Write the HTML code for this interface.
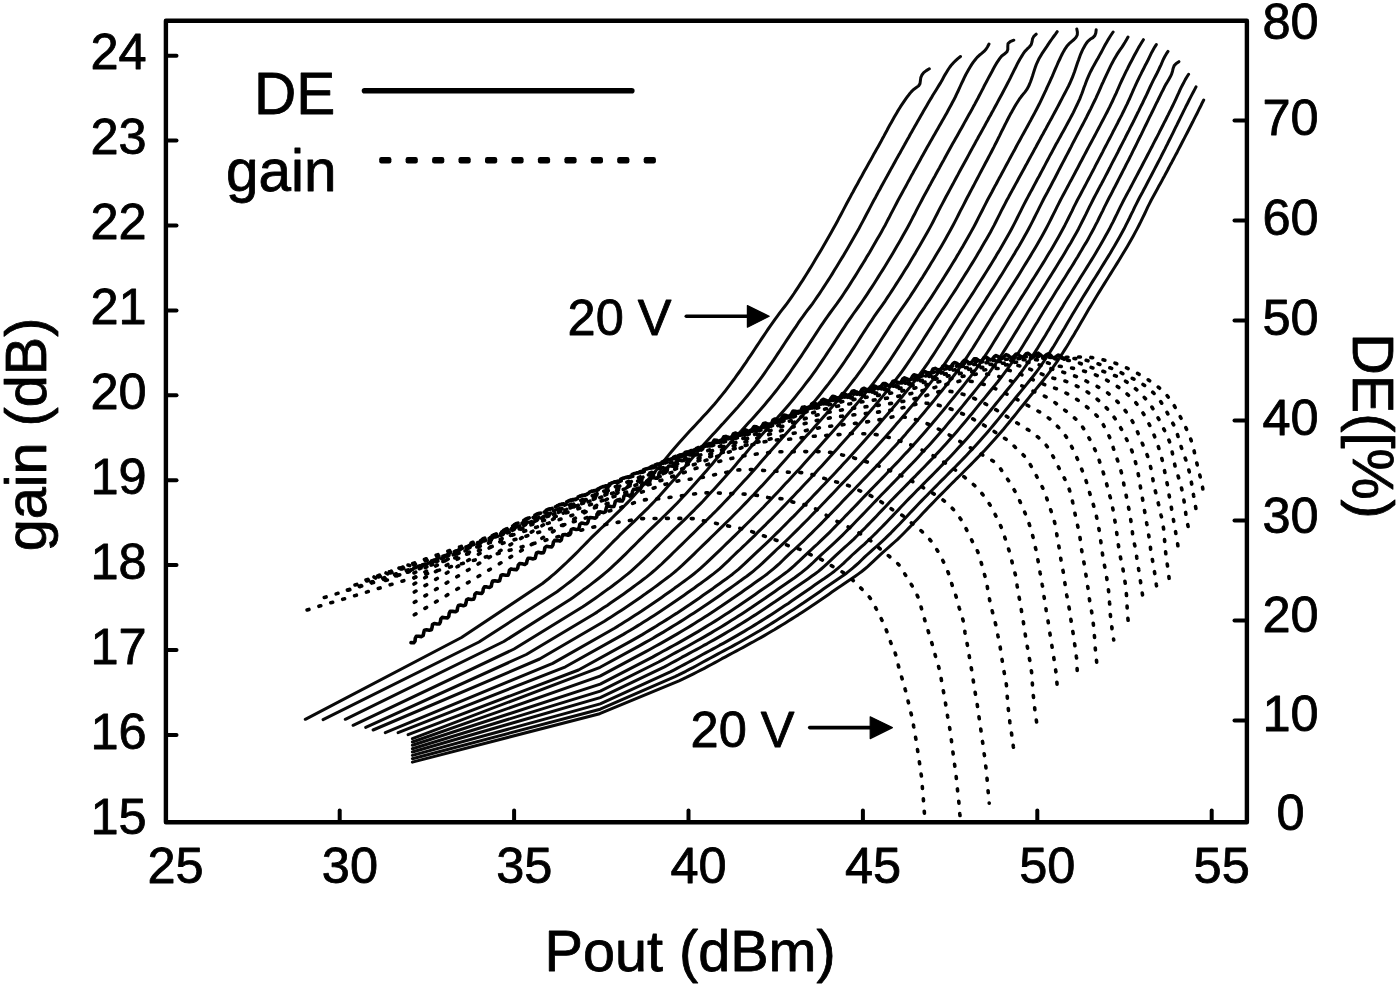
<!DOCTYPE html>
<html lang="en"><head><meta charset="utf-8"><title>gain and DE versus Pout</title><style>html,body{margin:0;padding:0;background:#fff}svg{display:block;filter:blur(0.65px)}</style></head><body>
<svg width="1400" height="989" viewBox="0 0 1400 989">
<rect width="1400" height="989" fill="#fff"/>
<g fill="none" stroke="#0a0a0a" stroke-width="3.0" stroke-linejoin="round" stroke-linecap="round">
<path d="M305.3 719.3 L461.5 637.5 L542.5 583.5 L545.6 581 L548.8 578.5 L551.8 575.9 L554.9 573.3 L557.9 570.6 L560.9 567.9 L563.8 565.2 L566.7 562.5 L569.6 559.7 L572.5 556.9 L575.3 554.1 L578.2 551.2 L581 548.3 L583.8 545.5 L586.6 542.6 L589.4 539.7 L592.2 536.9 L595.1 534.1 L598 531.3 L600.9 528.5 L603.8 525.8 L606.7 523 L609.6 520.3 L612.5 517.5 L615.4 514.7 L618.3 511.9 L621.2 509.1 L624 506.3 L626.8 503.4 L629.6 500.5 L632.3 497.5 L635 494.6 L637.7 491.6 L640.3 488.6 L643 485.6 L645.6 482.6 L648.2 479.5 L650.9 476.5 L653.5 473.4 L656.1 470.4 L658.6 467.3 L661.2 464.2 L663.7 461.1 L666.3 458 L668.8 454.9 L671.4 451.8 L674 448.7 L676.6 445.7 L679.2 442.7 L681.9 439.7 L684.6 436.7 L687.3 433.8 L690 430.8 L692.8 427.9 L695.5 425 L698.2 422 L701 419.1 L703.7 416.1 L706.4 413.2 L709.1 410.2 L711.7 407.2 L714.4 404.2 L717 401.1 L719.5 398 L722.1 394.9 L724.6 391.8 L727 388.6 L729.5 385.4 L731.9 382.2 L734.3 379 L736.6 375.7 L738.9 372.5 L741.3 369.2 L743.5 365.9 L745.8 362.6 L748 359.2 L750.3 355.9 L752.5 352.6 L754.7 349.2 L756.9 345.9 L759.2 342.5 L761.4 339.2 L763.6 335.9 L765.9 332.5 L768.1 329.2 L770.4 325.9 L772.7 322.6 L775 319.3 L777.4 316.1 L779.7 312.9 L782.2 309.7 L784.7 306.5 L787.1 303.3 L789.4 300.1 L791.7 296.8 L794 293.5 L796.2 290.1 L798.4 286.8 L800.6 283.4 L802.8 280.1 L804.9 276.7 L807.1 273.3 L809.2 269.9 L811.3 266.4 L813.4 263 L815.4 259.6 L817.5 256.1 L819.5 252.7 L821.6 249.2 L823.6 245.8 L825.6 242.3 L827.6 238.8 L829.6 235.3 L831.6 231.8 L833.5 228.3 L835.5 224.8 L837.4 221.3 L839.2 217.7 L841.1 214.2 L843 210.6 L844.8 207.1 L846.7 203.5 L848.6 200 L850.1 197.3 L851.5 194.6 L853 192 L854.4 189.3 L855.9 186.6 L857.4 183.9 L858.8 181.3 L860.3 178.6 L861.8 175.9 L863.2 173.3 L864.7 170.6 L866.2 167.9 L867.7 165.3 L869.2 162.6 L870.7 159.9 L872.2 157.3 L873.6 154.6 L875.1 152 L876.6 149.3 L878.1 146.7 L879.6 144 L881.1 141.3 L882.5 138.6 L884 135.9 L885.4 133.2 L886.9 130.5 L888.3 127.8 L889.8 125.1 L891.3 122.5 L892.8 119.8 L894.3 117.1 L895.8 114.5 L897.3 111.9 L898.9 109.3 L900.5 106.7 L902.2 104.2 L903.9 101.7 L905.6 99.2 L907.4 96.7 L909.2 94.3 L911.2 91.9 L913.3 89.7 L916 87.8 L918.6 85.9 L920 83.6 L920.4 80.6 L920.8 77.6 L921.9 75 L923.7 72.7 L926.3 70.6 L929.3 68.8"/>
<path d="M323.1 719.7 L479 642 L557 591.7 L560.2 589.3 L563.4 586.9 L566.6 584.4 L569.8 582 L573 579.5 L576.1 576.9 L579.2 574.4 L582.2 571.7 L585.2 569.1 L588.2 566.4 L591.2 563.6 L594.1 560.9 L597 558.1 L599.9 555.2 L602.7 552.4 L605.5 549.5 L608.4 546.6 L611.2 543.8 L614 540.9 L616.9 538.1 L619.7 535.2 L622.6 532.4 L625.5 529.6 L628.4 526.9 L631.3 524.1 L634.3 521.3 L637.2 518.5 L640.1 515.7 L643 512.9 L645.8 510.1 L648.7 507.3 L651.5 504.4 L654.3 501.5 L657 498.5 L659.8 495.6 L662.5 492.6 L665.2 489.6 L667.8 486.6 L670.5 483.6 L673.2 480.6 L675.8 477.5 L678.5 474.5 L681.1 471.5 L683.7 468.4 L686.3 465.3 L688.9 462.2 L691.4 459.1 L694 456 L696.6 453 L699.2 449.9 L701.8 446.8 L704.5 443.8 L707.2 440.8 L709.9 437.8 L712.6 434.8 L715.3 431.9 L718 428.9 L720.7 425.9 L723.5 423 L726.2 420 L728.9 417.1 L731.6 414.1 L734.3 411.1 L737 408.1 L739.6 405 L742.2 402 L744.8 398.9 L747.4 395.7 L749.9 392.6 L752.4 389.4 L754.8 386.3 L757.3 383 L759.7 379.8 L762.1 376.6 L764.4 373.3 L766.7 370 L769 366.7 L771.3 363.4 L773.6 360.1 L775.8 356.7 L778 353.4 L780.3 350 L782.5 346.7 L784.7 343.3 L786.9 339.9 L789.1 336.6 L791.4 333.2 L793.6 329.9 L795.9 326.6 L798.1 323.2 L800.4 319.9 L802.8 316.7 L805.1 313.4 L807.5 310.2 L810 307 L812.4 303.8 L814.7 300.5 L817 297.2 L819.3 293.8 L821.5 290.5 L823.7 287.1 L825.9 283.7 L828.1 280.4 L830.3 277 L832.4 273.6 L834.5 270.1 L836.6 266.7 L838.7 263.3 L840.8 259.8 L842.9 256.4 L844.9 252.9 L847 249.4 L849 246 L851 242.5 L853 239 L855 235.5 L857 232 L859 228.5 L860.9 224.9 L862.8 221.4 L864.7 217.8 L866.5 214.3 L868.4 210.7 L870.3 207.1 L872.1 203.6 L874 200 L875.5 197.4 L876.9 194.7 L878.3 192.1 L879.8 189.5 L881.2 186.8 L882.6 184.2 L884.1 181.6 L885.5 178.9 L887 176.3 L888.4 173.7 L889.9 171 L891.3 168.4 L892.8 165.8 L894.2 163.2 L895.7 160.5 L897.1 157.9 L898.6 155.3 L900.1 152.7 L901.5 150.1 L903 147.4 L904.5 144.8 L905.9 142.2 L907.4 139.6 L908.9 137 L910.3 134.3 L911.8 131.7 L913.3 129.1 L914.7 126.5 L916.2 123.9 L917.7 121.3 L919.2 118.7 L920.7 116 L922.2 113.4 L923.7 110.8 L925.2 108.2 L926.7 105.7 L928.2 103.1 L929.7 100.5 L931.3 97.9 L932.8 95.3 L934.4 92.8 L936 90.2 L937.5 87.7 L939.1 85.1 L940.7 82.6 L942.2 79.9 L943.6 77.3 L945.1 74.6 L946.7 72 L948.2 69.5 L949.9 67 L951.7 64.7 L953.7 62.5 L955.9 60.4 L958.1 58.4 L960.5 56.5"/>
<path d="M345.3 719.3 L503.8 641.5 L570.1 599.5 L573.4 597.2 L576.7 594.8 L579.9 592.5 L583.1 590.1 L586.4 587.8 L589.6 585.4 L592.8 582.9 L595.9 580.5 L599.1 578 L602.2 575.5 L605.3 572.9 L608.3 570.3 L611.3 567.6 L614.2 564.9 L617.2 562.2 L620.1 559.4 L622.9 556.6 L625.8 553.8 L628.6 551 L631.4 548.1 L634.3 545.3 L637.1 542.5 L639.9 539.6 L642.8 536.8 L645.6 534 L648.5 531.2 L651.4 528.4 L654.3 525.6 L657.2 522.9 L660.1 520.1 L662.9 517.3 L665.8 514.5 L668.7 511.7 L671.5 508.9 L674.3 506 L677.1 503.2 L679.9 500.3 L682.6 497.3 L685.3 494.4 L688 491.4 L690.7 488.5 L693.4 485.5 L696.1 482.5 L698.7 479.5 L701.4 476.5 L704 473.5 L706.7 470.5 L709.3 467.4 L711.9 464.4 L714.5 461.3 L717 458.3 L719.6 455.2 L722.2 452.1 L724.8 449.1 L727.5 446.1 L730.1 443.1 L732.8 440.1 L735.5 437.1 L738.2 434.1 L740.9 431.2 L743.6 428.2 L746.3 425.3 L749 422.3 L751.7 419.4 L754.4 416.4 L757 413.4 L759.7 410.4 L762.3 407.4 L764.9 404.4 L767.5 401.3 L770.1 398.2 L772.6 395.1 L775.1 392 L777.6 388.8 L780 385.7 L782.5 382.5 L784.9 379.3 L787.3 376 L789.6 372.8 L791.9 369.5 L794.2 366.2 L796.5 362.9 L798.7 359.6 L801 356.3 L803.2 353 L805.4 349.6 L807.6 346.3 L809.8 342.9 L812 339.6 L814.2 336.2 L816.4 332.9 L818.6 329.5 L820.8 326.2 L823.1 322.9 L825.3 319.6 L827.6 316.3 L830 313 L832.3 309.8 L834.7 306.6 L837.1 303.4 L839.4 300.1 L841.7 296.8 L843.9 293.5 L846.1 290.1 L848.3 286.8 L850.5 283.4 L852.6 280 L854.8 276.6 L856.9 273.2 L859 269.8 L861.1 266.4 L863.2 263 L865.3 259.6 L867.3 256.1 L869.4 252.7 L871.4 249.2 L873.4 245.8 L875.4 242.3 L877.4 238.8 L879.4 235.4 L881.4 231.9 L883.3 228.4 L885.3 224.9 L887.1 221.3 L889 217.8 L890.8 214.2 L892.7 210.6 L894.5 207.1 L896.4 203.5 L898.2 200 L899.7 197.3 L901.1 194.7 L902.6 192 L904 189.4 L905.5 186.7 L906.9 184.1 L908.3 181.4 L909.8 178.8 L911.2 176.1 L912.7 173.5 L914.1 170.8 L915.6 168.2 L917.1 165.5 L918.5 162.9 L920 160.3 L921.4 157.6 L922.9 155 L924.4 152.3 L925.8 149.7 L927.3 147 L928.8 144.4 L930.3 141.8 L931.8 139.2 L933.3 136.5 L934.8 133.9 L936.3 131.3 L937.8 128.7 L939.3 126.1 L940.8 123.4 L942.3 120.8 L943.8 118.2 L945.3 115.6 L946.8 112.9 L948.2 110.3 L949.7 107.6 L951.1 105 L952.5 102.3 L953.9 99.7 L955.3 97 L956.6 94.2 L957.9 91.5 L959.2 88.7 L960.4 86 L961.7 83.2 L963 80.5 L964.3 77.7 L965.6 75 L967 72.4 L968.5 69.8 L970 67.2 L971.6 64.6 L973.3 62.1 L975.2 59.7 L977.1 57.4 L979.3 55.3 L981.7 53.4 L984 51.4 L986 49.2 L987.6 46.7 L989 44"/>
<path d="M353.1 725.3 L514.1 649 L582.4 607 L585.8 604.8 L589.1 602.5 L592.4 600.3 L595.7 598 L599 595.6 L602.2 593.3 L605.5 590.9 L608.8 588.6 L612 586.2 L615.2 583.8 L618.4 581.4 L621.6 578.9 L624.7 576.4 L627.9 573.9 L630.9 571.3 L633.9 568.6 L636.9 565.9 L639.9 563.2 L642.8 560.4 L645.7 557.6 L648.6 554.8 L651.4 552 L654.3 549.2 L657.1 546.4 L660 543.5 L662.8 540.7 L665.7 537.9 L668.6 535.1 L671.4 532.2 L674.3 529.4 L677.2 526.7 L680.1 523.9 L683 521.1 L685.9 518.3 L688.7 515.5 L691.6 512.6 L694.5 509.8 L697.3 506.9 L700.1 504.1 L702.9 501.2 L705.6 498.2 L708.3 495.3 L711.1 492.3 L713.8 489.4 L716.5 486.4 L719.2 483.4 L721.9 480.4 L724.6 477.4 L727.2 474.4 L729.9 471.4 L732.6 468.4 L735.2 465.4 L737.8 462.3 L740.4 459.3 L743 456.2 L745.7 453.2 L748.3 450.1 L750.9 447.1 L753.6 444.1 L756.3 441.1 L758.9 438.1 L761.6 435.1 L764.3 432.1 L767 429.2 L769.7 426.2 L772.4 423.2 L775.1 420.2 L777.8 417.3 L780.5 414.2 L783.2 411.2 L785.8 408.2 L788.4 405.2 L791 402.1 L793.6 399 L796.1 395.9 L798.6 392.7 L801.1 389.6 L803.6 386.4 L806 383.2 L808.5 380 L810.9 376.8 L813.2 373.6 L815.6 370.3 L817.9 367 L820.2 363.7 L822.4 360.4 L824.7 357 L826.9 353.7 L829.1 350.3 L831.3 347 L833.5 343.6 L835.7 340.2 L837.9 336.9 L840.1 333.5 L842.3 330.1 L844.5 326.8 L846.7 323.4 L849 320.1 L851.3 316.8 L853.6 313.5 L855.9 310.3 L858.3 307 L860.6 303.8 L862.9 300.5 L865.2 297.1 L867.4 293.8 L869.6 290.4 L871.8 287.1 L874 283.7 L876.2 280.3 L878.3 276.9 L880.4 273.5 L882.6 270.1 L884.7 266.7 L886.8 263.2 L888.9 259.8 L890.9 256.4 L893 252.9 L895 249.4 L897 246 L899.1 242.5 L901.1 239 L903 235.5 L905 232 L907 228.5 L908.9 225 L910.8 221.4 L912.6 217.8 L914.5 214.3 L916.3 210.7 L918.1 207.1 L920 203.6 L921.9 200 L923.3 197.3 L924.8 194.6 L926.2 192 L927.7 189.3 L929.1 186.6 L930.6 183.9 L932 181.2 L933.5 178.6 L935 175.9 L936.4 173.2 L937.9 170.5 L939.4 167.9 L940.8 165.2 L942.3 162.5 L943.8 159.9 L945.2 157.2 L946.7 154.5 L948.2 151.8 L949.6 149.2 L951.1 146.5 L952.6 143.8 L954.1 141.2 L955.6 138.5 L957.1 135.9 L958.6 133.2 L960.1 130.5 L961.6 127.9 L963.1 125.2 L964.5 122.6 L966 119.9 L967.5 117.3 L969 114.6 L970.5 111.9 L972 109.3 L973.4 106.6 L974.9 103.9 L976.3 101.2 L977.8 98.5 L979.2 95.8 L980.6 93.1 L982 90.4 L983.4 87.7 L984.7 85 L986.2 82.3 L987.6 79.6 L989 76.9 L990.5 74.2 L992 71.5 L993.4 68.8 L994.9 66.1 L996.4 63.4 L998.1 60.9 L999.8 58.4 L1001.7 56 L1004.4 54 L1006.9 51.9 L1007.8 49.5 L1007.8 46.3 L1008 43.7 L1010.2 41.7 L1013.8 40.2"/>
<path d="M365.7 727.4 L526.3 654.5 L593.7 614.2 L597.1 612.1 L600.5 609.8 L603.8 607.6 L607.2 605.4 L610.5 603.1 L613.8 600.8 L617.1 598.5 L620.4 596.2 L623.7 593.9 L627 591.5 L630.2 589.2 L633.5 586.8 L636.7 584.4 L640 582 L643.2 579.5 L646.4 577.1 L649.5 574.6 L652.6 572 L655.7 569.4 L658.7 566.7 L661.7 564 L664.6 561.2 L667.5 558.4 L670.4 555.6 L673.2 552.8 L676.1 550 L679 547.2 L681.9 544.4 L684.8 541.5 L687.6 538.7 L690.5 535.9 L693.4 533.1 L696.3 530.2 L699.1 527.4 L702 524.6 L704.9 521.8 L707.8 519 L710.7 516.2 L713.5 513.3 L716.4 510.5 L719.2 507.6 L722 504.7 L724.8 501.8 L727.6 498.9 L730.3 496 L733.1 493 L735.8 490.1 L738.5 487.1 L741.3 484.1 L744 481.1 L746.7 478.2 L749.4 475.2 L752.1 472.2 L754.8 469.2 L757.4 466.2 L760.1 463.1 L762.7 460.1 L765.4 457 L768 454 L770.6 451 L773.3 447.9 L776 444.9 L778.6 441.9 L781.3 438.9 L784 435.9 L786.7 432.9 L789.4 429.9 L792.1 426.9 L794.8 424 L797.5 421 L800.2 417.9 L802.9 414.9 L805.5 411.9 L808.1 408.9 L810.8 405.8 L813.4 402.7 L815.9 399.6 L818.5 396.5 L821 393.4 L823.5 390.2 L826 387 L828.5 383.9 L830.9 380.7 L833.4 377.4 L835.8 374.2 L838.1 370.9 L840.4 367.7 L842.7 364.3 L845 361 L847.2 357.7 L849.5 354.3 L851.7 350.9 L853.9 347.6 L856.1 344.2 L858.3 340.8 L860.4 337.4 L862.6 334 L864.8 330.7 L867 327.3 L869.2 323.9 L871.5 320.6 L873.7 317.2 L876 313.9 L878.3 310.6 L880.7 307.3 L883 304.1 L885.3 300.8 L887.5 297.4 L889.8 294 L892 290.7 L894.2 287.3 L896.3 283.9 L898.5 280.5 L900.7 277.1 L902.8 273.7 L904.9 270.3 L907.1 266.9 L909.2 263.4 L911.2 260 L913.3 256.5 L915.4 253.1 L917.4 249.6 L919.5 246.1 L921.5 242.6 L923.5 239.1 L925.5 235.6 L927.5 232.1 L929.4 228.6 L931.3 225.1 L933.2 221.5 L935 217.9 L936.9 214.3 L938.7 210.7 L940.5 207.1 L942.4 203.6 L944.3 200 L945.7 197.3 L947.1 194.7 L948.6 192 L950 189.4 L951.4 186.7 L952.9 184.1 L954.3 181.4 L955.7 178.8 L957.2 176.1 L958.6 173.4 L960 170.8 L961.5 168.1 L962.9 165.5 L964.4 162.8 L965.8 160.2 L967.3 157.5 L968.7 154.9 L970.1 152.2 L971.6 149.6 L973 146.9 L974.5 144.3 L975.9 141.6 L977.4 139 L978.8 136.3 L980.3 133.7 L981.8 131.1 L983.2 128.4 L984.7 125.8 L986.1 123.1 L987.6 120.5 L989 117.8 L990.5 115.2 L991.9 112.5 L993.4 109.9 L994.8 107.3 L996.3 104.6 L997.7 101.9 L999.1 99.3 L1000.6 96.6 L1002 94 L1003.4 91.3 L1004.8 88.6 L1006.2 86 L1007.6 83.3 L1009 80.6 L1010.4 77.9 L1011.7 75.2 L1013.1 72.4 L1014.4 69.7 L1015.8 67 L1017.1 64.3 L1018.6 61.6 L1020 59 L1021.6 56.4 L1023.1 53.9 L1024.9 51.4 L1027 49.2 L1029.3 47 L1031.2 44.6 L1032 41.9 L1032.5 38.9 L1033.8 36.4 L1036.2 34.2"/>
<path d="M373.1 730 L539.6 659 L604.4 621.3 L607.8 619.1 L611.1 617 L614.5 614.8 L617.9 612.6 L621.2 610.4 L624.6 608.2 L627.9 606 L631.2 603.7 L634.5 601.5 L637.8 599.2 L641.1 596.9 L644.4 594.6 L647.6 592.2 L650.9 589.9 L654.1 587.6 L657.4 585.2 L660.6 582.8 L663.8 580.4 L667 578 L670.2 575.6 L673.3 573.1 L676.4 570.5 L679.4 567.8 L682.4 565.2 L685.3 562.4 L688.2 559.6 L691.1 556.9 L694 554.1 L696.8 551.3 L699.7 548.5 L702.6 545.7 L705.5 542.9 L708.4 540.1 L711.2 537.3 L714.1 534.5 L716.9 531.7 L719.8 528.9 L722.7 526.1 L725.5 523.3 L728.4 520.5 L731.2 517.7 L734.1 514.8 L736.9 512 L739.7 509.2 L742.5 506.3 L745.3 503.4 L748.1 500.5 L750.8 497.6 L753.6 494.7 L756.3 491.7 L759 488.8 L761.8 485.9 L764.5 482.9 L767.2 480 L769.9 477 L772.6 474.1 L775.3 471.1 L778 468.1 L780.6 465.1 L783.3 462.1 L786 459.1 L788.6 456.1 L791.2 453.1 L793.9 450.1 L796.5 447.1 L799.2 444.1 L801.9 441.1 L804.5 438.1 L807.2 435.1 L809.9 432.2 L812.6 429.2 L815.2 426.2 L817.9 423.2 L820.6 420.2 L823.2 417.2 L825.9 414.2 L828.5 411.1 L831.1 408.1 L833.7 405 L836.3 402 L838.8 398.9 L841.3 395.8 L843.9 392.6 L846.4 389.5 L848.8 386.4 L851.3 383.2 L853.7 380 L856.2 376.8 L858.5 373.6 L860.9 370.4 L863.2 367.1 L865.5 363.8 L867.7 360.5 L870 357.1 L872.2 353.8 L874.4 350.4 L876.5 347.1 L878.7 343.7 L880.9 340.3 L883 337 L885.2 333.6 L887.4 330.2 L889.5 326.9 L891.7 323.5 L893.9 320.1 L896.1 316.8 L898.4 313.5 L900.7 310.2 L903 306.9 L905.3 303.6 L907.5 300.3 L909.8 297 L911.9 293.6 L914.1 290.3 L916.3 286.9 L918.5 283.5 L920.6 280.1 L922.8 276.8 L924.9 273.4 L927 270 L929.1 266.6 L931.2 263.1 L933.3 259.7 L935.3 256.3 L937.4 252.8 L939.4 249.4 L941.5 245.9 L943.5 242.5 L945.5 239 L947.4 235.5 L949.4 232 L951.3 228.5 L953.2 225 L955.1 221.4 L956.9 217.8 L958.7 214.3 L960.5 210.7 L962.4 207.1 L964.2 203.6 L966 200 L967.4 197.3 L968.8 194.7 L970.2 192 L971.6 189.4 L973 186.7 L974.4 184.1 L975.8 181.4 L977.2 178.8 L978.6 176.1 L980 173.4 L981.4 170.8 L982.8 168.1 L984.2 165.5 L985.6 162.8 L987 160.2 L988.4 157.5 L989.8 154.9 L991.2 152.2 L992.6 149.5 L994 146.9 L995.3 144.2 L996.7 141.5 L998 138.8 L999.4 136.1 L1000.7 133.4 L1002 130.7 L1003.4 128 L1004.7 125.3 L1006.1 122.6 L1007.4 120 L1008.8 117.3 L1010.2 114.6 L1011.7 112 L1013.1 109.4 L1014.6 106.8 L1016.1 104.2 L1017.7 101.7 L1019.3 99.2 L1021.1 96.8 L1023 94.4 L1024.9 92.1 L1026.7 89.7 L1028.2 87.1 L1029.4 84.5 L1030.5 81.7 L1031.5 78.9 L1032.5 76 L1033.4 73.1 L1034.3 70.2 L1035.3 67.3 L1036.3 64.5 L1037.5 61.8 L1038.8 59.1 L1040.3 56.5 L1041.8 53.9 L1043.5 51.4 L1045.2 48.9 L1046.9 46.4 L1048.5 43.9 L1050.2 41.4 L1051.9 39 L1053.7 36.5 L1055.5 34.1 L1057.2 31.7"/>
<path d="M385.3 732.6 L552.7 663.4 L614.5 628.2 L618 626.1 L621.4 623.9 L624.8 621.8 L628.2 619.7 L631.6 617.5 L635 615.3 L638.3 613.2 L641.7 611 L645 608.7 L648.4 606.5 L651.7 604.3 L655 602 L658.3 599.7 L661.6 597.4 L664.9 595.1 L668.2 592.8 L671.5 590.5 L674.7 588.1 L678 585.8 L681.2 583.4 L684.5 581 L687.7 578.6 L690.9 576.2 L694.1 573.7 L697.2 571.2 L700.2 568.6 L703.2 565.9 L706.2 563.2 L709.1 560.4 L712 557.6 L714.9 554.8 L717.8 552.1 L720.7 549.3 L723.6 546.5 L726.5 543.7 L729.4 540.9 L732.2 538.1 L735.1 535.3 L738 532.5 L740.8 529.7 L743.7 526.9 L746.6 524 L749.4 521.2 L752.3 518.4 L755.1 515.5 L757.9 512.7 L760.8 509.8 L763.6 507 L766.3 504.1 L769.1 501.2 L771.9 498.3 L774.7 495.3 L777.4 492.4 L780.2 489.5 L782.9 486.5 L785.6 483.6 L788.4 480.7 L791.1 477.7 L793.8 474.8 L796.6 471.8 L799.3 468.9 L802 465.9 L804.6 462.9 L807.3 459.9 L810 456.9 L812.7 453.9 L815.3 450.9 L818 447.9 L820.7 444.9 L823.3 441.9 L826 438.9 L828.7 435.9 L831.4 432.9 L834.1 429.9 L836.7 426.9 L839.4 423.9 L842 420.9 L844.7 417.9 L847.3 414.8 L849.9 411.8 L852.5 408.7 L855.1 405.7 L857.7 402.6 L860.3 399.5 L862.8 396.4 L865.3 393.2 L867.8 390.1 L870.3 387 L872.8 383.8 L875.3 380.6 L877.7 377.4 L880.1 374.2 L882.5 371 L884.8 367.7 L887.1 364.4 L889.4 361.1 L891.6 357.7 L893.8 354.4 L896 351 L898.2 347.7 L900.4 344.3 L902.5 340.9 L904.7 337.5 L906.8 334.1 L909 330.7 L911.2 327.3 L913.3 324 L915.5 320.6 L917.7 317.2 L919.9 313.9 L922.2 310.6 L924.5 307.3 L926.7 303.9 L929 300.6 L931.2 297.3 L933.4 293.9 L935.6 290.5 L937.7 287.1 L939.9 283.7 L942.1 280.4 L944.2 277 L946.3 273.6 L948.5 270.1 L950.6 266.7 L952.7 263.3 L954.8 259.9 L956.8 256.4 L958.9 253 L960.9 249.5 L963 246.1 L965 242.6 L967 239.1 L969 235.6 L970.9 232.1 L972.9 228.6 L974.8 225 L976.6 221.5 L978.4 217.9 L980.2 214.3 L982.1 210.7 L983.9 207.1 L985.7 203.6 L987.5 200 L989 197.3 L990.4 194.7 L991.9 192 L993.3 189.3 L994.7 186.6 L996.2 184 L997.6 181.3 L999 178.6 L1000.5 175.9 L1001.9 173.3 L1003.4 170.6 L1004.8 167.9 L1006.2 165.3 L1007.7 162.6 L1009.1 159.9 L1010.5 157.2 L1012 154.6 L1013.4 151.9 L1014.9 149.2 L1016.3 146.5 L1017.7 143.9 L1019.2 141.2 L1020.7 138.5 L1022.1 135.9 L1023.6 133.2 L1025.1 130.6 L1026.5 127.9 L1028 125.2 L1029.4 122.6 L1030.9 119.9 L1032.3 117.2 L1033.8 114.6 L1035.2 111.9 L1036.6 109.2 L1038 106.5 L1039.4 103.8 L1040.7 101.1 L1042 98.4 L1043.3 95.6 L1044.6 92.9 L1045.9 90.1 L1047.1 87.3 L1048.4 84.6 L1049.7 81.8 L1050.9 79.1 L1052.2 76.3 L1053.4 73.5 L1054.6 70.7 L1055.8 67.9 L1057.1 65 L1058.3 62.2 L1059.6 59.5 L1060.9 56.7 L1062.2 54 L1063.6 51.4 L1065.1 48.8 L1066.8 46.3 L1068.9 43.9 L1071.5 41.7 L1074 39.5 L1076.1 37.2 L1077.3 34.8 L1077.4 32.1 L1076.8 29"/>
<path d="M398.1 732.6 L565.5 666.8 L623.4 634.4 L626.8 632.3 L630.3 630.3 L633.7 628.2 L637.1 626.1 L640.6 624 L644 621.8 L647.4 619.7 L650.8 617.5 L654.1 615.4 L657.5 613.2 L660.9 611 L664.2 608.8 L667.6 606.5 L670.9 604.3 L674.2 602 L677.5 599.8 L680.8 597.5 L684.1 595.2 L687.4 592.8 L690.7 590.5 L694 588.2 L697.2 585.8 L700.5 583.5 L703.7 581.1 L707 578.7 L710.2 576.3 L713.4 573.9 L716.5 571.4 L719.6 568.8 L722.6 566.1 L725.5 563.4 L728.5 560.6 L731.3 557.8 L734.2 555 L737.1 552.2 L740.1 549.5 L743 546.7 L745.9 544 L748.8 541.2 L751.7 538.4 L754.6 535.6 L757.4 532.7 L760.3 529.9 L763.1 527.1 L766 524.3 L768.8 521.4 L771.7 518.6 L774.5 515.7 L777.3 512.9 L780.1 510 L782.9 507.1 L785.7 504.2 L788.5 501.3 L791.3 498.4 L794.1 495.5 L796.8 492.6 L799.6 489.7 L802.3 486.7 L805.1 483.8 L807.8 480.9 L810.6 478 L813.3 475 L816.1 472.1 L818.8 469.1 L821.5 466.2 L824.2 463.2 L826.9 460.2 L829.6 457.2 L832.3 454.2 L835 451.2 L837.7 448.3 L840.3 445.3 L843 442.3 L845.7 439.3 L848.4 436.3 L851 433.3 L853.7 430.3 L856.4 427.3 L859 424.2 L861.7 421.2 L864.3 418.2 L866.9 415.1 L869.5 412.1 L872.1 409 L874.7 405.9 L877.3 402.8 L879.8 399.7 L882.4 396.6 L884.9 393.5 L887.4 390.4 L889.9 387.2 L892.4 384.1 L894.9 380.9 L897.3 377.7 L899.8 374.5 L902.1 371.3 L904.5 368 L906.8 364.7 L909 361.4 L911.3 358 L913.5 354.7 L915.7 351.3 L917.9 347.9 L920 344.6 L922.2 341.2 L924.3 337.8 L926.5 334.4 L928.6 331 L930.8 327.6 L932.9 324.2 L935.1 320.8 L937.3 317.4 L939.5 314.1 L941.7 310.7 L944 307.4 L946.2 304.1 L948.4 300.7 L950.6 297.3 L952.8 294 L955 290.6 L957.2 287.2 L959.3 283.8 L961.5 280.4 L963.6 277 L965.7 273.6 L967.9 270.2 L970 266.8 L972.1 263.4 L974.2 259.9 L976.3 256.5 L978.3 253 L980.4 249.6 L982.4 246.1 L984.4 242.6 L986.4 239.2 L988.4 235.7 L990.4 232.2 L992.3 228.6 L994.2 225.1 L996 221.5 L997.8 217.9 L999.6 214.3 L1001.4 210.7 L1003.2 207.2 L1005.1 203.6 L1006.9 200 L1008.4 197.4 L1009.8 194.7 L1011.3 192.1 L1012.7 189.4 L1014.2 186.7 L1015.6 184.1 L1017.1 181.4 L1018.5 178.8 L1020 176.1 L1021.4 173.5 L1022.9 170.8 L1024.3 168.2 L1025.7 165.5 L1027.2 162.9 L1028.6 160.2 L1030.1 157.6 L1031.5 154.9 L1033 152.3 L1034.4 149.6 L1035.9 147 L1037.3 144.3 L1038.7 141.7 L1040.2 139 L1041.6 136.3 L1043.1 133.7 L1044.5 131 L1046 128.4 L1047.4 125.7 L1048.9 123.1 L1050.3 120.4 L1051.8 117.8 L1053.2 115.1 L1054.6 112.5 L1056.1 109.8 L1057.5 107.1 L1058.9 104.5 L1060.3 101.8 L1061.7 99.1 L1063.1 96.4 L1064.5 93.8 L1065.9 91.1 L1067.3 88.4 L1068.7 85.7 L1070 83 L1071.2 80.2 L1072.4 77.4 L1073.5 74.5 L1074.6 71.5 L1075.6 68.5 L1076.6 65.5 L1077.6 62.5 L1078.7 59.6 L1079.7 56.7 L1080.8 53.8 L1082 51.1 L1083.3 48.4 L1084.7 45.9 L1086.2 43.5 L1087.8 41.3 L1090.1 39.3 L1092.9 37.6 L1094.8 35.6 L1095.8 33 L1096.2 29.8"/>
<path d="M408.1 734.6 L578.5 670 L631.8 640.6 L635.3 638.6 L638.8 636.6 L642.3 634.6 L645.7 632.5 L649.2 630.4 L652.6 628.4 L656.1 626.3 L659.5 624.1 L662.9 622 L666.3 619.9 L669.7 617.7 L673.1 615.5 L676.5 613.4 L679.8 611.2 L683.2 608.9 L686.5 606.7 L689.9 604.5 L693.2 602.2 L696.5 599.9 L699.8 597.7 L703.1 595.3 L706.4 593 L709.7 590.7 L713 588.4 L716.2 586 L719.5 583.7 L722.8 581.3 L726.1 579 L729.3 576.6 L732.5 574.2 L735.6 571.7 L738.7 569.1 L741.7 566.4 L744.7 563.7 L747.6 560.9 L750.5 558.2 L753.4 555.4 L756.3 552.6 L759.3 549.8 L762.2 547.1 L765.2 544.3 L768.1 541.6 L771 538.8 L773.8 536 L776.7 533.1 L779.6 530.3 L782.4 527.5 L785.3 524.6 L788.1 521.8 L790.9 518.9 L793.8 516.1 L796.6 513.2 L799.4 510.3 L802.2 507.4 L805 504.5 L807.8 501.6 L810.6 498.7 L813.3 495.8 L816.1 492.9 L818.9 490 L821.6 487.1 L824.4 484.2 L827.2 481.2 L830 478.3 L832.7 475.4 L835.5 472.5 L838.2 469.5 L841 466.6 L843.7 463.6 L846.4 460.7 L849.1 457.7 L851.8 454.7 L854.5 451.7 L857.2 448.7 L859.9 445.7 L862.6 442.7 L865.3 439.7 L867.9 436.7 L870.6 433.7 L873.3 430.7 L875.9 427.7 L878.6 424.7 L881.2 421.6 L883.8 418.6 L886.4 415.5 L889 412.5 L891.6 409.4 L894.2 406.3 L896.8 403.2 L899.3 400.1 L901.9 397 L904.4 393.8 L906.9 390.7 L909.5 387.6 L912 384.4 L914.5 381.3 L916.9 378.1 L919.3 374.9 L921.7 371.6 L924.1 368.4 L926.4 365.1 L928.7 361.8 L930.9 358.4 L933.1 355.1 L935.3 351.7 L937.5 348.3 L939.7 344.9 L941.8 341.5 L943.9 338.1 L946.1 334.7 L948.2 331.3 L950.3 327.9 L952.5 324.5 L954.6 321.1 L956.8 317.7 L959 314.3 L961.2 310.9 L963.4 307.6 L965.6 304.2 L967.8 300.9 L970 297.5 L972.2 294.1 L974.4 290.7 L976.5 287.3 L978.7 283.9 L980.8 280.5 L983 277.1 L985.1 273.7 L987.3 270.3 L989.4 266.9 L991.5 263.5 L993.6 260 L995.7 256.6 L997.7 253.1 L999.8 249.7 L1001.8 246.2 L1003.8 242.7 L1005.8 239.2 L1007.8 235.7 L1009.8 232.2 L1011.7 228.7 L1013.6 225.1 L1015.4 221.6 L1017.2 218 L1019 214.4 L1020.8 210.8 L1022.6 207.2 L1024.4 203.6 L1026.3 200 L1027.7 197.4 L1029.1 194.7 L1030.5 192.1 L1032 189.4 L1033.4 186.8 L1034.8 184.1 L1036.2 181.5 L1037.6 178.8 L1039.1 176.2 L1040.5 173.5 L1041.9 170.9 L1043.3 168.2 L1044.7 165.6 L1046.1 162.9 L1047.5 160.2 L1048.9 157.6 L1050.3 154.9 L1051.8 152.3 L1053.2 149.6 L1054.6 147 L1056 144.3 L1057.5 141.7 L1058.9 139.1 L1060.4 136.4 L1061.8 133.8 L1063.3 131.2 L1064.8 128.5 L1066.2 125.9 L1067.6 123.2 L1069.1 120.6 L1070.5 117.9 L1071.9 115.3 L1073.3 112.6 L1074.6 109.9 L1075.9 107.2 L1077.2 104.5 L1078.4 101.8 L1079.7 99.1 L1080.8 96.3 L1081.9 93.5 L1082.9 90.7 L1083.9 87.8 L1085 85 L1086 82.2 L1087.1 79.4 L1088.3 76.6 L1089.5 73.9 L1090.8 71.2 L1092.2 68.5 L1093.6 65.9 L1095.1 63.3 L1096.6 60.6 L1098.1 58 L1099.5 55.4 L1101 52.7 L1102.4 50.1 L1103.8 47.4 L1105.2 44.8 L1106.7 42.2 L1108.2 39.6 L1109.8 37 L1111.4 34.5 L1113.1 32"/>
<path d="M412.4 738.6 L600.1 667.3 L638.9 646.1 L642.4 644.1 L645.9 642.1 L649.4 640.2 L652.9 638.2 L656.3 636.1 L659.8 634.1 L663.3 632.1 L666.7 630 L670.2 627.9 L673.6 625.8 L677 623.7 L680.4 621.6 L683.8 619.4 L687.2 617.3 L690.6 615.1 L694 612.9 L697.3 610.7 L700.7 608.5 L704 606.3 L707.4 604 L710.7 601.8 L714 599.5 L717.3 597.2 L720.6 594.9 L723.9 592.6 L727.1 590.3 L730.4 588 L733.7 585.6 L737 583.3 L740.2 580.9 L743.5 578.6 L746.8 576.3 L750 573.8 L753.1 571.3 L756.2 568.7 L759.2 566.1 L762.2 563.4 L765.1 560.6 L768 557.8 L770.9 555.1 L773.8 552.3 L776.7 549.5 L779.7 546.8 L782.6 544.1 L785.6 541.3 L788.5 538.5 L791.3 535.7 L794.2 532.9 L797 530.1 L799.9 527.2 L802.7 524.4 L805.6 521.5 L808.4 518.7 L811.2 515.8 L814 512.9 L816.8 510 L819.6 507.2 L822.4 504.3 L825.1 501.4 L827.9 498.5 L830.7 495.6 L833.5 492.7 L836.3 489.7 L839 486.8 L841.8 483.9 L844.6 481 L847.4 478.1 L850.1 475.2 L852.9 472.3 L855.7 469.4 L858.4 466.5 L861.2 463.5 L863.9 460.6 L866.6 457.6 L869.3 454.6 L872 451.7 L874.7 448.7 L877.4 445.7 L880.1 442.7 L882.8 439.7 L885.5 436.7 L888.1 433.7 L890.8 430.7 L893.4 427.7 L896 424.6 L898.7 421.6 L901.3 418.5 L903.9 415.5 L906.5 412.4 L909 409.3 L911.6 406.2 L914.2 403.1 L916.7 400 L919.2 396.9 L921.8 393.8 L924.3 390.7 L926.8 387.5 L929.3 384.4 L931.8 381.2 L934.3 378.1 L936.7 374.9 L939.1 371.6 L941.5 368.4 L943.8 365.1 L946 361.8 L948.3 358.4 L950.5 355.1 L952.7 351.7 L954.9 348.3 L957 344.9 L959.1 341.5 L961.3 338.1 L963.4 334.7 L965.5 331.3 L967.6 327.9 L969.8 324.5 L971.9 321.1 L974 317.7 L976.2 314.3 L978.4 310.9 L980.6 307.5 L982.8 304.2 L985 300.8 L987.1 297.4 L989.3 294 L991.4 290.6 L993.6 287.3 L995.8 283.9 L997.9 280.5 L1000 277.1 L1002.2 273.7 L1004.3 270.3 L1006.4 266.8 L1008.5 263.4 L1010.6 260 L1012.7 256.5 L1014.8 253.1 L1016.8 249.6 L1018.9 246.2 L1020.9 242.7 L1022.9 239.2 L1024.8 235.7 L1026.8 232.2 L1028.7 228.7 L1030.6 225.1 L1032.4 221.6 L1034.2 218 L1036 214.4 L1037.8 210.8 L1039.6 207.2 L1041.4 203.6 L1043.2 200 L1044.6 197.3 L1046 194.7 L1047.5 192 L1048.9 189.3 L1050.3 186.7 L1051.7 184 L1053.1 181.3 L1054.5 178.7 L1055.9 176 L1057.3 173.3 L1058.6 170.7 L1060 168 L1061.4 165.3 L1062.8 162.6 L1064.2 160 L1065.6 157.3 L1067 154.6 L1068.4 152 L1069.8 149.3 L1071.2 146.6 L1072.5 143.9 L1073.9 141.3 L1075.3 138.6 L1076.7 135.9 L1078.1 133.3 L1079.5 130.6 L1080.9 127.9 L1082.3 125.2 L1083.7 122.6 L1085.1 119.9 L1086.5 117.2 L1087.8 114.5 L1089.2 111.8 L1090.6 109.1 L1091.9 106.4 L1093.2 103.7 L1094.5 101 L1095.8 98.3 L1097 95.6 L1098.3 92.8 L1099.5 90.1 L1100.7 87.3 L1101.9 84.5 L1103.2 81.8 L1104.4 79.1 L1105.7 76.3 L1107 73.6 L1108.3 70.9 L1109.6 68.2 L1110.9 65.4 L1112.3 62.8 L1113.7 60.1 L1115.2 57.5 L1116.7 54.9 L1118.3 52.4 L1120 49.9 L1121.8 47.4 L1123.4 44.9 L1125 42.3 L1126.5 39.7 L1128 37.1"/>
<path d="M412.4 742 L600 676.1 L645.8 651.6 L649.3 649.7 L652.8 647.8 L656.4 645.8 L659.9 643.9 L663.4 641.9 L666.9 639.9 L670.4 637.9 L673.8 635.9 L677.3 633.9 L680.8 631.8 L684.2 629.8 L687.6 627.7 L691.1 625.6 L694.5 623.5 L697.9 621.3 L701.3 619.2 L704.7 617 L708 614.9 L711.4 612.7 L714.8 610.5 L718.1 608.3 L721.5 606.1 L724.8 603.8 L728.1 601.6 L731.4 599.3 L734.7 597 L738 594.7 L741.3 592.4 L744.6 590.1 L747.9 587.7 L751.2 585.4 L754.5 583.1 L757.7 580.8 L761 578.5 L764.3 576.1 L767.5 573.7 L770.6 571.2 L773.7 568.6 L776.7 566 L779.7 563.3 L782.6 560.5 L785.5 557.7 L788.4 554.9 L791.3 552.2 L794.3 549.5 L797.2 546.8 L800.2 544 L803.1 541.3 L806 538.5 L808.9 535.7 L811.8 532.9 L814.6 530 L817.4 527.2 L820.3 524.4 L823.1 521.5 L825.9 518.6 L828.7 515.7 L831.5 512.9 L834.3 510 L837.1 507.1 L839.9 504.2 L842.6 501.3 L845.4 498.4 L848.2 495.5 L851 492.6 L853.8 489.7 L856.6 486.8 L859.3 483.9 L862.1 481 L864.9 478.1 L867.7 475.2 L870.5 472.3 L873.3 469.4 L876 466.5 L878.8 463.6 L881.5 460.6 L884.2 457.7 L887 454.8 L889.7 451.8 L892.4 448.8 L895.1 445.9 L897.8 442.9 L900.5 439.9 L903.1 436.9 L905.8 433.9 L908.4 430.8 L911.1 427.8 L913.7 424.8 L916.3 421.7 L918.9 418.6 L921.5 415.6 L924.1 412.5 L926.6 409.4 L929.2 406.3 L931.7 403.2 L934.3 400.1 L936.8 397 L939.3 393.9 L941.9 390.7 L944.4 387.6 L946.9 384.5 L949.4 381.3 L951.9 378.2 L954.3 375 L956.7 371.8 L959.1 368.5 L961.4 365.2 L963.7 361.9 L965.9 358.6 L968.1 355.2 L970.3 351.8 L972.5 348.5 L974.6 345.1 L976.7 341.7 L978.9 338.3 L981 334.8 L983.1 331.4 L985.2 328 L987.3 324.6 L989.4 321.2 L991.5 317.7 L993.6 314.3 L995.8 311 L998 307.6 L1000.2 304.2 L1002.3 300.8 L1004.5 297.4 L1006.6 294 L1008.8 290.6 L1010.9 287.3 L1013.1 283.9 L1015.2 280.5 L1017.4 277.1 L1019.5 273.7 L1021.6 270.2 L1023.7 266.8 L1025.8 263.4 L1027.9 260 L1030 256.6 L1032.1 253.1 L1034.1 249.7 L1036.2 246.2 L1038.2 242.7 L1040.2 239.2 L1042.2 235.7 L1044.1 232.2 L1046 228.7 L1047.9 225.1 L1049.7 221.6 L1051.5 218 L1053.3 214.4 L1055.1 210.8 L1056.9 207.2 L1058.7 203.6 L1060.5 200 L1061.9 197.4 L1063.3 194.7 L1064.8 192 L1066.2 189.4 L1067.6 186.7 L1069 184.1 L1070.4 181.4 L1071.9 178.8 L1073.3 176.1 L1074.7 173.5 L1076.1 170.8 L1077.5 168.2 L1078.9 165.5 L1080.3 162.8 L1081.7 160.2 L1083.1 157.5 L1084.5 154.9 L1085.9 152.2 L1087.3 149.5 L1088.7 146.9 L1090.1 144.2 L1091.6 141.5 L1093 138.9 L1094.4 136.2 L1095.8 133.6 L1097.2 130.9 L1098.6 128.3 L1100 125.6 L1101.4 122.9 L1102.8 120.3 L1104.2 117.6 L1105.6 114.9 L1107 112.2 L1108.3 109.6 L1109.7 106.9 L1111 104.2 L1112.3 101.5 L1113.6 98.7 L1114.8 96 L1116.1 93.3 L1117.3 90.5 L1118.5 87.8 L1119.7 85 L1120.9 82.3 L1122.2 79.5 L1123.5 76.8 L1124.8 74.1 L1126.1 71.4 L1127.5 68.7 L1128.8 66 L1130.2 63.3 L1131.6 60.7 L1133 58 L1134.4 55.3 L1135.8 52.7 L1137.3 50 L1138.7 47.4 L1140.3 44.8 L1141.8 42.3 L1143.4 39.7"/>
<path d="M412.4 745.3 L600.2 684.1 L652.5 657.1 L656 655.1 L659.5 653.2 L663 651.3 L666.6 649.4 L670.1 647.4 L673.6 645.5 L677.1 643.6 L680.6 641.6 L684.1 639.6 L687.6 637.6 L691.1 635.6 L694.5 633.6 L698 631.6 L701.4 629.5 L704.9 627.4 L708.3 625.3 L711.7 623.2 L715.1 621.1 L718.5 618.9 L721.9 616.8 L725.3 614.6 L728.6 612.4 L732 610.2 L735.3 608 L738.7 605.8 L742 603.5 L745.3 601.3 L748.6 599 L751.9 596.7 L755.2 594.4 L758.5 592.1 L761.8 589.8 L765.1 587.5 L768.4 585.2 L771.7 582.9 L775 580.6 L778.3 578.3 L781.5 575.9 L784.7 573.5 L787.9 571.1 L791 568.5 L794 565.9 L796.9 563.1 L799.9 560.4 L802.8 557.6 L805.7 554.8 L808.6 552.1 L811.6 549.4 L814.5 546.7 L817.5 544 L820.4 541.2 L823.3 538.4 L826.2 535.6 L829.1 532.8 L831.9 530 L834.7 527.1 L837.5 524.3 L840.4 521.4 L843.2 518.5 L845.9 515.6 L848.7 512.8 L851.5 509.9 L854.3 507 L857.1 504.1 L859.8 501.2 L862.6 498.3 L865.4 495.4 L868.2 492.5 L871 489.6 L873.8 486.7 L876.6 483.9 L879.4 481 L882.2 478.1 L885 475.2 L887.8 472.3 L890.6 469.4 L893.3 466.5 L896.1 463.6 L898.9 460.7 L901.6 457.8 L904.3 454.8 L907.1 451.9 L909.8 448.9 L912.5 446 L915.2 443 L917.9 440 L920.5 437 L923.2 434 L925.8 431 L928.4 427.9 L931 424.9 L933.6 421.8 L936.2 418.7 L938.8 415.6 L941.4 412.6 L943.9 409.5 L946.5 406.4 L949 403.2 L951.5 400.1 L954.1 397 L956.6 393.9 L959.2 390.8 L961.7 387.7 L964.2 384.6 L966.7 381.4 L969.2 378.3 L971.6 375.1 L974 371.9 L976.4 368.6 L978.7 365.3 L981 362 L983.2 358.7 L985.4 355.3 L987.6 352 L989.8 348.6 L991.9 345.2 L994 341.8 L996.1 338.4 L998.2 334.9 L1000.3 331.5 L1002.4 328.1 L1004.5 324.7 L1006.6 321.2 L1008.7 317.8 L1010.8 314.4 L1012.9 311 L1015.1 307.6 L1017.3 304.2 L1019.4 300.8 L1021.5 297.4 L1023.7 294 L1025.8 290.6 L1028 287.2 L1030.1 283.8 L1032.2 280.4 L1034.4 277 L1036.5 273.6 L1038.6 270.2 L1040.8 266.8 L1042.9 263.4 L1045 260 L1047 256.6 L1049.1 253.1 L1051.2 249.7 L1053.2 246.2 L1055.2 242.7 L1057.2 239.2 L1059.2 235.7 L1061.1 232.2 L1063 228.7 L1064.9 225.2 L1066.7 221.6 L1068.5 218 L1070.3 214.4 L1072.1 210.8 L1073.8 207.2 L1075.6 203.6 L1077.4 200 L1078.9 197.3 L1080.3 194.7 L1081.7 192 L1083.1 189.4 L1084.5 186.7 L1085.9 184.1 L1087.3 181.4 L1088.7 178.7 L1090.1 176.1 L1091.5 173.4 L1092.9 170.8 L1094.3 168.1 L1095.6 165.4 L1097 162.8 L1098.4 160.1 L1099.8 157.4 L1101.2 154.8 L1102.6 152.1 L1103.9 149.4 L1105.3 146.7 L1106.7 144.1 L1108.1 141.4 L1109.5 138.7 L1110.9 136.1 L1112.3 133.4 L1113.6 130.7 L1115 128.1 L1116.4 125.4 L1117.8 122.7 L1119.1 120 L1120.5 117.4 L1121.9 114.7 L1123.2 112 L1124.5 109.3 L1125.8 106.6 L1127.2 103.9 L1128.4 101.2 L1129.7 98.5 L1130.9 95.7 L1132.1 93 L1133.3 90.2 L1134.5 87.5 L1135.8 84.7 L1137 82 L1138.3 79.3 L1139.6 76.6 L1141 73.9 L1142.3 71.2 L1143.7 68.5 L1145 65.8 L1146.4 63.2 L1147.8 60.5 L1149.1 57.8 L1150.4 55.1 L1151.7 52.4 L1153.2 49.7 L1154.7 47.1 L1156.3 44.6"/>
<path d="M412.4 748.7 L600.3 691.1 L658.6 662 L662.1 660.1 L665.6 658.2 L669.1 656.3 L672.6 654.3 L676.1 652.4 L679.7 650.5 L683.2 648.6 L686.7 646.7 L690.2 644.7 L693.7 642.8 L697.2 640.8 L700.7 638.9 L704.2 636.9 L707.6 634.9 L711.1 632.9 L714.5 630.8 L718 628.7 L721.4 626.7 L724.8 624.6 L728.2 622.4 L731.6 620.3 L735 618.2 L738.4 616 L741.7 613.9 L745.1 611.7 L748.4 609.5 L751.8 607.3 L755.1 605 L758.4 602.8 L761.8 600.5 L765.1 598.3 L768.3 596 L771.6 593.7 L774.9 591.4 L778.2 589.1 L781.5 586.8 L784.8 584.5 L788 582.2 L791.3 579.9 L794.6 577.7 L797.9 575.3 L801.1 572.9 L804.2 570.4 L807.3 567.8 L810.3 565.2 L813.2 562.5 L816.1 559.7 L819 556.9 L821.9 554.2 L824.9 551.5 L827.8 548.8 L830.8 546.1 L833.8 543.4 L836.7 540.7 L839.6 537.9 L842.5 535.1 L845.3 532.3 L848.1 529.4 L851 526.6 L853.8 523.7 L856.6 520.8 L859.3 518 L862.1 515.1 L864.9 512.2 L867.7 509.3 L870.4 506.4 L873.2 503.5 L876 500.6 L878.7 497.7 L881.5 494.8 L884.3 492 L887.1 489.1 L889.9 486.2 L892.7 483.4 L895.5 480.5 L898.3 477.6 L901.1 474.8 L903.9 471.9 L906.7 469 L909.5 466.1 L912.3 463.3 L915 460.4 L917.8 457.4 L920.5 454.5 L923.2 451.6 L926 448.6 L928.7 445.7 L931.4 442.7 L934 439.7 L936.7 436.7 L939.3 433.7 L941.9 430.7 L944.6 427.7 L947.1 424.6 L949.7 421.5 L952.3 418.5 L954.8 415.4 L957.4 412.3 L959.9 409.2 L962.5 406.1 L965 403 L967.5 399.9 L970.1 396.8 L972.6 393.7 L975.1 390.6 L977.7 387.4 L980.2 384.3 L982.7 381.2 L985.1 378.1 L987.6 374.9 L990 371.7 L992.3 368.4 L994.7 365.2 L996.9 361.9 L999.2 358.5 L1001.4 355.2 L1003.5 351.8 L1005.7 348.4 L1007.8 345 L1009.9 341.6 L1012 338.2 L1014.1 334.8 L1016.2 331.4 L1018.3 327.9 L1020.3 324.5 L1022.4 321.1 L1024.5 317.7 L1026.6 314.3 L1028.7 310.8 L1030.8 307.4 L1032.9 304.1 L1035.1 300.7 L1037.2 297.3 L1039.3 293.9 L1041.4 290.5 L1043.6 287.1 L1045.7 283.7 L1047.8 280.3 L1050 276.9 L1052.1 273.5 L1054.2 270.1 L1056.3 266.7 L1058.4 263.3 L1060.5 259.9 L1062.6 256.5 L1064.7 253 L1066.7 249.6 L1068.7 246.1 L1070.8 242.7 L1072.7 239.2 L1074.7 235.7 L1076.7 232.2 L1078.6 228.7 L1080.4 225.1 L1082.2 221.5 L1084 218 L1085.8 214.4 L1087.5 210.8 L1089.3 207.2 L1091.1 203.6 L1092.9 200 L1094.3 197.3 L1095.7 194.6 L1097.1 192 L1098.5 189.3 L1099.9 186.6 L1101.4 183.9 L1102.8 181.2 L1104.2 178.6 L1105.6 175.9 L1107 173.2 L1108.4 170.5 L1109.8 167.8 L1111.1 165.1 L1112.5 162.4 L1113.9 159.7 L1115.3 157.1 L1116.7 154.4 L1118.1 151.7 L1119.4 149 L1120.8 146.3 L1122.2 143.6 L1123.6 140.9 L1125 138.2 L1126.3 135.5 L1127.7 132.8 L1129.1 130.1 L1130.4 127.4 L1131.8 124.7 L1133.2 122 L1134.5 119.3 L1135.9 116.5 L1137.2 113.8 L1138.6 111.1 L1139.9 108.4 L1141.2 105.7 L1142.6 103 L1143.9 100.2 L1145.2 97.5 L1146.5 94.8 L1147.8 92 L1149 89.3 L1150.3 86.5 L1151.6 83.8 L1152.9 81.1 L1154.3 78.4 L1155.7 75.7 L1157.1 73 L1158.4 70.3 L1159.7 67.5 L1161 64.8 L1162.2 62 L1163.4 59.2 L1164.8 56.5 L1166.3 53.9 L1168 51.4"/>
<path d="M412.4 752 L600.2 697.6 L664.5 666.9 L668 665 L671.5 663 L675.1 661.1 L678.6 659.2 L682.1 657.2 L685.7 655.3 L689.2 653.4 L692.7 651.5 L696.3 649.6 L699.8 647.7 L703.3 645.7 L706.9 643.8 L710.4 641.8 L713.9 639.9 L717.4 637.9 L720.9 635.9 L724.3 633.9 L727.8 631.8 L731.3 629.8 L734.7 627.7 L738.1 625.6 L741.6 623.5 L745 621.4 L748.4 619.2 L751.8 617 L755.2 614.9 L758.5 612.7 L761.9 610.5 L765.3 608.3 L768.6 606.1 L771.9 603.8 L775.3 601.6 L778.6 599.3 L781.9 597 L785.2 594.7 L788.5 592.4 L791.8 590.1 L795.1 587.8 L798.4 585.5 L801.7 583.2 L805 581 L808.3 578.7 L811.6 576.3 L814.9 574 L818.1 571.6 L821.2 569 L824.2 566.4 L827.2 563.7 L830.1 560.9 L833 558.1 L835.9 555.3 L838.9 552.6 L841.9 549.9 L844.9 547.2 L847.9 544.5 L850.8 541.8 L853.8 539.1 L856.6 536.3 L859.5 533.5 L862.3 530.6 L865.2 527.8 L868 524.9 L870.8 522 L873.6 519.1 L876.4 516.2 L879.1 513.3 L881.9 510.4 L884.7 507.5 L887.5 504.5 L890.2 501.6 L893 498.7 L895.8 495.9 L898.6 493 L901.5 490.1 L904.3 487.2 L907.1 484.4 L909.9 481.5 L912.7 478.6 L915.6 475.8 L918.4 472.9 L921.2 470 L924 467.2 L926.8 464.3 L929.6 461.4 L932.4 458.5 L935.1 455.5 L937.9 452.6 L940.6 449.7 L943.3 446.7 L946.1 443.7 L948.7 440.8 L951.4 437.7 L954.1 434.7 L956.7 431.7 L959.3 428.6 L961.9 425.6 L964.5 422.5 L967.1 419.4 L969.6 416.3 L972.2 413.2 L974.7 410.1 L977.3 406.9 L979.8 403.8 L982.3 400.7 L984.9 397.6 L987.4 394.5 L990 391.3 L992.5 388.2 L995 385.1 L997.6 382 L1000 378.8 L1002.5 375.6 L1004.9 372.4 L1007.3 369.2 L1009.6 365.9 L1011.9 362.6 L1014.2 359.3 L1016.4 355.9 L1018.6 352.5 L1020.7 349.2 L1022.9 345.7 L1025 342.3 L1027.1 338.9 L1029.2 335.5 L1031.3 332 L1033.3 328.6 L1035.4 325.1 L1037.5 321.7 L1039.5 318.2 L1041.6 314.8 L1043.7 311.3 L1045.8 307.9 L1047.9 304.5 L1050 301.1 L1052.2 297.7 L1054.3 294.3 L1056.4 290.8 L1058.6 287.4 L1060.7 284 L1062.8 280.6 L1065 277.2 L1067.1 273.8 L1069.2 270.4 L1071.4 267 L1073.5 263.6 L1075.6 260.1 L1077.7 256.7 L1079.7 253.2 L1081.8 249.8 L1083.8 246.3 L1085.9 242.9 L1087.9 239.4 L1089.8 235.9 L1091.8 232.3 L1093.7 228.8 L1095.5 225.2 L1097.4 221.6 L1099.1 218 L1100.9 214.4 L1102.7 210.8 L1104.4 207.2 L1106.2 203.6 L1108 200 L1109.4 197.3 L1110.8 194.7 L1112.2 192 L1113.5 189.3 L1114.9 186.7 L1116.3 184 L1117.7 181.3 L1119 178.7 L1120.4 176 L1121.8 173.3 L1123.1 170.7 L1124.5 168 L1125.8 165.3 L1127.2 162.6 L1128.6 160 L1129.9 157.3 L1131.3 154.6 L1132.6 151.9 L1133.9 149.2 L1135.3 146.5 L1136.6 143.9 L1137.9 141.2 L1139.2 138.5 L1140.6 135.8 L1141.9 133.1 L1143.2 130.4 L1144.5 127.7 L1145.8 125 L1147.1 122.3 L1148.4 119.6 L1149.7 116.9 L1151.1 114.2 L1152.4 111.5 L1153.7 108.8 L1155 106.1 L1156.3 103.4 L1157.7 100.7 L1159 98 L1160.3 95.3 L1161.6 92.6 L1163 90 L1164.3 87.3 L1165.7 84.6 L1167.3 82 L1168.8 79.4 L1170.3 76.8 L1171.6 74.1 L1172.5 71.2 L1173.2 68.2 L1174.2 65.6 L1176.2 63.5 L1178.9 61.7"/>
<path d="M412.4 755.4 L600.2 703.9 L670.3 671.9 L673.8 670.1 L677.4 668.2 L680.9 666.3 L684.5 664.4 L688 662.5 L691.5 660.6 L695 658.7 L698.6 656.7 L702.1 654.8 L705.6 652.9 L709.2 651 L712.7 649.1 L716.2 647.2 L719.7 645.2 L723.3 643.3 L726.8 641.4 L730.3 639.4 L733.8 637.4 L737.3 635.4 L740.7 633.4 L744.2 631.4 L747.6 629.3 L751.1 627.2 L754.5 625.1 L757.9 623 L761.3 620.9 L764.7 618.7 L768.1 616.6 L771.5 614.4 L774.9 612.2 L778.2 610 L781.6 607.8 L784.9 605.6 L788.3 603.4 L791.6 601.1 L794.9 598.8 L798.2 596.6 L801.5 594.3 L804.8 592 L808.1 589.7 L811.4 587.4 L814.7 585.1 L818 582.8 L821.3 580.6 L824.7 578.3 L827.9 576 L831.2 573.6 L834.4 571.2 L837.5 568.7 L840.5 566 L843.5 563.3 L846.4 560.5 L849.3 557.8 L852.2 555 L855.2 552.3 L858.2 549.6 L861.2 546.9 L864.2 544.3 L867.1 541.5 L870 538.8 L872.9 536 L875.8 533.2 L878.6 530.3 L881.4 527.5 L884.2 524.6 L887 521.7 L889.8 518.8 L892.6 515.9 L895.3 513 L898.1 510.1 L900.9 507.1 L903.6 504.2 L906.4 501.3 L909.2 498.4 L912 495.6 L914.8 492.7 L917.6 489.8 L920.5 487 L923.3 484.1 L926.1 481.3 L929 478.4 L931.8 475.6 L934.6 472.7 L937.4 469.9 L940.2 467 L943 464.1 L945.8 461.2 L948.6 458.4 L951.4 455.4 L954.2 452.5 L956.9 449.6 L959.6 446.6 L962.4 443.7 L965 440.7 L967.7 437.7 L970.3 434.7 L973 431.6 L975.6 428.6 L978.2 425.5 L980.7 422.4 L983.3 419.3 L985.8 416.2 L988.4 413.1 L990.9 410 L993.4 406.8 L995.9 403.7 L998.5 400.6 L1001 397.5 L1003.6 394.4 L1006.1 391.3 L1008.6 388.2 L1011.2 385.1 L1013.7 381.9 L1016.2 378.8 L1018.7 375.6 L1021.1 372.4 L1023.5 369.2 L1025.8 365.9 L1028.1 362.6 L1030.3 359.3 L1032.5 355.9 L1034.7 352.5 L1036.9 349.2 L1039 345.7 L1041.1 342.3 L1043.2 338.9 L1045.3 335.5 L1047.3 332 L1049.4 328.6 L1051.4 325.1 L1053.5 321.6 L1055.5 318.2 L1057.6 314.7 L1059.7 311.3 L1061.8 307.9 L1063.8 304.4 L1065.9 301 L1068 297.6 L1070.2 294.2 L1072.3 290.8 L1074.4 287.4 L1076.5 284 L1078.7 280.6 L1080.8 277.1 L1082.9 273.7 L1085.1 270.3 L1087.2 266.9 L1089.3 263.5 L1091.4 260.1 L1093.5 256.7 L1095.6 253.2 L1097.6 249.8 L1099.7 246.3 L1101.7 242.8 L1103.7 239.3 L1105.6 235.8 L1107.6 232.3 L1109.5 228.8 L1111.3 225.2 L1113.2 221.6 L1114.9 218 L1116.7 214.4 L1118.4 210.8 L1120.2 207.2 L1122 203.6 L1123.8 200 L1125.2 197.4 L1126.6 194.7 L1128 192.1 L1129.5 189.4 L1130.9 186.7 L1132.3 184.1 L1133.7 181.4 L1135.1 178.8 L1136.5 176.1 L1137.9 173.5 L1139.3 170.8 L1140.8 168.1 L1142.1 165.5 L1143.5 162.8 L1144.9 160.1 L1146.3 157.5 L1147.7 154.8 L1149.1 152.1 L1150.5 149.4 L1151.9 146.8 L1153.2 144.1 L1154.6 141.4 L1156 138.7 L1157.4 136.1 L1158.8 133.4 L1160.1 130.7 L1161.5 128 L1162.9 125.3 L1164.2 122.7 L1165.6 120 L1166.9 117.3 L1168.3 114.6 L1169.6 111.9 L1171 109.2 L1172.3 106.5 L1173.6 103.8 L1174.9 101.1 L1176.2 98.3 L1177.4 95.6 L1178.7 92.9 L1179.9 90.1 L1181.2 87.4 L1182.6 84.7 L1184 82.1 L1185.4 79.4 L1187 76.8 L1188.6 74.3"/>
<path d="M412.4 758.7 L600.2 709.2 L675 676.6 L678.6 674.9 L682.2 673.1 L685.8 671.3 L689.3 669.4 L692.9 667.6 L696.4 665.7 L699.9 663.8 L703.5 661.8 L707 659.9 L710.5 658 L714 656.1 L717.6 654.2 L721.1 652.3 L724.6 650.4 L728.1 648.5 L731.7 646.6 L735.2 644.6 L738.7 642.7 L742.2 640.8 L745.7 638.8 L749.2 636.8 L752.7 634.8 L756.1 632.8 L759.6 630.8 L763 628.7 L766.5 626.6 L769.9 624.5 L773.3 622.4 L776.7 620.3 L780.1 618.1 L783.4 616 L786.8 613.8 L790.2 611.6 L793.5 609.4 L796.9 607.2 L800.2 605 L803.6 602.8 L806.9 600.5 L810.2 598.2 L813.5 596 L816.8 593.7 L820.1 591.4 L823.4 589.1 L826.7 586.8 L830 584.6 L833.3 582.3 L836.6 580 L839.9 577.8 L843.2 575.5 L846.5 573.2 L849.6 570.7 L852.7 568.1 L855.7 565.5 L858.7 562.8 L861.6 560 L864.5 557.2 L867.4 554.5 L870.4 551.8 L873.4 549.2 L876.4 546.5 L879.4 543.8 L882.4 541.1 L885.3 538.4 L888.1 535.6 L891 532.8 L893.8 529.9 L896.6 527 L899.4 524.2 L902.2 521.3 L904.9 518.4 L907.7 515.4 L910.4 512.5 L913.2 509.6 L915.9 506.7 L918.7 503.8 L921.5 500.9 L924.3 498 L927.1 495.2 L929.9 492.3 L932.7 489.5 L935.6 486.6 L938.4 483.8 L941.2 480.9 L944.1 478.1 L946.9 475.3 L949.7 472.4 L952.5 469.6 L955.4 466.7 L958.2 463.9 L961 461 L963.8 458.1 L966.6 455.2 L969.3 452.3 L972.1 449.4 L974.8 446.5 L977.5 443.5 L980.2 440.5 L982.8 437.5 L985.5 434.5 L988.1 431.5 L990.7 428.4 L993.3 425.3 L995.8 422.2 L998.4 419.1 L1000.9 416 L1003.4 412.9 L1005.9 409.8 L1008.4 406.7 L1011 403.5 L1013.5 400.4 L1016 397.3 L1018.5 394.2 L1021.1 391.1 L1023.6 388 L1026.2 384.9 L1028.7 381.8 L1031.2 378.6 L1033.7 375.5 L1036.1 372.3 L1038.5 369.1 L1040.8 365.8 L1043.1 362.5 L1045.3 359.2 L1047.5 355.8 L1049.7 352.5 L1051.8 349.1 L1054 345.7 L1056.1 342.2 L1058.1 338.8 L1060.2 335.4 L1062.2 331.9 L1064.3 328.5 L1066.3 325 L1068.3 321.6 L1070.4 318.1 L1072.4 314.6 L1074.4 311.2 L1076.5 307.8 L1078.6 304.3 L1080.7 300.9 L1082.7 297.5 L1084.8 294.1 L1087 290.6 L1089.1 287.2 L1091.2 283.8 L1093.3 280.4 L1095.5 277 L1097.6 273.6 L1099.7 270.2 L1101.8 266.8 L1103.9 263.4 L1106 260 L1108.1 256.6 L1110.2 253.2 L1112.2 249.7 L1114.3 246.3 L1116.3 242.8 L1118.3 239.3 L1120.3 235.8 L1122.2 232.3 L1124.1 228.8 L1125.9 225.2 L1127.7 221.6 L1129.5 218 L1131.2 214.4 L1133 210.8 L1134.7 207.2 L1136.5 203.6 L1138.3 200 L1139.7 197.3 L1141.1 194.7 L1142.6 192 L1144 189.3 L1145.4 186.7 L1146.8 184 L1148.2 181.3 L1149.6 178.6 L1151 176 L1152.4 173.3 L1153.8 170.6 L1155.2 167.9 L1156.6 165.2 L1158 162.5 L1159.4 159.9 L1160.8 157.2 L1162.1 154.5 L1163.5 151.8 L1164.9 149.1 L1166.2 146.4 L1167.6 143.7 L1168.9 141 L1170.3 138.3 L1171.6 135.6 L1173 132.8 L1174.3 130.1 L1175.6 127.4 L1177 124.7 L1178.3 122 L1179.6 119.3 L1180.9 116.6 L1182.3 113.8 L1183.6 111.1 L1185 108.4 L1186.3 105.7 L1187.7 103 L1189 100.3 L1190.4 97.6 L1191.8 94.9 L1193.2 92.3 L1194.6 89.6 L1196 86.9"/>
<path d="M412.4 762.1 L599.7 713.7 L679 680.8 L682.7 679.1 L686.3 677.4 L689.9 675.6 L693.5 673.8 L697.1 672 L700.7 670.2 L704.3 668.3 L707.8 666.4 L711.4 664.5 L714.9 662.6 L718.4 660.7 L721.9 658.7 L725.5 656.8 L729 654.9 L732.6 653 L736.1 651.1 L739.6 649.2 L743.2 647.3 L746.7 645.4 L750.2 643.4 L753.8 641.5 L757.3 639.5 L760.8 637.6 L764.3 635.6 L767.8 633.5 L771.2 631.5 L774.7 629.5 L778.1 627.4 L781.6 625.3 L785 623.2 L788.4 621 L791.8 618.9 L795.2 616.7 L798.6 614.6 L801.9 612.4 L805.3 610.2 L808.7 608 L812 605.8 L815.4 603.5 L818.7 601.3 L822 599 L825.3 596.7 L828.6 594.4 L831.9 592.1 L835.2 589.8 L838.5 587.5 L841.9 585.3 L845.2 583 L848.5 580.8 L851.9 578.6 L855.2 576.3 L858.5 573.9 L861.7 571.5 L864.8 569 L867.9 566.4 L870.8 563.7 L873.8 560.9 L876.7 558.2 L879.6 555.4 L882.6 552.7 L885.6 550 L888.6 547.4 L891.6 544.7 L894.6 542 L897.6 539.3 L900.5 536.5 L903.3 533.7 L906.2 530.8 L909 527.9 L911.8 525 L914.5 522.1 L917.3 519.2 L920.1 516.3 L922.8 513.3 L925.6 510.4 L928.3 507.5 L931.1 504.6 L933.9 501.7 L936.7 498.8 L939.5 495.9 L942.3 493.1 L945.2 490.2 L948 487.4 L950.8 484.5 L953.7 481.7 L956.5 478.8 L959.4 476 L962.2 473.2 L965.1 470.3 L967.9 467.5 L970.8 464.6 L973.6 461.8 L976.4 458.9 L979.2 456 L982 453.1 L984.8 450.2 L987.5 447.2 L990.2 444.3 L992.9 441.3 L995.6 438.3 L998.2 435.3 L1000.9 432.2 L1003.5 429.2 L1006 426.1 L1008.6 423 L1011.1 419.8 L1013.7 416.7 L1016.2 413.6 L1018.7 410.4 L1021.2 407.3 L1023.7 404.2 L1026.3 401 L1028.8 397.9 L1031.3 394.8 L1033.9 391.7 L1036.4 388.6 L1039 385.5 L1041.5 382.4 L1044.1 379.2 L1046.5 376.1 L1049 372.9 L1051.4 369.7 L1053.7 366.4 L1056 363.1 L1058.3 359.8 L1060.5 356.4 L1062.7 353 L1064.8 349.6 L1067 346.2 L1069.1 342.8 L1071.1 339.3 L1073.2 335.9 L1075.2 332.4 L1077.3 329 L1079.3 325.5 L1081.3 322 L1083.4 318.5 L1085.4 315.1 L1087.4 311.6 L1089.4 308.1 L1091.5 304.7 L1093.6 301.2 L1095.7 297.8 L1097.8 294.3 L1099.9 290.9 L1102 287.5 L1104.1 284.1 L1106.2 280.7 L1108.4 277.3 L1110.5 273.9 L1112.6 270.5 L1114.8 267 L1116.9 263.6 L1119 260.2 L1121.1 256.8 L1123.2 253.3 L1125.2 249.9 L1127.3 246.4 L1129.3 242.9 L1131.3 239.4 L1133.3 235.9 L1135.2 232.4 L1137.1 228.9 L1139 225.3 L1140.8 221.7 L1142.5 218.1 L1144.3 214.5 L1146 210.8 L1147.7 207.2 L1149.5 203.6 L1151.3 200 L1152.8 197.3 L1154.2 194.7 L1155.7 192 L1157.2 189.3 L1158.6 186.6 L1160.1 183.9 L1161.6 181.3 L1163 178.6 L1164.5 175.9 L1165.9 173.2 L1167.4 170.5 L1168.8 167.8 L1170.2 165.1 L1171.7 162.4 L1173.1 159.7 L1174.5 157.1 L1175.9 154.4 L1177.4 151.7 L1178.8 148.9 L1180.2 146.2 L1181.6 143.5 L1183 140.8 L1184.4 138.1 L1185.8 135.4 L1187.2 132.7 L1188.6 130 L1190 127.3 L1191.4 124.5 L1192.8 121.8 L1194.1 119.1 L1195.5 116.4 L1196.9 113.7 L1198.3 110.9 L1199.6 108.2 L1201 105.5 L1202.3 102.7 L1203.7 100"/>
</g>
<g fill="none" stroke="#000" stroke-width="3.6" stroke-linecap="round" stroke-linejoin="round" stroke-dasharray="1.9 10.5">
<path d="M307.1 610 L309 609.4 L310.9 608.8 L312.8 608.2 L314.7 607.6 L316.6 607 L318.6 606.4 L320.5 605.8 L322.4 605.2 L324.3 604.6 L326.2 604.1 L328.1 603.5 L330.1 603 L332 602.4 L333.9 601.9 L335.8 601.3 L337.8 600.8 L339.7 600.2 L341.6 599.6 L343.5 599.1 L345.5 598.5 L347.4 597.9 L349.3 597.3 L351.2 596.8 L353.1 596.2 L355 595.6 L357 595 L358.9 594.4 L360.8 593.8 L362.7 593.3 L364.6 592.7 L366.5 592.1 L368.4 591.5 L370.4 590.9 L372.3 590.3 L374.2 589.7 L376.1 589.2 L378 588.6 L379.9 588 L381.8 587.4 L383.7 586.8 L385.7 586.2 L387.6 585.6 L389.5 585 L391.4 584.4 L393.3 583.9 L395.2 583.3 L397.2 582.7 L399.1 582.1 L401 581.5 L402.9 580.9 L404.8 580.4 L406.7 579.8 L408.7 579.2 L410.6 578.6 L412.5 578.1 L414.4 577.5 L416.3 576.9 L418.2 576.3 L420.2 575.8 L422.1 575.2 L424 574.6 L425.9 574.1 L427.8 573.5 L429.8 572.9 L431.7 572.3 L433.6 571.8 L435.5 571.2 L437.4 570.7 L439.4 570.1 L441.3 569.5 L443.2 569 L445.1 568.4 L447 567.9 L449 567.3 L450.9 566.7 L452.8 566.2 L454.7 565.6 L456.7 565.1 L458.6 564.5 L460.5 564 L462.5 563.5 L464.4 562.9 L466.3 562.4 L468.2 561.8 L470.2 561.3 L472.1 560.8 L474 560.2 L476 559.7 L477.9 559.2 L479.8 558.6 L481.7 558.1 L483.7 557.5 L485.6 557 L487.5 556.5 L489.5 555.9 L491.4 555.4 L493.3 554.9 L495.2 554.3 L497.2 553.8 L499.1 553.3 L501 552.7 L503 552.2 L504.9 551.6 L506.8 551.1 L508.7 550.5 L510.7 550 L512.6 549.5 L514.5 548.9 L516.4 548.4 L518.4 547.8 L520.3 547.3 L522.2 546.8 L524.2 546.2 L526.1 545.7 L528 545.1 L529.9 544.6 L531.9 544 L533.8 543.5 L535.7 543 L537.7 542.4 L539.6 541.9 L541.5 541.4 L543.4 540.8 L545.4 540.3 L547.3 539.7 L549.2 539.2 L551.2 538.7 L553.1 538.1 L555 537.6 L556.9 537 L558.9 536.5 L560.8 535.9 L562.7 535.4 L564.6 534.8 L566.6 534.2 L568.5 533.7 L570.4 533.1 L572.3 532.6 L574.3 532 L576.2 531.5 L578.1 531 L580.1 530.4 L582 529.9 L583.9 529.4 L585.9 528.9 L587.8 528.4 L589.8 528 L591.7 527.5 L593.7 527.1 L595.6 526.7 L597.6 526.2 L599.5 525.8 L601.5 525.4 L603.4 525 L605.4 524.6 L607.4 524.2 L609.3 523.9 L611.3 523.5 L613.3 523.1 L615.3 522.8 L617.2 522.4 L619.2 522.1 L621.2 521.7 L623.2 521.4 L625.1 521.1 L627.1 520.8 L629.1 520.5 L631.1 520.2 L633 519.9 L635 519.5 L637 519.2 L639 518.9 L641 518.7 L643 518.6 L645 518.6 L647 518.5 L649 518.5 L651 518.5 L653 518.5 L655 518.5 L657 518.4 L659 518.4 L661 518.4 L663 518.4 L665 518.4 L667 518.4 L669 518.4 L671 518.4 L673 518.4 L675 518.4 L677 518.4 L679 518.4 L681.1 518.4 L683.1 518.5 L685.1 518.5 L687.1 518.5 L689.1 518.5 L691.1 518.6 L693 518.6 L695 518.7 L697 519 L698.9 519.4 L700.9 520 L702.8 520.6 L704.8 521.1 L706.7 521.6 L708.7 522 L710.6 522.3 L712.6 522.7 L714.6 523.1 L716.5 523.5 L718.5 523.9 L720.4 524.3 L722.4 524.7 L724.4 525.2 L726.3 525.6 L728.3 526 L730.2 526.4 L732.2 526.9 L734.2 527.2 L736.1 527.6 L738.1 528 L740 528.4 L742 528.9 L743.9 529.4 L745.9 529.9 L747.8 530.5 L749.7 531 L751.6 531.6 L753.5 532.2 L755.4 532.8 L757.3 533.5 L759.2 534.2 L761.1 534.9 L763 535.6 L764.9 536.2 L766.7 536.9 L768.6 537.6 L770.5 538.2 L772.4 538.9 L774.3 539.5 L776.2 540.2 L778.1 540.9 L779.9 541.7 L781.7 542.6 L783.5 543.5 L785.3 544.4 L787.1 545.2 L789 546 L790.8 546.6 L792.8 547.2 L794.7 547.8 L796.6 548.3 L798.6 548.9 L800.4 549.6 L802.3 550.3 L804.1 551.2 L805.8 552.1 L807.6 553.1 L809.4 554 L811.2 554.9 L813 555.8 L814.8 556.6 L816.6 557.4 L818.5 558.2 L820.3 559 L822.1 559.9 L823.9 560.8 L825.6 561.8 L827.3 562.9 L829 564 L830.6 565.1 L832.3 566.2 L834 567.3 L835.8 568.3 L837.5 569.3 L839.3 570.2 L841 571.2 L842.7 572.2 L844.4 573.3 L846 574.5 L847.6 575.7 L849.2 577 L850.7 578.2 L852.2 579.6 L853.7 580.9 L855.2 582.3 L856.6 583.7 L858 585.1 L859.4 586.6 L860.8 588 L862.2 589.5 L863.6 590.9 L865 592.3 L866.4 593.8 L867.8 595.3 L869.1 596.8 L870.3 598.3 L871.4 599.9 L872.5 601.6 L873.4 603.4 L874.4 605.2 L875.3 607 L876.2 608.8 L877.1 610.5 L878 612.3 L878.9 614.1 L879.9 615.9 L880.8 617.7 L881.6 619.5 L882.5 621.3 L883.3 623.1 L884.1 624.9 L884.9 626.8 L885.7 628.6 L886.4 630.5 L887.2 632.4 L887.9 634.2 L888.5 636.1 L889.2 638 L889.9 639.9 L890.5 641.8 L891.2 643.7 L892 645.5 L892.7 647.4 L893.5 649.2 L894.3 651.1 L895.1 652.9 L895.7 654.8 L896.3 656.7 L896.8 658.6 L897.2 660.6 L897.7 662.6 L898.1 664.5 L898.6 666.5 L899.1 668.4 L899.6 670.3 L900.2 672.3 L900.7 674.2 L901.3 676.1 L901.9 678 L902.5 679.9 L903 681.8 L903.6 683.8 L904.2 685.7 L904.7 687.6 L905.2 689.5 L905.8 691.5 L906.3 693.4 L906.7 695.4 L907.2 697.3 L907.7 699.3 L908.1 701.2 L908.6 703.2 L909.1 705.1 L909.5 707 L910 709 L910.5 710.9 L910.9 712.9 L911.4 714.8 L911.8 716.8 L912.2 718.8 L912.6 720.7 L913 722.7 L913.4 724.7 L913.7 726.6 L914.1 728.6 L914.5 730.6 L914.8 732.5 L915.1 734.5 L915.4 736.5 L915.8 738.5 L916.1 740.4 L916.4 742.4 L916.7 744.4 L917 746.4 L917.3 748.4 L917.6 750.3 L917.9 752.3 L918.2 754.3 L918.5 756.3 L918.8 758.3 L919.1 760.2 L919.4 762.2 L919.7 764.2 L920 766.2 L920.3 768.2 L920.6 770.1 L920.9 772.1 L921.1 774.1 L921.4 776.1 L921.6 778.1 L921.8 780.1 L922 782.1 L922.1 784.1 L922.3 786.1 L922.4 788.1 L922.6 790 L922.8 792 L922.9 794 L923.1 796 L923.3 798 L923.4 800 L923.6 802 L923.8 804 L923.9 806 L924 808 L924.2 810 L924.3 812 L924.5 814 L924.6 816"/>
<path d="M324.3 597.5 L326.2 596.9 L328.1 596.3 L330.1 595.8 L332 595.2 L333.9 594.6 L335.8 594 L337.7 593.4 L339.6 592.8 L341.6 592.3 L343.5 591.7 L345.4 591.1 L347.3 590.5 L349.2 589.9 L351.1 589.3 L353.1 588.8 L355 588.2 L356.9 587.6 L358.8 587 L360.7 586.4 L362.6 585.8 L364.6 585.3 L366.5 584.7 L368.4 584.1 L370.3 583.5 L372.2 582.9 L374.1 582.3 L376.1 581.8 L378 581.2 L379.9 580.6 L381.8 580 L383.7 579.4 L385.7 578.8 L387.6 578.3 L389.5 577.7 L391.4 577.1 L393.3 576.5 L395.2 575.9 L397.2 575.4 L399.1 574.8 L401 574.2 L402.9 573.6 L404.8 573 L406.7 572.4 L408.7 571.9 L410.6 571.3 L412.5 570.7 L414.4 570.1 L416.3 569.5 L418.2 568.9 L420.2 568.4 L422.1 567.8 L424 567.2 L425.9 566.6 L427.8 566 L429.8 565.4 L431.7 564.9 L433.6 564.3 L435.5 563.7 L437.4 563.1 L439.3 562.5 L441.3 561.9 L443.2 561.4 L445.1 560.8 L447 560.2 L448.9 559.6 L450.8 559 L452.8 558.4 L454.7 557.9 L456.6 557.3 L458.5 556.7 L460.4 556.1 L462.3 555.5 L464.3 555 L466.2 554.4 L468.1 553.8 L470 553.2 L471.9 552.6 L473.8 552 L475.8 551.5 L477.7 550.9 L479.6 550.3 L481.5 549.7 L483.4 549.1 L485.4 548.5 L487.3 548 L489.2 547.4 L491.1 546.8 L493 546.2 L494.9 545.6 L496.9 545 L498.8 544.5 L500.7 543.9 L502.6 543.3 L504.5 542.7 L506.4 542.1 L508.4 541.5 L510.3 541 L512.2 540.4 L514.1 539.8 L516 539.2 L517.9 538.6 L519.9 538 L521.8 537.5 L523.7 536.9 L525.6 536.3 L527.5 535.7 L529.4 535.1 L531.4 534.6 L533.3 534 L535.2 533.4 L537.1 532.8 L539 532.2 L541 531.6 L542.9 531.1 L544.8 530.5 L546.7 529.9 L548.6 529.3 L550.5 528.7 L552.5 528.1 L554.4 527.6 L556.3 527 L558.2 526.4 L560.1 525.8 L562 525.2 L564 524.6 L565.9 524.1 L567.8 523.5 L569.7 522.9 L571.6 522.3 L573.5 521.7 L575.5 521.1 L577.4 520.6 L579.3 520 L581.2 519.4 L583.1 518.8 L585.1 518.2 L587 517.6 L588.9 517.1 L590.8 516.5 L592.7 515.9 L594.6 515.3 L596.6 514.7 L598.5 514.2 L600.4 513.6 L602.3 513 L604.2 512.4 L606.1 511.8 L608.1 511.2 L610 510.7 L611.9 510.1 L613.8 509.5 L615.7 508.9 L617.6 508.3 L619.6 507.7 L621.5 507.2 L623.4 506.6 L625.3 506 L627.2 505.3 L629.1 504.7 L631 503.9 L632.9 503.2 L634.8 502.5 L636.7 501.9 L638.6 501.3 L640.6 500.7 L642.5 500.2 L644.4 499.9 L646.4 499.6 L648.4 499.5 L650.4 499.3 L652.4 499.2 L654.4 499.1 L656.4 499 L658.4 498.8 L660.4 498.6 L662.4 498.4 L664.4 498.1 L666.4 497.8 L668.3 497.6 L670.3 497.3 L672.3 497 L674.3 496.7 L676.3 496.5 L678.3 496.2 L680.3 496 L682.2 495.7 L684.2 495.4 L686.2 495.2 L688.2 494.8 L690.2 494.5 L692.2 494.2 L694.2 494 L696.1 493.7 L698.1 493.5 L700.1 493.4 L702.1 493.2 L704.1 493 L706.1 492.9 L708.1 492.8 L710.1 492.8 L712.1 492.8 L714.1 492.9 L716.1 492.9 L718.1 493 L720.1 493.1 L722.1 493.2 L724.1 493.3 L726.2 493.4 L728.2 493.5 L730.2 493.6 L732.2 493.6 L734.2 493.7 L736.2 493.8 L738.2 493.9 L740.2 493.9 L742.2 494 L744.2 494.1 L746.2 494.2 L748.2 494.4 L750.2 494.6 L752.2 494.8 L754.2 495 L756.1 495.2 L758.1 495.5 L760.1 495.8 L762.1 496.2 L764 496.7 L766 497.1 L768 497.5 L769.9 497.8 L771.9 498.1 L773.9 498.2 L775.9 498.3 L777.9 498.4 L779.9 498.6 L781.9 498.7 L783.9 499 L785.8 499.5 L787.7 500.2 L789.6 500.9 L791.5 501.7 L793.4 502.2 L795.4 502.7 L797.3 503.1 L799.3 503.5 L801.3 503.9 L803.2 504.3 L805.2 504.8 L807.1 505.3 L809 506 L810.8 506.7 L812.7 507.6 L814.5 508.4 L816.3 509.3 L818.1 510.2 L819.8 511.2 L821.5 512.2 L823.2 513.3 L824.9 514.4 L826.6 515.5 L828.3 516.5 L830 517.5 L831.8 518.5 L833.5 519.5 L835.3 520.4 L837.1 521.4 L838.9 522.3 L840.6 523.2 L842.4 524.1 L844.2 525 L846 525.9 L847.8 526.8 L849.6 527.7 L851.4 528.6 L853.1 529.6 L854.9 530.6 L856.6 531.6 L858.4 532.6 L860.1 533.6 L861.8 534.7 L863.5 535.7 L865.2 536.8 L866.9 538 L868.5 539.1 L870.1 540.3 L871.7 541.5 L873.2 542.7 L874.7 544.1 L876.2 545.4 L877.7 546.7 L879.2 548.1 L880.7 549.4 L882.2 550.7 L883.8 552 L885.4 553.2 L886.9 554.5 L888.5 555.7 L890.1 557 L891.6 558.3 L893.1 559.6 L894.7 560.9 L896.2 562.2 L897.7 563.6 L899 565 L900.2 566.6 L901.4 568.2 L902.4 569.9 L903.5 571.6 L904.5 573.4 L905.5 575.1 L906.5 576.9 L907.6 578.6 L908.7 580.3 L909.8 581.9 L910.8 583.7 L911.9 585.4 L912.8 587.1 L913.8 588.9 L914.8 590.6 L915.7 592.4 L916.7 594.2 L917.5 596 L918.3 597.8 L918.9 599.7 L919.5 601.6 L920.1 603.5 L920.6 605.5 L921.2 607.4 L921.7 609.4 L922.3 611.3 L922.8 613.2 L923.4 615.1 L923.9 617.1 L924.5 619 L925 620.9 L925.6 622.8 L926.2 624.7 L926.8 626.7 L927.4 628.6 L928 630.5 L928.6 632.4 L929.2 634.3 L929.8 636.2 L930.4 638.1 L930.9 640.1 L931.5 642 L932.1 643.9 L932.6 645.8 L933.2 647.7 L933.7 649.7 L934.3 651.6 L934.8 653.5 L935.3 655.5 L935.8 657.4 L936.4 659.3 L937 661.3 L937.6 663.2 L938.2 665.1 L938.7 667 L939.2 669 L939.7 670.9 L940.1 672.9 L940.5 674.8 L940.8 676.8 L941.2 678.8 L941.5 680.8 L941.9 682.7 L942.2 684.7 L942.6 686.7 L943 688.6 L943.3 690.6 L943.7 692.6 L944 694.6 L944.4 696.5 L944.7 698.5 L945 700.5 L945.4 702.5 L945.7 704.4 L946 706.4 L946.3 708.4 L946.7 710.4 L947 712.3 L947.3 714.3 L947.6 716.3 L948 718.3 L948.3 720.2 L948.7 722.2 L949 724.2 L949.4 726.2 L949.7 728.1 L950 730.1 L950.3 732.1 L950.6 734.1 L950.8 736.1 L951.1 738.1 L951.4 740.1 L951.6 742 L951.9 744 L952.1 746 L952.4 748 L952.7 750 L952.9 752 L953.2 754 L953.5 755.9 L953.7 757.9 L954 759.9 L954.3 761.9 L954.5 763.9 L954.8 765.9 L955.1 767.9 L955.4 769.8 L955.6 771.8 L955.9 773.8 L956.1 775.8 L956.3 777.8 L956.5 779.8 L956.7 781.8 L956.9 783.8 L957.1 785.8 L957.3 787.8 L957.5 789.8 L957.7 791.8 L957.9 793.8 L958.1 795.7 L958.4 797.7 L958.6 799.7 L958.8 801.7 L959 803.7 L959.2 805.7 L959.3 807.7 L959.5 809.7 L959.7 811.7 L959.8 813.7 L960 815.7 L960.1 817.7"/>
<path d="M347.4 590 L349.3 589.4 L351.2 588.7 L353.1 588.1 L355 587.5 L356.9 586.8 L358.8 586.2 L360.7 585.6 L362.6 584.9 L364.5 584.3 L366.4 583.7 L368.3 583.1 L370.2 582.4 L372.1 581.8 L374 581.2 L375.9 580.5 L377.8 579.9 L379.7 579.3 L381.6 578.6 L383.5 578 L385.4 577.4 L387.3 576.7 L389.2 576.1 L391.1 575.5 L393 574.8 L394.9 574.2 L396.8 573.6 L398.7 573 L400.6 572.3 L402.5 571.7 L404.4 571.1 L406.3 570.4 L408.2 569.8 L410.1 569.2 L412 568.5 L413.9 567.9 L415.8 567.3 L417.7 566.6 L419.6 566 L421.5 565.4 L423.4 564.7 L425.3 564.1 L427.2 563.5 L429.1 562.8 L431 562.2 L432.9 561.6 L434.8 561 L436.7 560.3 L438.6 559.7 L440.5 559.1 L442.3 558.4 L444.2 557.8 L446.1 557.2 L448 556.5 L449.9 555.9 L451.8 555.3 L453.7 554.6 L455.6 554 L457.5 553.4 L459.4 552.7 L461.3 552.1 L463.2 551.5 L465.1 550.9 L467 550.2 L468.9 549.6 L470.8 549 L472.7 548.3 L474.6 547.7 L476.5 547.1 L478.4 546.4 L480.3 545.8 L482.2 545.2 L484.1 544.5 L486 543.9 L487.9 543.3 L489.8 542.6 L491.7 542 L493.6 541.4 L495.5 540.7 L497.4 540.1 L499.3 539.5 L501.2 538.9 L503.1 538.2 L505 537.6 L506.9 537 L508.8 536.3 L510.7 535.7 L512.6 535.1 L514.5 534.4 L516.4 533.8 L518.3 533.2 L520.2 532.5 L522.1 531.9 L524 531.3 L525.9 530.6 L527.8 530 L529.7 529.4 L531.6 528.8 L533.5 528.1 L535.4 527.5 L537.3 526.9 L539.2 526.2 L541.1 525.6 L543 525 L544.9 524.3 L546.8 523.7 L548.7 523.1 L550.6 522.4 L552.5 521.8 L554.4 521.2 L556.3 520.5 L558.2 519.9 L560.1 519.3 L562 518.7 L563.9 518 L565.8 517.4 L567.7 516.8 L569.6 516.1 L571.5 515.5 L573.4 514.9 L575.3 514.2 L577.2 513.6 L579.1 513 L581 512.3 L582.9 511.7 L584.8 511.1 L586.7 510.4 L588.6 509.8 L590.5 509.2 L592.4 508.5 L594.3 507.9 L596.2 507.3 L598.1 506.7 L600 506 L601.9 505.4 L603.8 504.8 L605.7 504.1 L607.6 503.5 L609.5 502.9 L611.4 502.2 L613.3 501.6 L615.2 501 L617.1 500.3 L619 499.7 L620.9 499.1 L622.8 498.4 L624.7 497.8 L626.6 497.2 L628.4 496.6 L630.3 495.9 L632.2 495.3 L634.1 494.7 L636 494 L637.9 493.4 L639.8 492.8 L641.7 492.1 L643.6 491.5 L645.5 490.9 L647.4 490.2 L649.3 489.6 L651.2 489 L653.1 488.3 L655 487.6 L656.9 487 L658.8 486.4 L660.7 485.7 L662.6 485.1 L664.5 484.5 L666.4 484 L668.4 483.4 L670.3 482.8 L672.2 482.3 L674.2 481.7 L676.1 481.3 L678 480.9 L680 480.5 L682 480.2 L684 479.9 L686 479.7 L687.9 479.4 L689.9 479.2 L691.9 478.9 L693.9 478.6 L695.9 478.4 L697.9 478.1 L699.8 477.8 L701.8 477.5 L703.8 477.2 L705.8 476.8 L707.7 476.3 L709.7 475.9 L711.6 475.5 L713.6 475 L715.5 474.6 L717.5 474.2 L719.4 473.8 L721.4 473.4 L723.4 473 L725.3 472.6 L727.3 472.2 L729.3 471.8 L731.2 471.3 L733.2 470.9 L735.1 470.5 L737.1 470.1 L739.1 469.9 L741.1 469.8 L743.1 469.8 L745.1 469.7 L747.1 469.6 L749.1 469.6 L751.1 469.6 L753.1 469.6 L755.1 469.7 L757.1 469.9 L759.1 470 L761.1 470.2 L763.1 470.4 L765.1 470.5 L767.1 470.7 L769.1 470.8 L771.1 470.9 L773.1 471 L775 471.2 L777 471.3 L779 471.4 L781 471.6 L783 471.8 L785 471.9 L787 472.1 L789 472.2 L791 472.3 L793 472.3 L795 472.4 L797 472.4 L799 472.5 L801 472.6 L803 472.7 L805 473 L807 473.3 L808.9 473.8 L810.9 474.2 L812.8 474.7 L814.8 475.2 L816.7 475.7 L818.6 476.4 L820.5 477.1 L822.4 477.8 L824.2 478.4 L826.1 479.1 L828.1 479.6 L830 480.2 L831.9 480.7 L833.8 481.2 L835.8 481.8 L837.7 482.3 L839.6 482.9 L841.5 483.4 L843.5 484 L845.4 484.6 L847.3 485.2 L849.2 485.9 L851 486.6 L852.9 487.4 L854.7 488.2 L856.5 489.1 L858.3 490 L860.1 490.9 L861.9 491.7 L863.7 492.5 L865.6 493.3 L867.4 494.1 L869.2 495 L871 495.9 L872.8 496.8 L874.5 497.8 L876.2 498.8 L877.9 499.9 L879.6 500.9 L881.3 502 L883 503.1 L884.7 504.2 L886.3 505.4 L887.9 506.5 L889.6 507.7 L891.2 508.8 L892.9 510 L894.6 511 L896.3 512 L898.1 513 L899.8 514 L901.6 515 L903.2 516 L904.8 517.2 L906.4 518.4 L907.9 519.7 L909.4 521 L910.9 522.4 L912.4 523.7 L914 525 L915.6 526.2 L917.1 527.5 L918.7 528.7 L920.2 530 L921.8 531.3 L923.2 532.7 L924.6 534.1 L926.1 535.5 L927.4 536.9 L928.8 538.4 L930.1 540 L931.3 541.5 L932.5 543.1 L933.7 544.7 L934.8 546.4 L935.9 548.1 L936.9 549.8 L938 551.5 L939 553.3 L939.9 555 L940.9 556.8 L941.8 558.5 L942.7 560.3 L943.6 562.1 L944.4 563.9 L945.3 565.8 L946.1 567.6 L946.9 569.4 L947.7 571.3 L948.4 573.1 L949.1 575 L949.7 576.9 L950.3 578.8 L950.9 580.7 L951.4 582.7 L952 584.6 L952.6 586.5 L953.3 588.4 L953.9 590.3 L954.6 592.2 L955.3 594 L955.9 595.9 L956.5 597.8 L957.1 599.8 L957.6 601.7 L958.1 603.6 L958.6 605.6 L959.1 607.5 L959.7 609.4 L960.2 611.4 L960.9 613.3 L961.5 615.2 L962.1 617.1 L962.7 619 L963.2 620.9 L963.6 622.9 L963.9 624.8 L964.2 626.8 L964.5 628.8 L964.8 630.8 L965 632.8 L965.4 634.8 L965.7 636.7 L966.1 638.7 L966.5 640.6 L966.9 642.6 L967.3 644.6 L967.7 646.5 L968 648.5 L968.4 650.5 L968.7 652.5 L969 654.4 L969.3 656.4 L969.6 658.4 L970 660.4 L970.3 662.3 L970.6 664.3 L971 666.3 L971.3 668.2 L971.7 670.2 L972 672.2 L972.3 674.2 L972.6 676.2 L972.9 678.1 L973.2 680.1 L973.5 682.1 L973.8 684.1 L974.1 686 L974.4 688 L974.7 690 L975.1 692 L975.4 693.9 L975.7 695.9 L976 697.9 L976.4 699.9 L976.7 701.8 L977.1 703.8 L977.4 705.8 L977.7 707.8 L978 709.7 L978.3 711.7 L978.6 713.7 L978.8 715.7 L979.1 717.7 L979.4 719.6 L979.7 721.6 L979.9 723.6 L980.2 725.6 L980.5 727.6 L980.8 729.5 L981.1 731.5 L981.4 733.5 L981.7 735.5 L982 737.5 L982.2 739.5 L982.5 741.4 L982.8 743.4 L983.1 745.4 L983.3 747.4 L983.6 749.4 L983.9 751.3 L984.1 753.3 L984.4 755.3 L984.7 757.3 L984.9 759.3 L985.2 761.3 L985.4 763.3 L985.6 765.2 L985.9 767.2 L986.1 769.2 L986.3 771.2 L986.5 773.2 L986.7 775.2 L986.9 777.2 L987.1 779.2 L987.3 781.2 L987.4 783.2 L987.6 785.2 L987.8 787.2 L987.9 789.1 L988.1 791.1 L988.3 793.1 L988.5 795.1 L988.6 797.1 L988.8 799.1 L989 801.1 L989.2 803.1"/>
<path d="M355 585 L356.9 584.4 L358.8 583.7 L360.7 583.1 L362.6 582.4 L364.5 581.8 L366.4 581.1 L368.3 580.5 L370.2 579.8 L372.1 579.2 L374 578.5 L375.8 577.9 L377.7 577.2 L379.6 576.6 L381.5 575.9 L383.4 575.3 L385.3 574.6 L387.2 574 L389.1 573.3 L391 572.7 L392.9 572 L394.8 571.4 L396.7 570.8 L398.6 570.1 L400.5 569.5 L402.4 568.8 L404.3 568.2 L406.2 567.5 L408.1 566.9 L410 566.2 L411.9 565.6 L413.7 564.9 L415.6 564.3 L417.5 563.6 L419.4 563 L421.3 562.3 L423.2 561.7 L425.1 561 L427 560.4 L428.9 559.7 L430.8 559.1 L432.7 558.5 L434.6 557.8 L436.5 557.2 L438.4 556.5 L440.3 555.9 L442.2 555.2 L444.1 554.6 L446 553.9 L447.9 553.3 L449.8 552.6 L451.6 552 L453.5 551.3 L455.4 550.7 L457.3 550 L459.2 549.4 L461.1 548.7 L463 548.1 L464.9 547.4 L466.8 546.8 L468.7 546.1 L470.6 545.5 L472.5 544.9 L474.4 544.2 L476.3 543.6 L478.2 542.9 L480.1 542.3 L482 541.6 L483.9 541 L485.8 540.3 L487.7 539.7 L489.6 539 L491.4 538.4 L493.3 537.7 L495.2 537.1 L497.1 536.4 L499 535.8 L500.9 535.1 L502.8 534.5 L504.7 533.8 L506.6 533.2 L508.5 532.5 L510.4 531.9 L512.3 531.3 L514.2 530.6 L516.1 530 L518 529.3 L519.9 528.7 L521.8 528 L523.7 527.4 L525.6 526.7 L527.5 526.1 L529.3 525.4 L531.2 524.8 L533.1 524.1 L535 523.5 L536.9 522.8 L538.8 522.2 L540.7 521.5 L542.6 520.9 L544.5 520.2 L546.4 519.6 L548.3 518.9 L550.2 518.3 L552.1 517.7 L554 517 L555.9 516.4 L557.8 515.7 L559.7 515.1 L561.6 514.4 L563.5 513.8 L565.4 513.1 L567.2 512.5 L569.1 511.8 L571 511.2 L572.9 510.5 L574.8 509.9 L576.7 509.2 L578.6 508.6 L580.5 507.9 L582.4 507.3 L584.3 506.6 L586.2 506 L588.1 505.4 L590 504.7 L591.9 504.1 L593.8 503.4 L595.7 502.8 L597.6 502.1 L599.5 501.5 L601.4 500.8 L603.3 500.2 L605.2 499.5 L607 498.9 L608.9 498.2 L610.8 497.6 L612.7 496.9 L614.6 496.3 L616.5 495.6 L618.4 495 L620.3 494.3 L622.2 493.7 L624.1 493 L626 492.4 L627.9 491.8 L629.8 491.1 L631.7 490.5 L633.6 489.8 L635.5 489.2 L637.4 488.5 L639.3 487.9 L641.2 487.2 L643.1 486.6 L644.9 485.9 L646.8 485.3 L648.7 484.6 L650.6 484 L652.5 483.3 L654.4 482.7 L656.3 482 L658.2 481.4 L660.1 480.7 L662 480.1 L663.9 479.4 L665.8 478.8 L667.7 478.2 L669.6 477.5 L671.5 476.9 L673.4 476.2 L675.3 475.6 L677.2 474.9 L679.1 474.3 L681 473.6 L682.8 473 L684.7 472.3 L686.6 471.6 L688.5 470.9 L690.4 470.3 L692.3 469.6 L694.2 468.9 L696.1 468.3 L698 467.6 L699.9 467 L701.8 466.3 L703.7 465.7 L705.6 465.1 L707.5 464.6 L709.4 464 L711.3 463.5 L713.3 462.9 L715.2 462.4 L717.1 461.9 L719.1 461.4 L721 460.9 L723 460.4 L724.9 459.9 L726.9 459.5 L728.8 459 L730.8 458.6 L732.7 458.2 L734.7 457.8 L736.6 457.4 L738.6 457 L740.6 456.6 L742.6 456.2 L744.5 455.8 L746.5 455.5 L748.5 455.2 L750.5 454.8 L752.4 454.5 L754.4 454.3 L756.4 454 L758.4 453.8 L760.4 453.5 L762.4 453.3 L764.4 453.1 L766.3 452.8 L768.3 452.6 L770.3 452.4 L772.3 452.2 L774.3 452.1 L776.3 452 L778.3 451.9 L780.3 451.8 L782.3 451.8 L784.3 451.7 L786.3 451.7 L788.3 451.7 L790.3 451.7 L792.3 451.7 L794.3 451.6 L796.3 451.6 L798.3 451.6 L800.4 451.6 L802.4 451.6 L804.4 451.6 L806.4 451.6 L808.4 451.6 L810.4 451.6 L812.4 451.6 L814.4 451.6 L816.4 451.6 L818.4 451.6 L820.4 451.6 L822.4 451.7 L824.4 451.9 L826.4 452 L828.4 452.2 L830.4 452.4 L832.3 452.6 L834.3 453 L836.3 453.4 L838.2 453.9 L840.2 454.4 L842.1 454.9 L844.1 455.3 L846 455.8 L848 456.3 L849.9 456.8 L851.8 457.4 L853.8 457.9 L855.7 458.5 L857.6 459 L859.5 459.6 L861.4 460.2 L863.3 460.8 L865.3 461.4 L867.2 462 L869.1 462.6 L871 463.3 L872.9 463.9 L874.8 464.6 L876.6 465.3 L878.5 465.9 L880.4 466.6 L882.3 467.4 L884.1 468.1 L886 468.8 L887.8 469.6 L889.7 470.4 L891.5 471.2 L893.4 472 L895.2 472.8 L897 473.6 L898.8 474.5 L900.6 475.3 L902.4 476.2 L904.2 477.1 L906 478 L907.8 478.9 L909.6 479.9 L911.3 480.8 L913.1 481.8 L914.8 482.8 L916.6 483.8 L918.3 484.8 L920 485.8 L921.8 486.8 L923.5 487.8 L925.2 488.8 L927 489.8 L928.7 490.8 L930.4 491.8 L932.2 492.9 L933.9 493.9 L935.6 495 L937.3 496 L939 497.1 L940.6 498.3 L942.2 499.4 L943.8 500.6 L945.4 501.9 L946.9 503.1 L948.4 504.5 L949.9 505.9 L951.3 507.3 L952.7 508.7 L954 510.2 L955.3 511.7 L956.6 513.3 L957.8 514.9 L959 516.5 L960.1 518.2 L961.2 519.8 L962.2 521.5 L963.2 523.3 L964.2 525.1 L965.1 526.8 L966 528.6 L966.9 530.4 L967.8 532.2 L968.7 534 L969.6 535.8 L970.5 537.6 L971.4 539.4 L972.2 541.2 L973.2 543 L974.1 544.7 L975.1 546.5 L976.1 548.3 L977 550 L977.8 551.9 L978.5 553.7 L979.1 555.6 L979.7 557.5 L980.3 559.4 L980.8 561.4 L981.4 563.3 L981.9 565.2 L982.5 567.2 L983 569.1 L983.6 571 L984.1 573 L984.6 574.9 L985.1 576.8 L985.6 578.8 L986 580.7 L986.4 582.7 L986.9 584.6 L987.3 586.6 L987.6 588.6 L988 590.5 L988.4 592.5 L988.7 594.5 L989 596.5 L989.4 598.4 L989.7 600.4 L990.1 602.4 L990.6 604.3 L991 606.3 L991.5 608.2 L992 610.2 L992.5 612.1 L993 614 L993.5 616 L994 617.9 L994.5 619.9 L995 621.8 L995.5 623.7 L996 625.7 L996.4 627.6 L996.8 629.6 L997.2 631.6 L997.6 633.5 L997.9 635.5 L998.3 637.5 L998.7 639.4 L999.1 641.4 L999.5 643.4 L999.8 645.3 L1000.2 647.3 L1000.5 649.3 L1000.9 651.3 L1001.2 653.2 L1001.4 655.2 L1001.7 657.2 L1002 659.2 L1002.3 661.2 L1002.6 663.1 L1003 665.1 L1003.3 667.1 L1003.6 669.1 L1003.9 671 L1004.3 673 L1004.6 675 L1005 677 L1005.4 678.9 L1005.7 680.9 L1006.1 682.9 L1006.4 684.9 L1006.6 686.8 L1006.8 688.8 L1006.9 690.8 L1007 692.8 L1007.1 694.8 L1007.3 696.8 L1007.4 698.8 L1007.6 700.8 L1007.7 702.8 L1007.9 704.8 L1008.1 706.8 L1008.3 708.8 L1008.5 710.8 L1008.8 712.8 L1009 714.8 L1009.2 716.8 L1009.4 718.8 L1009.7 720.7 L1009.9 722.7 L1010.2 724.7 L1010.5 726.7 L1010.8 728.7 L1011.1 730.7 L1011.4 732.6 L1011.7 734.6 L1011.9 736.6 L1012.2 738.6 L1012.5 740.6 L1012.8 742.5 L1013.1 744.5 L1013.3 746.5 L1013.6 748.5"/>
<path d="M366 580 L367.9 579.3 L369.8 578.7 L371.7 578 L373.5 577.3 L375.4 576.7 L377.3 576 L379.2 575.3 L381.1 574.7 L383 574 L384.9 573.4 L386.8 572.7 L388.6 572 L390.5 571.4 L392.4 570.7 L394.3 570 L396.2 569.4 L398.1 568.7 L400 568 L401.9 567.4 L403.7 566.7 L405.6 566 L407.5 565.4 L409.4 564.7 L411.3 564.1 L413.2 563.4 L415.1 562.7 L417 562.1 L418.8 561.4 L420.7 560.7 L422.6 560.1 L424.5 559.4 L426.4 558.7 L428.3 558.1 L430.2 557.4 L432.1 556.7 L433.9 556.1 L435.8 555.4 L437.7 554.8 L439.6 554.1 L441.5 553.4 L443.4 552.8 L445.3 552.1 L447.2 551.4 L449 550.8 L450.9 550.1 L452.8 549.4 L454.7 548.8 L456.6 548.1 L458.5 547.4 L460.4 546.8 L462.3 546.1 L464.1 545.5 L466 544.8 L467.9 544.1 L469.8 543.5 L471.7 542.8 L473.6 542.1 L475.5 541.5 L477.4 540.8 L479.2 540.1 L481.1 539.5 L483 538.8 L484.9 538.1 L486.8 537.5 L488.7 536.8 L490.6 536.2 L492.5 535.5 L494.3 534.8 L496.2 534.2 L498.1 533.5 L500 532.8 L501.9 532.2 L503.8 531.5 L505.7 530.8 L507.6 530.2 L509.4 529.5 L511.3 528.8 L513.2 528.2 L515.1 527.5 L517 526.9 L518.9 526.2 L520.8 525.5 L522.7 524.9 L524.5 524.2 L526.4 523.5 L528.3 522.9 L530.2 522.2 L532.1 521.5 L534 520.9 L535.9 520.2 L537.7 519.5 L539.6 518.9 L541.5 518.2 L543.4 517.6 L545.3 516.9 L547.2 516.2 L549.1 515.6 L551 514.9 L552.8 514.2 L554.7 513.6 L556.6 512.9 L558.5 512.2 L560.4 511.6 L562.3 510.9 L564.2 510.2 L566.1 509.6 L567.9 508.9 L569.8 508.3 L571.7 507.6 L573.6 506.9 L575.5 506.3 L577.4 505.6 L579.3 504.9 L581.2 504.3 L583 503.6 L584.9 502.9 L586.8 502.3 L588.7 501.6 L590.6 500.9 L592.5 500.3 L594.4 499.6 L596.3 498.9 L598.1 498.3 L600 497.6 L601.9 497 L603.8 496.3 L605.7 495.6 L607.6 495 L609.5 494.3 L611.4 493.6 L613.2 493 L615.1 492.3 L617 491.6 L618.9 491 L620.8 490.3 L622.7 489.6 L624.6 489 L626.5 488.3 L628.3 487.7 L630.2 487 L632.1 486.3 L634 485.7 L635.9 485 L637.8 484.3 L639.7 483.7 L641.6 483 L643.4 482.3 L645.3 481.7 L647.2 481 L649.1 480.3 L651 479.7 L652.9 479 L654.8 478.4 L656.7 477.7 L658.5 477 L660.4 476.4 L662.3 475.7 L664.2 475 L666.1 474.4 L668 473.7 L669.9 473 L671.8 472.4 L673.6 471.7 L675.5 471 L677.4 470.4 L679.3 469.7 L681.2 469.1 L683.1 468.4 L685 467.7 L686.9 467.1 L688.7 466.4 L690.6 465.7 L692.5 465.1 L694.4 464.4 L696.3 463.7 L698.2 463.1 L700.1 462.4 L702 461.7 L703.8 461.1 L705.7 460.4 L707.6 459.8 L709.5 459.1 L711.4 458.4 L713.3 457.8 L715.2 457.1 L717 456.4 L718.9 455.7 L720.8 455.1 L722.7 454.4 L724.6 453.7 L726.4 453 L728.3 452.3 L730.2 451.6 L732.1 450.9 L734 450.2 L735.9 449.5 L737.8 448.9 L739.7 448.3 L741.6 447.7 L743.5 447.1 L745.4 446.6 L747.3 446 L749.2 445.5 L751.2 444.9 L753.1 444.4 L755 443.9 L757 443.4 L758.9 442.9 L760.9 442.5 L762.9 442.1 L764.8 441.7 L766.8 441.3 L768.7 441 L770.7 440.7 L772.7 440.5 L774.7 440.2 L776.7 440 L778.7 439.8 L780.7 439.7 L782.7 439.5 L784.7 439.4 L786.7 439.3 L788.7 439.2 L790.7 439 L792.7 438.9 L794.6 438.7 L796.6 438.4 L798.6 438.2 L800.6 437.9 L802.6 437.7 L804.6 437.4 L806.6 437.2 L808.5 436.9 L810.5 436.7 L812.5 436.4 L814.5 436.2 L816.5 436.1 L818.5 435.9 L820.5 435.8 L822.5 435.6 L824.5 435.5 L826.5 435.4 L828.5 435.2 L830.5 435.1 L832.5 435 L834.5 434.9 L836.5 434.7 L838.5 434.6 L840.5 434.5 L842.5 434.4 L844.5 434.2 L846.4 434 L848.4 433.8 L850.4 433.6 L852.4 433.5 L854.4 433.5 L856.4 433.5 L858.4 433.6 L860.4 433.6 L862.5 433.7 L864.5 433.8 L866.5 433.9 L868.5 434 L870.5 434.2 L872.4 434.3 L874.4 434.5 L876.4 434.6 L878.4 434.9 L880.3 435.2 L882.3 435.6 L884.2 436.1 L886.2 436.6 L888.1 437.2 L890.1 437.7 L892 438.4 L893.9 439 L895.8 439.6 L897.7 440.3 L899.6 440.9 L901.5 441.5 L903.4 442.1 L905.3 442.8 L907.1 443.5 L909 444.3 L910.9 445 L912.7 445.8 L914.6 446.6 L916.4 447.4 L918.2 448.3 L920 449.1 L921.8 450 L923.6 450.8 L925.4 451.7 L927.2 452.6 L929 453.5 L930.8 454.5 L932.5 455.4 L934.3 456.4 L936 457.4 L937.8 458.4 L939.5 459.4 L941.2 460.5 L942.9 461.5 L944.6 462.6 L946.3 463.7 L947.9 464.8 L949.6 465.9 L951.2 467 L952.9 468.2 L954.5 469.4 L956.1 470.6 L957.7 471.8 L959.3 473 L960.9 474.2 L962.4 475.5 L964 476.7 L965.6 478 L967.1 479.2 L968.7 480.5 L970.2 481.8 L971.8 483 L973.3 484.4 L974.8 485.7 L976.2 487.1 L977.6 488.5 L978.9 490 L980.2 491.5 L981.5 493 L982.8 494.6 L984 496.2 L985.2 497.8 L986.4 499.4 L987.5 501.1 L988.6 502.7 L989.7 504.4 L990.8 506.1 L991.8 507.8 L992.7 509.6 L993.6 511.4 L994.5 513.2 L995.4 515 L996.3 516.8 L997.1 518.6 L998 520.4 L998.9 522.2 L999.8 524 L1000.6 525.8 L1001.4 527.7 L1002.1 529.5 L1002.8 531.4 L1003.5 533.3 L1004.1 535.2 L1004.7 537.1 L1005.3 539 L1005.9 540.9 L1006.6 542.8 L1007.2 544.7 L1007.8 546.6 L1008.4 548.5 L1009 550.4 L1009.6 552.3 L1010.1 554.3 L1010.6 556.2 L1011.1 558.1 L1011.6 560.1 L1012 562 L1012.5 564 L1013 565.9 L1013.5 567.9 L1014 569.8 L1014.6 571.7 L1015.1 573.7 L1015.6 575.6 L1016 577.6 L1016.3 579.5 L1016.6 581.5 L1016.9 583.5 L1017.1 585.5 L1017.4 587.4 L1017.7 589.4 L1018 591.4 L1018.4 593.4 L1018.7 595.3 L1019.1 597.3 L1019.5 599.3 L1019.8 601.2 L1020.2 603.2 L1020.5 605.2 L1020.9 607.2 L1021.2 609.1 L1021.5 611.1 L1021.8 613.1 L1022.2 615.1 L1022.5 617 L1022.8 619 L1023.2 621 L1023.5 622.9 L1023.8 624.9 L1024.1 626.9 L1024.4 628.9 L1024.7 630.9 L1025 632.8 L1025.3 634.8 L1025.6 636.8 L1025.9 638.8 L1026.3 640.7 L1026.6 642.7 L1027 644.7 L1027.3 646.7 L1027.7 648.6 L1028 650.6 L1028.4 652.6 L1028.7 654.5 L1029.1 656.5 L1029.4 658.5 L1029.8 660.4 L1030.1 662.4 L1030.4 664.4 L1030.7 666.4 L1031 668.3 L1031.3 670.3 L1031.6 672.3 L1031.8 674.3 L1031.9 676.3 L1032.1 678.3 L1032.2 680.3 L1032.3 682.3 L1032.4 684.3 L1032.5 686.3 L1032.6 688.3 L1032.8 690.3 L1033 692.3 L1033.2 694.3 L1033.4 696.2 L1033.6 698.2 L1033.8 700.2 L1034 702.2 L1034.2 704.2 L1034.5 706.2 L1034.7 708.2 L1034.9 710.2 L1035.2 712.2 L1035.5 714.1 L1035.7 716.1 L1036 718.1 L1036.3 720.1 L1036.6 722.1 L1037 724 L1037.3 726"/>
<path d="M374 577 L375.9 578.3 L377.8 579.3 L379.6 580 L381.5 580.5 L383.4 580.7 L385.2 580.6 L387.1 580.1 L389 579.3 L390.8 578.3 L392.7 577.4 L394.6 576.6 L396.4 575.9 L398.3 575.2 L400.2 574.5 L402 573.8 L403.9 573 L405.8 572.3 L407.7 571.6 L409.5 570.9 L411.4 570.2 L413.3 569.5 L415.1 568.8 L417 568.1 L418.9 567.4 L420.7 566.6 L422.6 565.9 L424.5 565.2 L426.3 564.4 L428.2 563.7 L430 563 L431.9 562.2 L433.8 561.5 L435.6 560.7 L437.5 559.9 L439.3 559.2 L441.2 558.4 L443 557.7 L444.9 556.9 L446.7 556.2 L448.6 555.4 L450.4 554.6 L452.3 553.9 L454.1 553.2 L456 552.4 L457.9 551.7 L459.7 551 L461.6 550.3 L463.5 549.6 L465.3 548.9 L467.2 548.2 L469.1 547.5 L471 546.8 L472.9 546.1 L474.8 545.5 L476.6 544.8 L478.5 544.1 L480.4 543.5 L482.3 542.8 L484.2 542.1 L486.1 541.4 L487.9 540.7 L489.8 540 L491.7 539.3 L493.5 538.6 L495.4 537.8 L497.2 537.1 L499.1 536.3 L500.9 535.5 L502.7 534.7 L504.6 533.9 L506.4 533 L508.2 532.2 L510 531.4 L511.9 530.5 L513.7 529.7 L515.5 528.9 L517.4 528.1 L519.2 527.4 L521.1 526.6 L522.9 525.9 L524.8 525.1 L526.6 524.4 L528.5 523.6 L530.4 522.9 L532.2 522.2 L534.1 521.5 L536 520.7 L537.8 520 L539.7 519.3 L541.6 518.6 L543.4 517.9 L545.3 517.2 L547.2 516.5 L549.1 515.8 L550.9 515.1 L552.8 514.4 L554.7 513.7 L556.6 513 L558.4 512.3 L560.3 511.6 L562.2 510.9 L564.1 510.2 L565.9 509.5 L567.8 508.8 L569.7 508.1 L571.6 507.4 L573.4 506.7 L575.3 506 L577.2 505.3 L579.1 504.6 L580.9 503.9 L582.8 503.2 L584.7 502.5 L586.6 501.8 L588.4 501.1 L590.3 500.4 L592.2 499.7 L594.1 499 L595.9 498.3 L597.8 497.6 L599.7 496.9 L601.6 496.2 L603.4 495.6 L605.3 494.9 L607.2 494.2 L609.1 493.5 L610.9 492.8 L612.8 492.1 L614.7 491.4 L616.6 490.7 L618.5 490 L620.3 489.3 L622.2 488.6 L624.1 487.9 L626 487.2 L627.8 486.6 L629.7 485.9 L631.6 485.2 L633.5 484.5 L635.4 483.8 L637.2 483.1 L639.1 482.4 L641 481.7 L642.9 481 L644.7 480.3 L646.6 479.6 L648.5 479 L650.4 478.3 L652.3 477.6 L654.1 476.9 L656 476.2 L657.9 475.5 L659.8 474.8 L661.6 474.1 L663.5 473.4 L665.4 472.7 L667.3 472.1 L669.2 471.4 L671 470.7 L672.9 470 L674.8 469.3 L676.7 468.6 L678.6 467.9 L680.4 467.2 L682.3 466.6 L684.2 465.9 L686.1 465.2 L688 464.5 L689.8 463.8 L691.7 463.2 L693.6 462.5 L695.5 461.8 L697.4 461.1 L699.3 460.4 L701.1 459.8 L703 459.1 L704.9 458.4 L706.8 457.8 L708.7 457.1 L710.6 456.5 L712.5 455.8 L714.4 455.2 L716.3 454.5 L718.2 453.9 L720.1 453.2 L722 452.6 L723.9 452 L725.8 451.4 L727.7 450.8 L729.6 450.1 L731.5 449.5 L733.4 448.9 L735.3 448.4 L737.2 447.8 L739.1 447.2 L741.1 446.7 L743 446.1 L744.9 445.6 L746.8 445 L748.8 444.5 L750.7 444 L752.6 443.5 L754.6 443 L756.5 442.5 L758.4 442 L760.4 441.5 L762.3 441 L764.3 440.5 L766.2 440.1 L768.2 439.6 L770.1 439.1 L772 438.6 L774 438.1 L775.9 437.6 L777.9 437.2 L779.8 436.7 L781.7 436.2 L783.7 435.7 L785.6 435.2 L787.6 434.8 L789.5 434.3 L791.5 433.8 L793.4 433.3 L795.4 432.9 L797.3 432.4 L799.3 432 L801.2 431.5 L803.2 431.1 L805.1 430.7 L807.1 430.2 L809 429.8 L811 429.4 L812.9 429 L814.9 428.7 L816.9 428.3 L818.8 427.9 L820.8 427.6 L822.8 427.3 L824.8 427 L826.8 426.7 L828.7 426.4 L830.7 426.2 L832.7 425.9 L834.7 425.7 L836.7 425.4 L838.7 425.2 L840.7 425 L842.6 424.8 L844.6 424.5 L846.6 424.3 L848.6 424.1 L850.6 423.9 L852.6 423.6 L854.6 423.4 L856.6 423.2 L858.5 422.9 L860.5 422.7 L862.5 422.4 L864.5 422.2 L866.5 421.9 L868.5 421.6 L870.4 421.3 L872.4 421 L874.4 420.7 L876.4 420.3 L878.3 420 L880.3 419.6 L882.3 419.3 L884.2 418.9 L886.2 418.5 L888.1 418 L890.1 417.6 L892 417.1 L894 416.6 L895.9 416.4 L897.8 416.4 L899.7 416.5 L901.6 416.7 L903.5 416.9 L905.4 417.2 L907.2 417.5 L909.1 417.9 L911 418.3 L912.9 418.8 L914.8 419.3 L916.6 419.9 L918.5 420.5 L920.4 421.1 L922.2 421.8 L924.1 422.5 L926 423.3 L927.8 424 L929.7 424.9 L931.5 425.7 L933.4 426.6 L935.2 427.5 L937.1 428.4 L938.9 429.3 L940.7 430.3 L942.6 431.3 L944.4 432.3 L946.2 433.3 L948.1 434.3 L949.9 435.4 L951.7 436.4 L953.5 437.5 L955.3 438.6 L957.1 439.7 L958.9 440.8 L960.7 441.9 L962.5 443 L964.3 444.1 L966.1 445.1 L967.9 446.2 L969.6 447.3 L971.4 448.4 L973.2 449.5 L974.9 450.5 L976.7 451.6 L978.5 452.6 L980.2 453.6 L982 454.6 L983.7 455.6 L985.4 456.6 L987.2 457.6 L989 458.6 L990.7 459.6 L992.5 460.7 L994.1 461.8 L995.6 463 L997 464.3 L998.3 465.8 L999.6 467.4 L1000.7 469 L1001.8 470.7 L1003 472.4 L1004.1 474.1 L1005.3 475.7 L1006.4 477.4 L1007.5 479.1 L1008.6 480.7 L1009.7 482.4 L1010.7 484.1 L1011.8 485.8 L1012.8 487.5 L1013.8 489.3 L1014.8 491 L1015.8 492.8 L1016.7 494.5 L1017.6 496.3 L1018.5 498.1 L1019.3 499.9 L1020.1 501.8 L1020.9 503.6 L1021.7 505.4 L1022.5 507.3 L1023.3 509.1 L1024.2 510.9 L1024.9 512.8 L1025.7 514.6 L1026.5 516.5 L1027.2 518.3 L1027.9 520.2 L1028.5 522.1 L1029.2 524 L1029.8 525.9 L1030.4 527.8 L1031 529.7 L1031.5 531.6 L1032.1 533.6 L1032.6 535.5 L1033.1 537.4 L1033.5 539.4 L1034 541.3 L1034.5 543.3 L1034.9 545.2 L1035.3 547.2 L1035.8 549.1 L1036.2 551.1 L1036.6 553.1 L1037 555 L1037.3 557 L1037.7 559 L1038.1 560.9 L1038.4 562.9 L1038.8 564.9 L1039.1 566.8 L1039.5 568.8 L1039.8 570.8 L1040.1 572.8 L1040.5 574.7 L1040.8 576.7 L1041.2 578.7 L1041.5 580.6 L1041.9 582.6 L1042.2 584.6 L1042.6 586.5 L1042.9 588.5 L1043.2 590.5 L1043.5 592.5 L1043.8 594.5 L1044 596.4 L1044.3 598.4 L1044.6 600.4 L1044.9 602.4 L1045.2 604.4 L1045.5 606.3 L1045.9 608.3 L1046.2 610.3 L1046.6 612.2 L1046.9 614.2 L1047.2 616.2 L1047.6 618.2 L1047.9 620.1 L1048.2 622.1 L1048.5 624.1 L1048.8 626.1 L1049.1 628.1 L1049.4 630 L1049.7 632 L1050 634 L1050.3 636 L1050.6 637.9 L1050.9 639.9 L1051.2 641.9 L1051.6 643.9 L1051.9 645.8 L1052.2 647.8 L1052.5 649.8 L1052.8 651.8 L1053.1 653.8 L1053.4 655.7 L1053.8 657.7 L1054.1 659.7 L1054.4 661.7 L1054.7 663.6 L1055 665.6 L1055.3 667.6 L1055.6 669.6 L1055.8 671.6 L1056.1 673.5 L1056.3 675.5 L1056.5 677.5 L1056.7 679.5 L1056.8 681.5 L1057 683.5 L1057.1 685.5 L1057.2 687.5 L1057.3 689.5"/>
<path d="M386 573 L388 574 L389.9 574.7 L391.8 575.2 L393.8 575.5 L395.7 575.7 L397.6 575.5 L399.5 574.9 L401.3 574.1 L403.2 573.1 L405 572.2 L406.9 571.5 L408.8 570.8 L410.7 570.1 L412.5 569.4 L414.4 568.6 L416.3 567.9 L418.1 567.2 L420 566.5 L421.9 565.7 L423.7 565 L425.6 564.3 L427.5 563.5 L429.3 562.8 L431.2 562 L433 561.3 L434.9 560.5 L436.7 559.8 L438.6 559 L440.4 558.2 L442.3 557.5 L444.1 556.7 L446 556 L447.9 555.2 L449.7 554.5 L451.6 553.7 L453.4 552.9 L455.3 552.2 L457.1 551.5 L459 550.7 L460.9 550 L462.8 549.3 L464.6 548.6 L466.5 547.9 L468.4 547.2 L470.3 546.5 L472.2 545.9 L474 545.2 L475.9 544.5 L477.8 543.8 L479.7 543.2 L481.6 542.5 L483.5 541.8 L485.3 541.1 L487.2 540.4 L489.1 539.7 L491 539 L492.8 538.3 L494.7 537.5 L496.5 536.8 L498.4 536 L500.2 535.2 L502 534.3 L503.9 533.5 L505.7 532.7 L507.5 531.8 L509.3 531 L511.1 530.1 L513 529.3 L514.8 528.5 L516.6 527.7 L518.5 526.9 L520.3 526.1 L522.2 525.3 L524 524.6 L525.9 523.8 L527.7 523.1 L529.6 522.3 L531.4 521.6 L533.3 520.9 L535.2 520.1 L537 519.4 L538.9 518.7 L540.8 518 L542.6 517.2 L544.5 516.5 L546.4 515.8 L548.2 515.1 L550.1 514.4 L552 513.7 L553.9 512.9 L555.7 512.2 L557.6 511.5 L559.5 510.8 L561.4 510.1 L563.2 509.4 L565.1 508.7 L567 508 L568.8 507.3 L570.7 506.5 L572.6 505.8 L574.5 505.1 L576.3 504.4 L578.2 503.7 L580.1 503 L581.9 502.3 L583.8 501.5 L585.7 500.8 L587.5 500.1 L589.4 499.4 L591.3 498.7 L593.2 498 L595 497.3 L596.9 496.5 L598.8 495.8 L600.7 495.1 L602.5 494.4 L604.4 493.7 L606.3 493 L608.1 492.3 L610 491.6 L611.9 490.9 L613.8 490.2 L615.6 489.4 L617.5 488.7 L619.4 488 L621.3 487.3 L623.1 486.6 L625 485.9 L626.9 485.2 L628.7 484.5 L630.6 483.8 L632.5 483.1 L634.4 482.4 L636.2 481.7 L638.1 481 L640 480.2 L641.9 479.5 L643.7 478.8 L645.6 478.1 L647.5 477.4 L649.4 476.7 L651.2 476 L653.1 475.3 L655 474.6 L656.8 473.9 L658.7 473.1 L660.6 472.4 L662.5 471.7 L664.3 471 L666.2 470.3 L668.1 469.6 L670 468.9 L671.8 468.2 L673.7 467.5 L675.6 466.8 L677.5 466.1 L679.3 465.4 L681.2 464.7 L683.1 464 L685 463.3 L686.8 462.6 L688.7 461.9 L690.6 461.2 L692.5 460.5 L694.3 459.8 L696.2 459.1 L698.1 458.4 L700 457.7 L701.9 457 L703.8 456.3 L705.6 455.7 L707.5 455 L709.4 454.3 L711.3 453.6 L713.2 452.9 L715.1 452.3 L716.9 451.6 L718.8 450.9 L720.7 450.3 L722.6 449.6 L724.5 448.9 L726.4 448.3 L728.3 447.6 L730.2 447 L732.1 446.3 L734 445.7 L735.9 445 L737.8 444.4 L739.7 443.8 L741.6 443.1 L743.5 442.5 L745.4 441.9 L747.3 441.3 L749.2 440.7 L751.1 440.1 L753 439.4 L754.9 438.8 L756.8 438.2 L758.7 437.6 L760.6 437.1 L762.6 436.5 L764.5 435.9 L766.4 435.3 L768.3 434.7 L770.2 434.1 L772.1 433.5 L774 432.9 L775.9 432.3 L777.8 431.7 L779.8 431.1 L781.7 430.5 L783.6 429.9 L785.5 429.3 L787.4 428.7 L789.3 428.1 L791.2 427.5 L793.1 426.9 L795.1 426.4 L797 425.8 L798.9 425.2 L800.8 424.7 L802.8 424.1 L804.7 423.6 L806.6 423.1 L808.6 422.5 L810.5 422 L812.4 421.5 L814.4 421.1 L816.3 420.6 L818.3 420.2 L820.2 419.7 L822.2 419.3 L824.2 418.9 L826.1 418.6 L828.1 418.2 L830.1 417.9 L832.1 417.6 L834 417.3 L836 417 L838 416.7 L840 416.5 L842 416.2 L844 416 L846 415.7 L848 415.5 L849.9 415.3 L851.9 415.1 L853.9 414.8 L855.9 414.6 L857.9 414.4 L859.9 414.2 L861.9 414 L863.9 413.8 L865.9 413.5 L867.9 413.3 L869.8 413.1 L871.8 412.9 L873.8 412.6 L875.8 412.4 L877.8 412.1 L879.8 411.8 L881.8 411.6 L883.8 411.3 L885.7 411 L887.7 410.7 L889.7 410.3 L891.7 410 L893.6 409.6 L895.6 409.3 L897.6 408.9 L899.5 408.5 L901.5 408 L903.4 407.6 L905.4 407.1 L907.3 406.6 L909.3 406.1 L911.2 405.6 L913.1 405 L915 404.5 L916.9 403.8 L918.9 403.1 L920.8 402.9 L922.6 402.9 L924.5 403 L926.4 403.2 L928.3 403.4 L930.3 403.6 L932.2 403.9 L934.1 404.3 L936 404.7 L937.9 405.1 L939.9 405.6 L941.8 406.1 L943.7 406.7 L945.6 407.2 L947.6 407.9 L949.5 408.5 L951.4 409.2 L953.3 410 L955.3 410.7 L957.2 411.5 L959.1 412.3 L961 413.2 L962.9 414 L964.8 414.9 L966.7 415.9 L968.6 416.8 L970.5 417.8 L972.3 418.7 L974.2 419.7 L976 420.7 L977.9 421.8 L979.7 422.8 L981.5 423.9 L983.4 424.9 L985.2 426 L986.9 427.1 L988.7 428.1 L990.5 429.2 L992.2 430.3 L994 431.4 L995.7 432.5 L997.4 433.6 L999.1 434.7 L1000.8 435.8 L1002.4 436.9 L1004.1 438 L1005.7 439 L1007.3 440.1 L1008.9 441.3 L1010.4 442.6 L1011.9 443.9 L1013.3 445.3 L1014.8 446.8 L1016.2 448.2 L1017.6 449.6 L1019.1 451 L1020.6 452.3 L1022.1 453.7 L1023.5 455.2 L1024.8 456.6 L1026.1 458.1 L1027.2 459.7 L1028.3 461.4 L1029.4 463.1 L1030.4 464.9 L1031.4 466.6 L1032.4 468.4 L1033.4 470.1 L1034.3 471.9 L1035.3 473.7 L1036.2 475.4 L1037.1 477.2 L1038 479 L1039 480.8 L1039.9 482.5 L1040.9 484.3 L1041.8 486.1 L1042.7 487.9 L1043.5 489.7 L1044.3 491.5 L1045 493.4 L1045.7 495.3 L1046.4 497.2 L1047 499.1 L1047.6 501 L1048.3 502.9 L1048.9 504.8 L1049.6 506.7 L1050.2 508.5 L1050.9 510.4 L1051.5 512.4 L1052.1 514.3 L1052.7 516.2 L1053.3 518.1 L1053.9 520 L1054.5 521.9 L1055 523.9 L1055.4 525.8 L1055.8 527.8 L1056.1 529.7 L1056.4 531.7 L1056.7 533.7 L1057 535.7 L1057.3 537.7 L1057.6 539.7 L1058 541.6 L1058.3 543.6 L1058.7 545.6 L1059.1 547.5 L1059.4 549.5 L1059.7 551.5 L1060 553.5 L1060.3 555.4 L1060.6 557.4 L1060.9 559.4 L1061.2 561.4 L1061.5 563.4 L1061.9 565.3 L1062.3 567.3 L1062.7 569.3 L1063.1 571.2 L1063.5 573.2 L1063.8 575.2 L1064.1 577.1 L1064.4 579.1 L1064.6 581.1 L1064.9 583.1 L1065.2 585.1 L1065.4 587.1 L1065.7 589 L1066.1 591 L1066.4 593 L1066.7 595 L1067.1 596.9 L1067.4 598.9 L1067.8 600.9 L1068.1 602.9 L1068.5 604.8 L1068.9 606.8 L1069.3 608.8 L1069.6 610.7 L1069.9 612.7 L1070.2 614.7 L1070.5 616.7 L1070.8 618.7 L1071 620.6 L1071.3 622.6 L1071.6 624.6 L1071.9 626.6 L1072.3 628.6 L1072.6 630.5 L1073 632.5 L1073.3 634.5 L1073.6 636.5 L1073.9 638.4 L1074.2 640.4 L1074.4 642.4 L1074.7 644.4 L1075 646.4 L1075.2 648.4 L1075.5 650.4 L1075.8 652.3 L1076.1 654.3 L1076.3 656.3 L1076.6 658.3 L1076.7 660.3 L1076.8 662.3 L1076.9 664.3 L1077 666.3 L1077.1 668.3 L1077.2 670.3 L1077.2 672.3 L1077.2 674.3"/>
<path d="M399 568 L401 568.9 L403 569.5 L404.9 569.9 L406.9 570.1 L408.8 570.2 L410.7 570 L412.5 569.4 L414.4 568.6 L416.3 567.6 L418.1 566.7 L420 566 L421.8 565.2 L423.7 564.5 L425.6 563.8 L427.4 563 L429.3 562.3 L431.1 561.5 L433 560.8 L434.8 560 L436.7 559.2 L438.5 558.5 L440.4 557.7 L442.2 557 L444.1 556.2 L445.9 555.4 L447.8 554.7 L449.6 553.9 L451.5 553.1 L453.3 552.4 L455.2 551.6 L457 550.9 L458.9 550.2 L460.8 549.4 L462.6 548.7 L464.5 548 L466.4 547.3 L468.2 546.6 L470.1 545.9 L472 545.2 L473.9 544.6 L475.8 543.9 L477.7 543.2 L479.5 542.5 L481.4 541.9 L483.3 541.2 L485.2 540.5 L487.1 539.8 L488.9 539.1 L490.8 538.3 L492.6 537.6 L494.5 536.9 L496.3 536.1 L498.2 535.3 L500 534.5 L501.8 533.7 L503.6 532.8 L505.5 532 L507.3 531.1 L509.1 530.3 L510.9 529.4 L512.7 528.6 L514.5 527.7 L516.3 526.9 L518.2 526.1 L520 525.3 L521.8 524.5 L523.7 523.7 L525.5 523 L527.4 522.2 L529.2 521.5 L531.1 520.7 L532.9 520 L534.8 519.2 L536.7 518.5 L538.5 517.7 L540.4 517 L542.2 516.3 L544.1 515.5 L546 514.8 L547.8 514.1 L549.7 513.4 L551.6 512.6 L553.4 511.9 L555.3 511.2 L557.2 510.5 L559 509.7 L560.9 509 L562.7 508.3 L564.6 507.6 L566.5 506.8 L568.3 506.1 L570.2 505.4 L572.1 504.7 L573.9 503.9 L575.8 503.2 L577.7 502.5 L579.5 501.8 L581.4 501 L583.3 500.3 L585.1 499.6 L587 498.8 L588.8 498.1 L590.7 497.4 L592.6 496.7 L594.4 495.9 L596.3 495.2 L598.2 494.5 L600 493.8 L601.9 493 L603.8 492.3 L605.6 491.6 L607.5 490.9 L609.4 490.2 L611.2 489.4 L613.1 488.7 L614.9 488 L616.8 487.3 L618.7 486.5 L620.5 485.8 L622.4 485.1 L624.3 484.4 L626.1 483.7 L628 482.9 L629.9 482.2 L631.7 481.5 L633.6 480.8 L635.5 480 L637.3 479.3 L639.2 478.6 L641.1 477.9 L642.9 477.2 L644.8 476.4 L646.7 475.7 L648.5 475 L650.4 474.2 L652.2 473.5 L654.1 472.8 L656 472.1 L657.8 471.3 L659.7 470.6 L661.6 469.9 L663.4 469.2 L665.3 468.4 L667.2 467.7 L669 467 L670.9 466.3 L672.8 465.5 L674.6 464.8 L676.5 464.1 L678.4 463.4 L680.2 462.7 L682.1 462 L684 461.2 L685.8 460.5 L687.7 459.8 L689.6 459.1 L691.4 458.4 L693.3 457.7 L695.2 457 L697.1 456.3 L698.9 455.6 L700.8 454.9 L702.7 454.2 L704.6 453.5 L706.4 452.8 L708.3 452.2 L710.2 451.5 L712.1 450.8 L714 450.1 L715.9 449.5 L717.7 448.8 L719.6 448.1 L721.5 447.5 L723.4 446.8 L725.3 446.1 L727.2 445.5 L729.1 444.8 L731 444.2 L732.8 443.5 L734.7 442.8 L736.6 442.2 L738.5 441.5 L740.4 440.9 L742.3 440.2 L744.2 439.6 L746.1 438.9 L748 438.3 L749.9 437.6 L751.8 437 L753.6 436.3 L755.5 435.7 L757.4 435 L759.3 434.4 L761.2 433.7 L763.1 433.1 L765 432.4 L766.9 431.8 L768.8 431.1 L770.7 430.5 L772.6 429.8 L774.4 429.1 L776.3 428.5 L778.2 427.8 L780.1 427.1 L782 426.5 L783.9 425.8 L785.8 425.1 L787.7 424.5 L789.5 423.8 L791.4 423.2 L793.3 422.5 L795.2 421.9 L797.1 421.2 L799 420.6 L800.9 420 L802.8 419.4 L804.7 418.8 L806.6 418.1 L808.5 417.6 L810.5 417 L812.4 416.4 L814.3 415.9 L816.2 415.3 L818.2 414.8 L820.1 414.3 L822 413.8 L824 413.4 L825.9 412.9 L827.9 412.5 L829.8 412.1 L831.8 411.7 L833.8 411.3 L835.7 411 L837.7 410.6 L839.7 410.3 L841.7 410 L843.6 409.7 L845.6 409.4 L847.6 409.1 L849.6 408.8 L851.6 408.5 L853.5 408.3 L855.5 408 L857.5 407.8 L859.5 407.5 L861.5 407.3 L863.5 407.1 L865.4 406.8 L867.4 406.6 L869.4 406.3 L871.4 406.1 L873.4 405.9 L875.4 405.6 L877.4 405.4 L879.3 405.1 L881.3 404.9 L883.3 404.6 L885.3 404.3 L887.3 404 L889.3 403.7 L891.2 403.4 L893.2 403.1 L895.2 402.8 L897.2 402.5 L899.1 402.1 L901.1 401.7 L903.1 401.4 L905 400.9 L907 400.5 L908.9 400.1 L910.9 399.6 L912.8 399.2 L914.7 398.7 L916.7 398.2 L918.6 397.7 L920.6 397.1 L922.5 396.6 L924.4 396.1 L926.3 395.5 L928.2 395 L930.2 394.4 L932.1 393.8 L934 393.3 L935.9 392.7 L937.8 392.1 L939.8 391.5 L941.7 390.9 L943.6 390.9 L945.4 391 L947.3 391.1 L949.2 391.3 L951.1 391.5 L953 391.8 L954.9 392.2 L956.7 392.6 L958.6 393.1 L960.5 393.6 L962.4 394.1 L964.3 394.7 L966.1 395.3 L968 396 L969.9 396.7 L971.7 397.4 L973.6 398.2 L975.5 399 L977.3 399.9 L979.2 400.7 L981 401.6 L982.9 402.6 L984.7 403.5 L986.6 404.5 L988.4 405.5 L990.3 406.5 L992.1 407.5 L993.9 408.6 L995.7 409.7 L997.6 410.7 L999.4 411.8 L1001.2 412.9 L1003 414 L1004.8 415.1 L1006.5 416.3 L1008.3 417.4 L1010.1 418.5 L1011.9 419.6 L1013.6 420.7 L1015.4 421.8 L1017.1 423 L1018.8 424.1 L1020.6 425.1 L1022.3 426.2 L1024 427.3 L1025.7 428.4 L1027.4 429.4 L1029.1 430.4 L1030.8 431.5 L1032.4 432.7 L1034 433.9 L1035.6 435.1 L1037.1 436.4 L1038.7 437.7 L1040.2 439 L1041.7 440.4 L1043.1 441.8 L1044.5 443.2 L1045.8 444.7 L1047 446.3 L1048.1 447.9 L1049.2 449.6 L1050.2 451.3 L1051.2 453.1 L1052.2 454.8 L1053.2 456.6 L1054.1 458.4 L1055 460.1 L1055.9 461.9 L1056.8 463.7 L1057.7 465.5 L1058.6 467.3 L1059.5 469.1 L1060.4 470.9 L1061.4 472.6 L1062.4 474.4 L1063.3 476.1 L1064.2 477.9 L1065.1 479.7 L1066 481.5 L1066.8 483.3 L1067.6 485.2 L1068.4 487 L1069.1 488.9 L1069.7 490.8 L1070.3 492.7 L1070.8 494.6 L1071.3 496.5 L1071.8 498.5 L1072.3 500.4 L1072.7 502.4 L1073.2 504.3 L1073.6 506.3 L1073.9 508.3 L1074.3 510.2 L1074.7 512.2 L1075.1 514.2 L1075.5 516.1 L1076 518.1 L1076.4 520 L1076.8 522 L1077.2 523.9 L1077.7 525.9 L1078.1 527.8 L1078.5 529.8 L1078.9 531.8 L1079.3 533.7 L1079.6 535.7 L1080 537.7 L1080.3 539.6 L1080.6 541.6 L1080.8 543.6 L1081.1 545.6 L1081.3 547.6 L1081.6 549.6 L1081.9 551.5 L1082.3 553.5 L1082.6 555.5 L1083 557.4 L1083.4 559.4 L1083.7 561.4 L1084.1 563.3 L1084.4 565.3 L1084.7 567.3 L1085.1 569.3 L1085.4 571.2 L1085.7 573.2 L1086 575.2 L1086.3 577.2 L1086.6 579.1 L1086.9 581.1 L1087.2 583.1 L1087.5 585.1 L1087.8 587.1 L1088.1 589 L1088.3 591 L1088.6 593 L1088.9 595 L1089.1 597 L1089.4 598.9 L1089.7 600.9 L1090.1 602.9 L1090.4 604.9 L1090.8 606.8 L1091.1 608.8 L1091.5 610.8 L1091.8 612.7 L1092.1 614.7 L1092.4 616.7 L1092.7 618.7 L1092.9 620.7 L1093.2 622.7 L1093.4 624.6 L1093.6 626.6 L1093.8 628.6 L1094 630.6 L1094.2 632.6 L1094.3 634.6 L1094.5 636.6 L1094.6 638.6 L1094.8 640.6 L1094.9 642.6 L1095 644.6 L1095.2 646.6 L1095.3 648.6 L1095.5 650.6 L1095.7 652.5 L1095.9 654.5 L1096.1 656.5 L1096.3 658.5 L1096.5 660.5 L1096.7 662.5"/>
<path d="M408 565 L410 565.6 L412 566 L414 566.3 L416 566.4 L417.9 566.4 L419.8 566.2 L421.7 565.5 L423.5 564.7 L425.4 563.7 L427.2 562.8 L429.1 562 L430.9 561.2 L432.8 560.5 L434.6 559.7 L436.5 558.9 L438.3 558.2 L440.2 557.4 L442 556.6 L443.9 555.9 L445.7 555.1 L447.6 554.3 L449.4 553.6 L451.3 552.8 L453.2 552.1 L455 551.3 L456.9 550.6 L458.7 549.8 L460.6 549.1 L462.5 548.4 L464.3 547.7 L466.2 546.9 L468.1 546.2 L470 545.5 L471.8 544.9 L473.7 544.2 L475.6 543.5 L477.5 542.8 L479.4 542.1 L481.3 541.4 L483.1 540.7 L485 540.1 L486.9 539.4 L488.8 538.6 L490.6 537.9 L492.5 537.2 L494.3 536.4 L496.2 535.6 L498 534.9 L499.9 534 L501.7 533.2 L503.5 532.3 L505.3 531.5 L507.1 530.6 L508.9 529.8 L510.7 528.9 L512.5 528.1 L514.4 527.2 L516.2 526.4 L518 525.5 L519.8 524.7 L521.7 523.9 L523.5 523.2 L525.4 522.4 L527.2 521.6 L529.1 520.9 L530.9 520.1 L532.8 519.3 L534.6 518.6 L536.5 517.8 L538.3 517.1 L540.2 516.3 L542.1 515.6 L543.9 514.9 L545.8 514.1 L547.6 513.4 L549.5 512.6 L551.4 511.9 L553.2 511.2 L555.1 510.4 L557 509.7 L558.8 509 L560.7 508.3 L562.6 507.5 L564.4 506.8 L566.3 506.1 L568.1 505.3 L570 504.6 L571.9 503.8 L573.7 503.1 L575.6 502.4 L577.5 501.6 L579.3 500.9 L581.2 500.2 L583 499.4 L584.9 498.7 L586.8 497.9 L588.6 497.2 L590.5 496.5 L592.4 495.7 L594.2 495 L596.1 494.3 L597.9 493.5 L599.8 492.8 L601.7 492.1 L603.5 491.3 L605.4 490.6 L607.3 489.8 L609.1 489.1 L611 488.4 L612.8 487.6 L614.7 486.9 L616.6 486.2 L618.4 485.4 L620.3 484.7 L622.2 484 L624 483.2 L625.9 482.5 L627.8 481.8 L629.6 481 L631.5 480.3 L633.3 479.6 L635.2 478.8 L637.1 478.1 L638.9 477.4 L640.8 476.6 L642.7 475.9 L644.5 475.2 L646.4 474.4 L648.2 473.7 L650.1 472.9 L652 472.2 L653.8 471.5 L655.7 470.7 L657.5 470 L659.4 469.2 L661.3 468.5 L663.1 467.8 L665 467 L666.9 466.3 L668.7 465.5 L670.6 464.8 L672.4 464.1 L674.3 463.3 L676.2 462.6 L678 461.9 L679.9 461.1 L681.8 460.4 L683.6 459.7 L685.5 459 L687.4 458.2 L689.2 457.5 L691.1 456.8 L693 456.1 L694.8 455.4 L696.7 454.7 L698.6 454 L700.5 453.3 L702.4 452.6 L704.2 451.9 L706.1 451.2 L708 450.5 L709.9 449.8 L711.8 449.2 L713.7 448.5 L715.5 447.8 L717.4 447.2 L719.3 446.5 L721.2 445.8 L723.1 445.2 L725 444.5 L726.9 443.9 L728.8 443.2 L730.7 442.6 L732.6 441.9 L734.5 441.3 L736.4 440.6 L738.3 440 L740.2 439.4 L742.1 438.7 L743.9 438.1 L745.8 437.4 L747.7 436.7 L749.6 436.1 L751.5 435.4 L753.4 434.8 L755.3 434.1 L757.2 433.4 L759.1 432.7 L760.9 432 L762.8 431.3 L764.7 430.6 L766.6 429.9 L768.4 429.2 L770.3 428.5 L772.2 427.8 L774.1 427.1 L775.9 426.4 L777.8 425.6 L779.7 424.9 L781.5 424.2 L783.4 423.5 L785.3 422.7 L787.1 422 L789 421.3 L790.9 420.6 L792.7 419.9 L794.6 419.2 L796.5 418.5 L798.4 417.8 L800.3 417.1 L802.1 416.4 L804 415.7 L805.9 415.1 L807.8 414.4 L809.7 413.8 L811.6 413.1 L813.5 412.5 L815.4 411.9 L817.3 411.3 L819.2 410.7 L821.2 410.1 L823.1 409.6 L825 409.1 L827 408.6 L828.9 408.1 L830.8 407.6 L832.8 407.1 L834.7 406.7 L836.7 406.3 L838.7 405.9 L840.6 405.5 L842.6 405.1 L844.6 404.7 L846.5 404.3 L848.5 404 L850.5 403.7 L852.4 403.3 L854.4 403 L856.4 402.7 L858.4 402.4 L860.4 402.1 L862.3 401.8 L864.3 401.5 L866.3 401.2 L868.3 400.9 L870.3 400.6 L872.2 400.3 L874.2 400 L876.2 399.8 L878.2 399.5 L880.2 399.2 L882.2 398.9 L884.1 398.6 L886.1 398.3 L888.1 398 L890.1 397.6 L892 397.3 L894 397 L896 396.6 L898 396.3 L899.9 395.9 L901.9 395.5 L903.9 395.1 L905.8 394.7 L907.8 394.3 L909.7 393.9 L911.7 393.4 L913.6 392.9 L915.6 392.5 L917.5 392 L919.5 391.5 L921.4 391 L923.3 390.5 L925.3 390 L927.2 389.4 L929.1 388.9 L931.1 388.4 L933 387.9 L934.9 387.4 L936.9 386.8 L938.8 386.3 L940.8 385.8 L942.7 385.3 L944.6 384.8 L946.6 384.3 L948.5 383.8 L950.5 383.3 L952.4 382.9 L954.3 382.4 L956.3 381.9 L958.3 381.5 L960.2 381 L962.2 380.7 L964.1 380.7 L966 380.8 L967.9 381 L969.9 381.2 L971.8 381.5 L973.7 381.8 L975.6 382.2 L977.5 382.6 L979.4 383.1 L981.3 383.6 L983.3 384.2 L985.2 384.8 L987.1 385.4 L989 386.1 L990.9 386.8 L992.8 387.6 L994.6 388.3 L996.5 389.1 L998.4 390 L1000.3 390.8 L1002.2 391.7 L1004 392.6 L1005.9 393.6 L1007.7 394.5 L1009.6 395.5 L1011.4 396.4 L1013.3 397.4 L1015.1 398.4 L1017 399.4 L1018.8 400.4 L1020.6 401.4 L1022.4 402.4 L1024.2 403.5 L1026 404.5 L1027.8 405.5 L1029.6 406.5 L1031.4 407.4 L1033.1 408.4 L1034.9 409.4 L1036.7 410.3 L1038.4 411.3 L1040.1 412.2 L1041.9 413.3 L1043.6 414.4 L1045.2 415.5 L1046.9 416.7 L1048.4 417.9 L1050 419.1 L1051.5 420.5 L1052.9 421.8 L1054.4 423.2 L1055.8 424.7 L1057.2 426.1 L1058.6 427.5 L1060 429 L1061.3 430.5 L1062.7 432 L1063.9 433.6 L1065.1 435.2 L1066.2 436.8 L1067.3 438.5 L1068.3 440.2 L1069.2 442 L1070.2 443.8 L1071.1 445.6 L1072 447.4 L1072.9 449.2 L1073.8 451 L1074.6 452.8 L1075.5 454.6 L1076.3 456.4 L1077.1 458.2 L1077.9 460.1 L1078.7 461.9 L1079.5 463.8 L1080.2 465.6 L1081 467.5 L1081.7 469.3 L1082.5 471.2 L1083.2 473.1 L1083.9 474.9 L1084.6 476.8 L1085.3 478.7 L1086 480.6 L1086.6 482.5 L1087.2 484.4 L1087.8 486.3 L1088.3 488.2 L1088.9 490.2 L1089.4 492.1 L1090 494 L1090.6 495.9 L1091.2 497.8 L1091.8 499.7 L1092.4 501.6 L1093 503.6 L1093.6 505.5 L1094.1 507.4 L1094.7 509.3 L1095.2 511.3 L1095.7 513.2 L1096.2 515.2 L1096.6 517.1 L1097 519.1 L1097.5 521 L1097.9 523 L1098.2 524.9 L1098.6 526.9 L1098.9 528.9 L1099.3 530.9 L1099.6 532.8 L1099.9 534.8 L1100.1 536.8 L1100.4 538.8 L1100.7 540.8 L1101 542.8 L1101.2 544.8 L1101.5 546.7 L1101.7 548.7 L1102 550.7 L1102.3 552.7 L1102.6 554.7 L1102.9 556.6 L1103.2 558.6 L1103.6 560.6 L1104 562.6 L1104.3 564.5 L1104.7 566.5 L1105.1 568.5 L1105.4 570.4 L1105.8 572.4 L1106.2 574.4 L1106.5 576.3 L1106.8 578.3 L1107.1 580.3 L1107.4 582.3 L1107.7 584.3 L1108 586.3 L1108.2 588.2 L1108.5 590.2 L1108.7 592.2 L1108.9 594.2 L1109 596.2 L1109.2 598.2 L1109.4 600.2 L1109.5 602.2 L1109.7 604.2 L1109.8 606.2 L1109.9 608.2 L1110 610.2 L1110.2 612.2 L1110.3 614.2 L1110.5 616.2 L1110.7 618.2 L1110.9 620.2 L1111.1 622.2 L1111.4 624.1 L1111.7 626.1 L1111.9 628.1 L1112.2 630.1 L1112.5 632.1 L1112.8 634.1 L1113.1 636 L1113.4 638 L1113.7 640"/>
<path d="M414 568 L416 567.6 L417.9 567.1 L419.9 566.5 L421.8 565.9 L423.6 565.3 L425.5 564.6 L427.3 563.8 L429.1 562.9 L430.9 561.9 L432.7 561 L434.5 560.1 L436.3 559.3 L438.1 558.4 L439.9 557.6 L441.7 556.7 L443.5 555.9 L445.3 555 L447.2 554.2 L449 553.3 L450.8 552.5 L452.6 551.6 L454.4 550.8 L456.3 550 L458.1 549.2 L459.9 548.4 L461.8 547.6 L463.6 546.8 L465.5 546.1 L467.3 545.3 L469.2 544.6 L471.1 543.9 L472.9 543.1 L474.8 542.4 L476.7 541.7 L478.5 541 L480.4 540.3 L482.3 539.6 L484.2 538.9 L486 538.2 L487.9 537.4 L489.8 536.7 L491.6 536 L493.5 535.2 L495.3 534.4 L497.1 533.6 L498.9 532.7 L500.7 531.8 L502.5 531 L504.3 530.1 L506.1 529.2 L507.9 528.2 L509.6 527.3 L511.4 526.3 L513.2 525.4 L515 524.5 L516.8 523.6 L518.6 522.8 L520.4 521.9 L522.2 521 L524 520.2 L525.8 519.4 L527.7 518.6 L529.5 517.8 L531.3 517 L533.2 516.2 L535 515.4 L536.9 514.6 L538.7 513.9 L540.6 513.1 L542.4 512.3 L544.3 511.6 L546.1 510.8 L548 510.1 L549.8 509.3 L551.7 508.6 L553.5 507.8 L555.4 507.1 L557.3 506.4 L559.1 505.6 L561 504.9 L562.9 504.1 L564.7 503.4 L566.6 502.7 L568.4 501.9 L570.3 501.2 L572.1 500.4 L574 499.7 L575.9 498.9 L577.7 498.2 L579.6 497.4 L581.4 496.7 L583.3 495.9 L585.1 495.2 L587 494.4 L588.9 493.7 L590.7 492.9 L592.6 492.2 L594.4 491.4 L596.3 490.7 L598.1 489.9 L600 489.2 L601.9 488.5 L603.7 487.7 L605.6 487 L607.4 486.2 L609.3 485.5 L611.1 484.7 L613 484 L614.9 483.3 L616.7 482.5 L618.6 481.8 L620.4 481 L622.3 480.3 L624.2 479.6 L626 478.8 L627.9 478.1 L629.7 477.3 L631.6 476.6 L633.5 475.9 L635.3 475.1 L637.2 474.4 L639 473.6 L640.9 472.9 L642.8 472.1 L644.6 471.4 L646.5 470.6 L648.3 469.9 L650.2 469.1 L652 468.4 L653.9 467.6 L655.7 466.9 L657.6 466.1 L659.4 465.3 L661.3 464.6 L663.2 463.8 L665 463.1 L666.9 462.3 L668.7 461.6 L670.6 460.8 L672.4 460.1 L674.3 459.3 L676.2 458.6 L678 457.9 L679.9 457.1 L681.7 456.4 L683.6 455.7 L685.5 455 L687.4 454.3 L689.2 453.6 L691.1 452.9 L693 452.2 L694.9 451.5 L696.7 450.8 L698.6 450.1 L700.5 449.5 L702.4 448.8 L704.3 448.2 L706.2 447.5 L708.1 446.9 L710 446.3 L711.9 445.7 L713.8 445.1 L715.7 444.5 L717.6 443.9 L719.6 443.3 L721.5 442.7 L723.4 442.1 L725.3 441.5 L727.2 440.9 L729.1 440.3 L731 439.7 L732.9 439.1 L734.9 438.5 L736.8 438 L738.7 437.4 L740.6 436.8 L742.5 436.2 L744.4 435.6 L746.3 435 L748.2 434.3 L750.1 433.7 L752 433.1 L753.9 432.5 L755.8 431.8 L757.7 431.2 L759.6 430.5 L761.5 429.8 L763.4 429.1 L765.2 428.4 L767.1 427.7 L769 427 L770.8 426.2 L772.7 425.5 L774.6 424.8 L776.4 424 L778.3 423.2 L780.1 422.5 L781.9 421.7 L783.8 420.9 L785.6 420.1 L787.5 419.4 L789.3 418.6 L791.2 417.8 L793 417.1 L794.9 416.3 L796.8 415.6 L798.6 414.8 L800.5 414.1 L802.3 413.4 L804.2 412.7 L806.1 412 L808 411.3 L809.9 410.6 L811.7 409.9 L813.6 409.3 L815.5 408.7 L817.4 408 L819.4 407.4 L821.3 406.9 L823.2 406.3 L825.1 405.8 L827.1 405.3 L829 404.8 L830.9 404.3 L832.9 403.8 L834.8 403.4 L836.8 402.9 L838.7 402.5 L840.7 402.1 L842.7 401.6 L844.6 401.2 L846.6 400.9 L848.5 400.5 L850.5 400.1 L852.5 399.7 L854.5 399.4 L856.4 399 L858.4 398.7 L860.4 398.3 L862.3 398 L864.3 397.7 L866.3 397.3 L868.3 397 L870.2 396.7 L872.2 396.4 L874.2 396 L876.2 395.7 L878.1 395.4 L880.1 395 L882.1 394.7 L884.1 394.4 L886 394 L888 393.7 L890 393.3 L891.9 393 L893.9 392.6 L895.9 392.2 L897.8 391.9 L899.8 391.5 L901.8 391.1 L903.7 390.6 L905.7 390.2 L907.6 389.8 L909.6 389.3 L911.5 388.8 L913.5 388.4 L915.4 387.9 L917.4 387.4 L919.3 386.9 L921.2 386.4 L923.2 385.9 L925.1 385.3 L927 384.8 L929 384.3 L930.9 383.8 L932.8 383.3 L934.8 382.8 L936.7 382.3 L938.6 381.8 L940.6 381.3 L942.5 380.8 L944.5 380.3 L946.4 379.8 L948.4 379.3 L950.3 378.9 L952.3 378.4 L954.2 378 L956.2 377.6 L958.1 377.2 L960.1 376.8 L962.1 376.5 L964 376.1 L966 375.8 L968 375.5 L970 375.2 L972 374.9 L973.9 374.6 L975.9 374.2 L977.9 373.8 L979.9 373.6 L981.8 373.6 L983.8 373.7 L985.7 373.9 L987.6 374.2 L989.6 374.4 L991.5 374.8 L993.4 375.2 L995.4 375.7 L997.3 376.2 L999.2 376.7 L1001.1 377.3 L1003 378 L1004.9 378.6 L1006.9 379.4 L1008.8 380.1 L1010.7 380.9 L1012.6 381.7 L1014.4 382.5 L1016.3 383.3 L1018.2 384.1 L1020.1 385 L1022 385.9 L1023.8 386.7 L1025.7 387.6 L1027.6 388.5 L1029.4 389.4 L1031.3 390.2 L1033.1 391.1 L1035 391.9 L1036.8 392.7 L1038.6 393.5 L1040.5 394.3 L1042.3 395.1 L1044.1 396 L1045.9 396.9 L1047.7 397.8 L1049.4 398.8 L1051.1 399.8 L1052.8 401 L1054.4 402.1 L1056 403.4 L1057.5 404.6 L1059.1 405.9 L1060.7 407.2 L1062.3 408.4 L1063.9 409.5 L1065.5 410.7 L1067.1 411.9 L1068.7 413.1 L1070.3 414.4 L1071.8 415.6 L1073.4 416.9 L1074.9 418.3 L1076.4 419.6 L1077.8 421 L1079.2 422.5 L1080.4 424 L1081.6 425.6 L1082.7 427.2 L1083.8 428.9 L1084.8 430.7 L1085.9 432.4 L1086.9 434.1 L1087.9 435.9 L1088.8 437.6 L1089.8 439.4 L1090.7 441.2 L1091.6 443 L1092.5 444.7 L1093.4 446.5 L1094.3 448.3 L1095.2 450.2 L1096 452 L1096.8 453.8 L1097.5 455.7 L1098.2 457.5 L1098.9 459.4 L1099.5 461.3 L1100.1 463.2 L1100.8 465.1 L1101.4 467 L1102 468.9 L1102.7 470.8 L1103.3 472.7 L1103.9 474.6 L1104.5 476.5 L1105.1 478.5 L1105.7 480.4 L1106.2 482.3 L1106.7 484.2 L1107.2 486.2 L1107.7 488.1 L1108.2 490.1 L1108.7 492 L1109.3 493.9 L1109.8 495.9 L1110.4 497.8 L1110.9 499.7 L1111.4 501.7 L1111.8 503.6 L1112.2 505.6 L1112.6 507.5 L1113 509.5 L1113.3 511.5 L1113.6 513.4 L1114 515.4 L1114.3 517.4 L1114.6 519.4 L1115 521.3 L1115.3 523.3 L1115.6 525.3 L1115.9 527.3 L1116.2 529.3 L1116.5 531.2 L1116.8 533.2 L1117 535.2 L1117.3 537.2 L1117.6 539.2 L1117.9 541.2 L1118.1 543.1 L1118.4 545.1 L1118.7 547.1 L1119 549.1 L1119.3 551.1 L1119.6 553 L1120 555 L1120.4 557 L1120.8 558.9 L1121.3 560.9 L1121.8 562.8 L1122.2 564.8 L1122.6 566.7 L1122.9 568.7 L1123.2 570.7 L1123.6 572.6 L1123.9 574.6 L1124.2 576.6 L1124.5 578.6 L1124.8 580.6 L1125.1 582.5 L1125.4 584.5 L1125.7 586.5 L1125.9 588.5 L1126.1 590.5 L1126.3 592.5 L1126.4 594.5 L1126.6 596.5 L1126.7 598.5 L1126.8 600.5 L1126.9 602.5 L1127 604.5 L1127.1 606.5 L1127.2 608.5 L1127.3 610.5 L1127.4 612.5 L1127.6 614.5 L1127.7 616.5 L1127.9 618.4 L1128.1 620.4 L1128.4 622.4 L1128.6 624.4 L1128.9 626.4"/>
<path d="M414 573 L415.8 572.2 L417.6 571.3 L419.5 570.5 L421.3 569.6 L423.1 568.7 L424.8 567.8 L426.6 566.9 L428.4 566 L430.2 565 L431.9 564.1 L433.7 563.2 L435.5 562.2 L437.3 561.3 L439 560.4 L440.8 559.4 L442.6 558.5 L444.4 557.6 L446.1 556.7 L447.9 555.8 L449.7 554.9 L451.5 554 L453.3 553.1 L455.1 552.2 L456.9 551.3 L458.7 550.4 L460.5 549.5 L462.3 548.7 L464.1 547.8 L465.9 547 L467.7 546.1 L469.6 545.3 L471.4 544.5 L473.2 543.7 L475.1 542.9 L476.9 542.1 L478.8 541.4 L480.6 540.6 L482.5 539.8 L484.3 539.1 L486.2 538.3 L488 537.5 L489.9 536.8 L491.7 536 L493.5 535.2 L495.4 534.3 L497.2 533.5 L499 532.6 L500.8 531.7 L502.6 530.8 L504.4 529.9 L506.1 529 L507.9 528.1 L509.7 527.1 L511.4 526.2 L513.2 525.2 L515 524.3 L516.8 523.4 L518.6 522.6 L520.4 521.7 L522.2 520.8 L524 520 L525.8 519.2 L527.7 518.3 L529.5 517.5 L531.3 516.7 L533.2 515.9 L535 515.1 L536.8 514.3 L538.7 513.5 L540.5 512.8 L542.4 512 L544.2 511.2 L546.1 510.4 L547.9 509.7 L549.8 508.9 L551.6 508.2 L553.5 507.4 L555.4 506.7 L557.2 505.9 L559.1 505.2 L560.9 504.4 L562.8 503.7 L564.6 503 L566.5 502.2 L568.4 501.5 L570.2 500.7 L572.1 500 L573.9 499.2 L575.8 498.5 L577.6 497.7 L579.5 496.9 L581.4 496.2 L583.2 495.4 L585.1 494.7 L586.9 493.9 L588.8 493.2 L590.6 492.4 L592.5 491.7 L594.4 490.9 L596.2 490.2 L598.1 489.4 L599.9 488.7 L601.8 488 L603.6 487.2 L605.5 486.5 L607.4 485.7 L609.2 485 L611.1 484.2 L612.9 483.5 L614.8 482.7 L616.7 482 L618.5 481.3 L620.4 480.5 L622.2 479.8 L624.1 479 L626 478.3 L627.8 477.6 L629.7 476.8 L631.6 476.1 L633.4 475.3 L635.3 474.6 L637.1 473.9 L639 473.1 L640.9 472.4 L642.7 471.6 L644.6 470.9 L646.4 470.1 L648.3 469.4 L650.1 468.6 L652 467.8 L653.8 467.1 L655.7 466.3 L657.6 465.6 L659.4 464.8 L661.3 464.1 L663.1 463.3 L665 462.5 L666.8 461.8 L668.7 461 L670.5 460.3 L672.4 459.5 L674.3 458.8 L676.1 458.1 L678 457.3 L679.8 456.6 L681.7 455.9 L683.6 455.2 L685.5 454.4 L687.3 453.7 L689.2 453 L691.1 452.3 L693 451.6 L694.8 450.9 L696.7 450.3 L698.6 449.6 L700.5 448.9 L702.4 448.3 L704.3 447.6 L706.2 447 L708.1 446.4 L710 445.7 L711.9 445.1 L713.8 444.5 L715.7 443.9 L717.6 443.3 L719.5 442.7 L721.5 442.1 L723.4 441.5 L725.3 440.9 L727.2 440.3 L729.1 439.8 L731 439.2 L732.9 438.6 L734.9 438 L736.8 437.4 L738.7 436.8 L740.6 436.2 L742.5 435.6 L744.4 435 L746.3 434.4 L748.2 433.8 L750.1 433.2 L752 432.5 L753.9 431.9 L755.8 431.3 L757.7 430.6 L759.6 429.9 L761.5 429.3 L763.4 428.6 L765.3 427.9 L767.1 427.2 L769 426.4 L770.9 425.7 L772.7 425 L774.6 424.2 L776.4 423.4 L778.3 422.7 L780.1 421.9 L782 421.1 L783.8 420.3 L785.7 419.6 L787.5 418.8 L789.3 418 L791.2 417.2 L793 416.4 L794.9 415.6 L796.7 414.9 L798.6 414.1 L800.4 413.3 L802.3 412.5 L804.1 411.8 L806 411.1 L807.8 410.3 L809.7 409.6 L811.6 408.9 L813.5 408.2 L815.4 407.5 L817.2 406.9 L819.1 406.2 L821 405.6 L823 405 L824.9 404.4 L826.8 403.9 L828.7 403.3 L830.7 402.8 L832.6 402.3 L834.5 401.8 L836.5 401.3 L838.4 400.8 L840.4 400.3 L842.3 399.9 L844.3 399.4 L846.2 399 L848.2 398.6 L850.1 398.1 L852.1 397.7 L854.1 397.3 L856 396.9 L858 396.5 L860 396.2 L861.9 395.8 L863.9 395.4 L865.9 395 L867.8 394.6 L869.8 394.3 L871.8 393.9 L873.7 393.5 L875.7 393.2 L877.7 392.8 L879.6 392.4 L881.6 392.1 L883.6 391.7 L885.5 391.3 L887.5 390.9 L889.5 390.6 L891.4 390.2 L893.4 389.8 L895.4 389.4 L897.3 389 L899.3 388.5 L901.2 388.1 L903.2 387.7 L905.1 387.2 L907.1 386.7 L909 386.3 L911 385.8 L912.9 385.3 L914.9 384.8 L916.8 384.3 L918.7 383.7 L920.7 383.2 L922.6 382.7 L924.5 382.2 L926.5 381.6 L928.4 381.1 L930.3 380.6 L932.2 380 L934.2 379.5 L936.1 379 L938.1 378.5 L940 378 L941.9 377.5 L943.9 377 L945.8 376.5 L947.8 376.1 L949.7 375.6 L951.7 375.2 L953.6 374.7 L955.6 374.3 L957.5 373.9 L959.5 373.6 L961.5 373.2 L963.5 372.9 L965.4 372.6 L967.4 372.3 L969.4 372 L971.4 371.7 L973.4 371.4 L975.4 371.1 L977.3 370.8 L979.3 370.6 L981.3 370.3 L983.3 370 L985.3 369.8 L987.3 369.5 L989.2 369.3 L991.2 369 L993.2 368.8 L995.2 368.5 L997.2 368.5 L999.1 368.6 L1001.1 368.8 L1003 369 L1004.9 369.4 L1006.9 369.8 L1008.8 370.2 L1010.7 370.8 L1012.6 371.4 L1014.5 372 L1016.4 372.7 L1018.3 373.4 L1020.2 374.1 L1022.1 374.9 L1023.9 375.7 L1025.8 376.5 L1027.7 377.4 L1029.6 378.2 L1031.5 379.1 L1033.4 379.9 L1035.2 380.8 L1037.1 381.6 L1039 382.4 L1040.9 383.2 L1042.8 383.9 L1044.7 384.7 L1046.5 385.3 L1048.4 386 L1050.3 386.6 L1052.2 387.3 L1054.1 387.9 L1056 388.6 L1057.9 389.3 L1059.7 390.1 L1061.6 390.9 L1063.4 391.7 L1065.2 392.6 L1067 393.6 L1068.7 394.5 L1070.5 395.5 L1072.2 396.5 L1073.9 397.6 L1075.6 398.6 L1077.3 399.7 L1078.9 400.9 L1080.6 402 L1082.2 403.2 L1083.7 404.4 L1085.3 405.7 L1086.8 407 L1088.4 408.3 L1089.9 409.6 L1091.4 410.9 L1093 412.2 L1094.5 413.5 L1096 414.9 L1097.4 416.3 L1098.8 417.8 L1099.9 419.3 L1101.1 420.9 L1102.1 422.7 L1103.1 424.4 L1104 426.2 L1105 428 L1105.9 429.8 L1106.8 431.5 L1107.7 433.3 L1108.6 435.1 L1109.5 437 L1110.2 438.8 L1111 440.7 L1111.6 442.5 L1112.3 444.4 L1112.9 446.4 L1113.4 448.3 L1114 450.2 L1114.6 452.1 L1115.3 454 L1116 455.9 L1116.7 457.8 L1117.3 459.7 L1118 461.6 L1118.6 463.5 L1119.2 465.4 L1119.8 467.3 L1120.4 469.2 L1121 471.1 L1121.5 473 L1122 475 L1122.4 476.9 L1122.8 478.9 L1123.2 480.9 L1123.6 482.8 L1123.9 484.8 L1124.3 486.8 L1124.7 488.7 L1125.1 490.7 L1125.6 492.7 L1126 494.6 L1126.4 496.6 L1126.8 498.5 L1127.2 500.5 L1127.6 502.5 L1128 504.4 L1128.4 506.4 L1128.7 508.4 L1129.1 510.3 L1129.4 512.3 L1129.8 514.3 L1130.1 516.2 L1130.5 518.2 L1130.8 520.2 L1131.1 522.2 L1131.4 524.2 L1131.7 526.1 L1132 528.1 L1132.2 530.1 L1132.4 532.1 L1132.6 534.1 L1132.9 536.1 L1133.2 538.1 L1133.5 540 L1134 542 L1134.4 543.9 L1134.9 545.9 L1135.3 547.8 L1135.7 549.8 L1136 551.8 L1136.3 553.8 L1136.6 555.8 L1136.8 557.7 L1137.1 559.7 L1137.4 561.7 L1137.7 563.7 L1138 565.7 L1138.4 567.6 L1138.7 569.6 L1139.1 571.6 L1139.4 573.6 L1139.7 575.5 L1140 577.5 L1140.2 579.5 L1140.5 581.5 L1140.8 583.5 L1141 585.5 L1141.3 587.4 L1141.6 589.4 L1142 591.4 L1142.3 593.4 L1142.6 595.4 L1143 597.3 L1143.3 599.3"/>
<path d="M414 578 L415.8 577 L417.5 576.1 L419.3 575.1 L421 574.2 L422.8 573.2 L424.5 572.2 L426.3 571.3 L428 570.3 L429.8 569.3 L431.5 568.3 L433.3 567.4 L435 566.4 L436.8 565.4 L438.5 564.4 L440.2 563.5 L442 562.5 L443.7 561.5 L445.5 560.6 L447.2 559.6 L449 558.6 L450.8 557.7 L452.5 556.7 L454.3 555.8 L456 554.8 L457.8 553.8 L459.5 552.9 L461.3 552 L463.1 551 L464.8 550.1 L466.6 549.2 L468.4 548.2 L470.2 547.3 L472 546.4 L473.7 545.5 L475.5 544.6 L477.3 543.8 L479.1 542.9 L480.9 542 L482.7 541.2 L484.5 540.3 L486.4 539.4 L488.2 538.6 L490 537.7 L491.8 536.9 L493.6 536 L495.4 535.1 L497.2 534.2 L499 533.3 L500.7 532.4 L502.5 531.5 L504.3 530.6 L506 529.6 L507.8 528.7 L509.6 527.7 L511.3 526.8 L513.1 525.8 L514.8 524.9 L516.6 524 L518.4 523.1 L520.2 522.2 L522 521.3 L523.8 520.4 L525.6 519.5 L527.4 518.7 L529.2 517.8 L531 517 L532.8 516.2 L534.7 515.3 L536.5 514.5 L538.3 513.7 L540.1 512.9 L542 512.1 L543.8 511.3 L545.6 510.5 L547.5 509.7 L549.3 508.9 L551.2 508.2 L553 507.4 L554.9 506.6 L556.7 505.8 L558.6 505.1 L560.4 504.3 L562.3 503.6 L564.1 502.8 L566 502.1 L567.8 501.3 L569.7 500.5 L571.5 499.8 L573.4 499 L575.2 498.3 L577.1 497.5 L578.9 496.7 L580.8 496 L582.6 495.2 L584.5 494.5 L586.3 493.7 L588.2 493 L590 492.2 L591.9 491.4 L593.7 490.7 L595.6 489.9 L597.4 489.2 L599.3 488.4 L601.1 487.7 L603 487 L604.9 486.2 L606.7 485.5 L608.6 484.7 L610.4 484 L612.3 483.2 L614.1 482.5 L616 481.7 L617.9 481 L619.7 480.3 L621.6 479.5 L623.4 478.8 L625.3 478 L627.1 477.3 L629 476.6 L630.9 475.8 L632.7 475.1 L634.6 474.3 L636.4 473.6 L638.3 472.8 L640.1 472.1 L642 471.4 L643.9 470.6 L645.7 469.9 L647.6 469.1 L649.4 468.3 L651.3 467.6 L653.1 466.8 L655 466.1 L656.8 465.3 L658.7 464.6 L660.5 463.8 L662.4 463.1 L664.2 462.3 L666.1 461.5 L667.9 460.8 L669.8 460 L671.6 459.3 L673.5 458.6 L675.4 457.8 L677.2 457.1 L679.1 456.4 L680.9 455.6 L682.8 454.9 L684.7 454.2 L686.5 453.5 L688.4 452.8 L690.3 452.1 L692.2 451.4 L694 450.7 L695.9 450 L697.8 449.3 L699.7 448.7 L701.6 448 L703.5 447.4 L705.4 446.7 L707.3 446.1 L709.2 445.5 L711.1 444.8 L713 444.2 L714.9 443.6 L716.8 443 L718.7 442.4 L720.6 441.8 L722.5 441.2 L724.4 440.6 L726.3 440.1 L728.3 439.5 L730.2 438.9 L732.1 438.3 L734 437.7 L735.9 437.1 L737.8 436.5 L739.7 435.9 L741.6 435.3 L743.5 434.7 L745.4 434.1 L747.3 433.5 L749.3 432.9 L751.2 432.3 L753 431.6 L754.9 431 L756.8 430.4 L758.7 429.7 L760.6 429 L762.5 428.3 L764.4 427.7 L766.2 427 L768.1 426.2 L770 425.5 L771.8 424.8 L773.7 424 L775.5 423.3 L777.4 422.5 L779.2 421.7 L781.1 421 L782.9 420.2 L784.8 419.4 L786.6 418.6 L788.4 417.8 L790.3 417 L792.1 416.3 L794 415.5 L795.8 414.7 L797.6 413.9 L799.5 413.1 L801.3 412.4 L803.2 411.6 L805 410.8 L806.9 410.1 L808.7 409.3 L810.6 408.6 L812.5 407.9 L814.3 407.2 L816.2 406.5 L818.1 405.8 L820 405.1 L821.9 404.5 L823.8 403.9 L825.7 403.3 L827.6 402.7 L829.5 402.1 L831.4 401.6 L833.4 401 L835.3 400.5 L837.2 400 L839.2 399.5 L841.1 399 L843 398.5 L845 398 L846.9 397.6 L848.9 397.1 L850.8 396.7 L852.8 396.2 L854.7 395.8 L856.7 395.3 L858.6 394.9 L860.6 394.5 L862.5 394.1 L864.5 393.7 L866.5 393.3 L868.4 392.9 L870.4 392.5 L872.3 392.1 L874.3 391.7 L876.3 391.3 L878.2 390.9 L880.2 390.5 L882.1 390.1 L884.1 389.7 L886 389.3 L888 388.8 L890 388.4 L891.9 388 L893.9 387.6 L895.8 387.1 L897.8 386.7 L899.7 386.3 L901.7 385.8 L903.6 385.3 L905.6 384.8 L907.5 384.4 L909.4 383.8 L911.4 383.3 L913.3 382.8 L915.2 382.3 L917.2 381.7 L919.1 381.2 L921 380.7 L922.9 380.1 L924.8 379.6 L926.8 379 L928.7 378.5 L930.6 377.9 L932.5 377.4 L934.5 376.8 L936.4 376.3 L938.3 375.8 L940.3 375.3 L942.2 374.8 L944.1 374.3 L946.1 373.8 L948 373.3 L950 372.8 L951.9 372.4 L953.9 372 L955.8 371.5 L957.8 371.2 L959.7 370.8 L961.7 370.4 L963.7 370.1 L965.7 369.8 L967.6 369.5 L969.6 369.2 L971.6 368.9 L973.6 368.6 L975.6 368.4 L977.5 368.1 L979.5 367.8 L981.5 367.6 L983.5 367.3 L985.5 367.1 L987.5 366.8 L989.5 366.6 L991.4 366.4 L993.4 366.1 L995.4 365.9 L997.4 365.7 L999.4 365.6 L1001.4 365.4 L1003.4 365.2 L1005.4 365 L1007.4 364.8 L1009.4 364.7 L1011.3 364.7 L1013.3 364.9 L1015.2 365.1 L1017.2 365.4 L1019.1 365.8 L1021 366.2 L1022.9 366.8 L1024.8 367.4 L1026.7 368 L1028.6 368.7 L1030.5 369.4 L1032.4 370.2 L1034.3 371 L1036.2 371.8 L1038.1 372.6 L1040 373.3 L1041.9 374.1 L1043.8 374.9 L1045.7 375.6 L1047.6 376.3 L1049.5 377 L1051.4 377.6 L1053.3 378.2 L1055.3 378.7 L1057.2 379.2 L1059.2 379.6 L1061.1 380 L1063.1 380.5 L1065 381 L1066.9 381.7 L1068.7 382.4 L1070.6 383.1 L1072.4 384 L1074.2 384.8 L1076 385.7 L1077.8 386.6 L1079.6 387.5 L1081.4 388.5 L1083.1 389.4 L1084.9 390.4 L1086.6 391.5 L1088.2 392.6 L1089.9 393.7 L1091.5 394.8 L1093.1 396 L1094.7 397.3 L1096.3 398.5 L1097.8 399.8 L1099.3 401.1 L1100.8 402.5 L1102.3 403.8 L1103.7 405.2 L1105.2 406.6 L1106.5 408 L1107.9 409.5 L1109.2 411 L1110.5 412.6 L1111.7 414.1 L1113 415.7 L1114.1 417.3 L1115.3 419 L1116.4 420.6 L1117.4 422.3 L1118.5 424 L1119.5 425.8 L1120.5 427.5 L1121.5 429.3 L1122.4 431 L1123.3 432.8 L1124.2 434.6 L1125.1 436.4 L1126 438.2 L1126.9 440 L1127.8 441.8 L1128.7 443.6 L1129.6 445.4 L1130.4 447.2 L1131.2 449 L1131.9 450.8 L1132.6 452.7 L1133.3 454.6 L1133.9 456.5 L1134.4 458.4 L1135 460.4 L1135.5 462.3 L1136 464.2 L1136.5 466.2 L1137 468.1 L1137.4 470.1 L1137.8 472 L1138.2 474 L1138.6 476 L1139 477.9 L1139.3 479.9 L1139.6 481.9 L1139.9 483.9 L1140.2 485.8 L1140.6 487.8 L1140.9 489.8 L1141.2 491.7 L1141.6 493.7 L1142 495.7 L1142.3 497.6 L1142.7 499.6 L1143 501.6 L1143.3 503.6 L1143.7 505.5 L1144 507.5 L1144.3 509.5 L1144.7 511.4 L1145 513.4 L1145.4 515.4 L1145.7 517.4 L1146 519.3 L1146.4 521.3 L1146.7 523.3 L1147.1 525.2 L1147.4 527.2 L1147.7 529.2 L1148.1 531.2 L1148.4 533.1 L1148.7 535.1 L1149 537.1 L1149.3 539.1 L1149.6 541 L1149.8 543 L1150.1 545 L1150.4 547 L1150.6 549 L1150.9 550.9 L1151.3 552.9 L1151.6 554.9 L1151.9 556.9 L1152.2 558.8 L1152.6 560.8 L1152.9 562.8 L1153.3 564.8 L1153.6 566.7 L1154 568.7 L1154.3 570.7 L1154.6 572.6 L1154.9 574.6 L1155.2 576.6 L1155.5 578.6 L1155.8 580.6 L1156.1 582.5 L1156.3 584.5 L1156.6 586.5"/>
<path d="M414 584 L415.7 583 L417.5 582 L419.2 581 L420.9 580 L422.7 579 L424.4 578 L426.1 577 L427.9 576 L429.6 575 L431.3 574 L433.1 573 L434.8 572 L436.5 571 L438.3 570 L440 569 L441.7 568 L443.5 567 L445.2 566 L446.9 565 L448.7 564 L450.4 563 L452.1 562 L453.9 561 L455.6 560 L457.3 559.1 L459.1 558.1 L460.8 557.1 L462.5 556.1 L464.3 555.1 L466 554.1 L467.8 553.1 L469.5 552.1 L471.3 551.2 L473 550.2 L474.7 549.2 L476.5 548.2 L478.2 547.3 L480 546.3 L481.8 545.3 L483.5 544.4 L485.3 543.4 L487 542.5 L488.8 541.5 L490.5 540.6 L492.3 539.6 L494.1 538.7 L495.8 537.7 L497.6 536.8 L499.3 535.8 L501.1 534.8 L502.8 533.9 L504.6 532.9 L506.3 531.9 L508.1 530.9 L509.8 529.9 L511.5 529 L513.3 528 L515 527 L516.8 526.1 L518.5 525.1 L520.3 524.1 L522.1 523.2 L523.8 522.3 L525.6 521.3 L527.4 520.4 L529.2 519.5 L530.9 518.6 L532.7 517.7 L534.5 516.8 L536.3 515.9 L538.1 515 L539.9 514.1 L541.7 513.2 L543.5 512.4 L545.3 511.5 L547.1 510.6 L548.9 509.8 L550.7 509 L552.5 508.1 L554.4 507.3 L556.2 506.5 L558 505.6 L559.8 504.8 L561.7 504 L563.5 503.2 L565.3 502.4 L567.2 501.6 L569 500.8 L570.8 500 L572.7 499.2 L574.5 498.5 L576.3 497.7 L578.2 496.9 L580 496.1 L581.9 495.3 L583.7 494.5 L585.6 493.8 L587.4 493 L589.2 492.2 L591.1 491.4 L592.9 490.7 L594.8 489.9 L596.6 489.1 L598.5 488.4 L600.3 487.6 L602.2 486.9 L604 486.1 L605.9 485.4 L607.7 484.6 L609.6 483.9 L611.4 483.1 L613.3 482.4 L615.2 481.6 L617 480.9 L618.9 480.1 L620.7 479.4 L622.6 478.6 L624.4 477.9 L626.3 477.1 L628.1 476.4 L630 475.6 L631.9 474.9 L633.7 474.2 L635.6 473.4 L637.4 472.7 L639.3 471.9 L641.1 471.2 L643 470.4 L644.9 469.7 L646.7 468.9 L648.6 468.2 L650.4 467.4 L652.3 466.6 L654.1 465.9 L656 465.1 L657.8 464.4 L659.7 463.6 L661.5 462.9 L663.4 462.1 L665.2 461.4 L667.1 460.6 L668.9 459.9 L670.8 459.1 L672.6 458.4 L674.5 457.6 L676.4 456.9 L678.2 456.1 L680.1 455.4 L681.9 454.7 L683.8 454 L685.7 453.3 L687.5 452.5 L689.4 451.8 L691.3 451.1 L693.2 450.4 L695 449.8 L696.9 449.1 L698.8 448.4 L700.7 447.8 L702.6 447.1 L704.5 446.5 L706.4 445.8 L708.3 445.2 L710.2 444.6 L712.1 444 L714 443.4 L715.9 442.7 L717.8 442.2 L719.7 441.6 L721.6 441 L723.5 440.4 L725.4 439.8 L727.4 439.2 L729.3 438.6 L731.2 438 L733.1 437.4 L735 436.9 L736.9 436.3 L738.8 435.7 L740.7 435.1 L742.6 434.5 L744.6 433.9 L746.5 433.3 L748.4 432.6 L750.3 432 L752.2 431.4 L754.1 430.8 L756 430.1 L757.8 429.5 L759.7 428.8 L761.6 428.1 L763.5 427.4 L765.4 426.7 L767.2 426 L769.1 425.3 L771 424.6 L772.8 423.8 L774.7 423.1 L776.5 422.3 L778.4 421.5 L780.2 420.8 L782.1 420 L783.9 419.2 L785.7 418.4 L787.6 417.6 L789.4 416.9 L791.3 416.1 L793.1 415.3 L794.9 414.5 L796.8 413.7 L798.6 412.9 L800.5 412.2 L802.3 411.4 L804.2 410.6 L806 409.9 L807.9 409.1 L809.7 408.4 L811.6 407.7 L813.5 406.9 L815.3 406.2 L817.2 405.6 L819.1 404.9 L821 404.2 L822.9 403.6 L824.8 402.9 L826.7 402.3 L828.6 401.7 L830.5 401.1 L832.4 400.6 L834.3 400 L836.3 399.5 L838.2 399 L840.1 398.4 L842 397.9 L844 397.4 L845.9 396.9 L847.9 396.4 L849.8 396 L851.8 395.5 L853.7 395 L855.6 394.6 L857.6 394.1 L859.5 393.7 L861.5 393.3 L863.4 392.8 L865.4 392.4 L867.4 392 L869.3 391.5 L871.3 391.1 L873.2 390.7 L875.2 390.3 L877.1 389.8 L879.1 389.4 L881 389 L883 388.6 L884.9 388.1 L886.9 387.7 L888.8 387.3 L890.8 386.8 L892.7 386.4 L894.7 385.9 L896.6 385.5 L898.6 385 L900.5 384.5 L902.5 384 L904.4 383.5 L906.3 383 L908.3 382.5 L910.2 382 L912.1 381.4 L914.1 380.9 L916 380.3 L917.9 379.8 L919.8 379.2 L921.7 378.7 L923.7 378.1 L925.6 377.5 L927.5 377 L929.4 376.4 L931.3 375.8 L933.3 375.3 L935.2 374.7 L937.1 374.2 L939 373.7 L941 373.1 L942.9 372.6 L944.8 372.1 L946.8 371.6 L948.7 371.1 L950.6 370.6 L952.6 370.2 L954.5 369.8 L956.5 369.3 L958.5 369 L960.4 368.6 L962.4 368.2 L964.4 367.9 L966.3 367.6 L968.3 367.3 L970.3 367 L972.3 366.7 L974.3 366.4 L976.2 366.1 L978.2 365.9 L980.2 365.6 L982.2 365.3 L984.2 365.1 L986.2 364.8 L988.1 364.6 L990.1 364.4 L992.1 364.2 L994.1 364 L996.1 363.8 L998.1 363.6 L1000.1 363.4 L1002.1 363.2 L1004.1 363.1 L1006.1 362.9 L1008.1 362.8 L1010.1 362.6 L1012.1 362.5 L1014 362.4 L1016 362.2 L1018.1 362.1 L1020 362 L1022 361.9 L1024 361.9 L1026 362.1 L1027.9 362.3 L1029.9 362.6 L1031.8 363 L1033.8 363.4 L1035.7 363.9 L1037.7 364.5 L1039.6 365 L1041.6 365.6 L1043.5 366.2 L1045.4 366.9 L1047.4 367.5 L1049.3 368.1 L1051.2 368.8 L1053.1 369.4 L1055.1 369.9 L1057 370.5 L1058.9 371 L1060.9 371.6 L1062.8 372.1 L1064.7 372.7 L1066.6 373.3 L1068.5 373.9 L1070.4 374.5 L1072.3 375.2 L1074.2 375.8 L1076.1 376.5 L1077.9 377.3 L1079.8 378 L1081.6 378.8 L1083.4 379.7 L1085.2 380.6 L1087 381.5 L1088.8 382.4 L1090.5 383.3 L1092.3 384.2 L1094.1 385.1 L1096 385.9 L1097.8 386.8 L1099.6 387.7 L1101.3 388.6 L1103 389.6 L1104.7 390.7 L1106.3 391.9 L1107.9 393.1 L1109.5 394.4 L1111 395.7 L1112.5 397 L1114 398.3 L1115.5 399.7 L1116.9 401.1 L1118.3 402.5 L1119.7 404 L1121 405.5 L1122.3 407 L1123.6 408.5 L1124.8 410.1 L1126 411.7 L1127.2 413.3 L1128.4 415 L1129.5 416.6 L1130.6 418.3 L1131.6 420 L1132.6 421.7 L1133.6 423.5 L1134.5 425.3 L1135.4 427 L1136.2 428.9 L1137 430.7 L1137.8 432.6 L1138.5 434.4 L1139.3 436.3 L1140 438.1 L1140.8 440 L1141.6 441.8 L1142.4 443.6 L1143.2 445.5 L1144 447.3 L1144.7 449.2 L1145.5 451 L1146.3 452.9 L1147 454.7 L1147.7 456.6 L1148.4 458.5 L1149 460.4 L1149.5 462.3 L1150 464.3 L1150.4 466.2 L1150.9 468.2 L1151.3 470.1 L1151.7 472.1 L1152.1 474.1 L1152.4 476 L1152.7 478 L1153 480 L1153.3 482 L1153.7 483.9 L1154.1 485.9 L1154.5 487.8 L1155 489.8 L1155.5 491.7 L1156 493.6 L1156.5 495.6 L1157 497.5 L1157.4 499.5 L1157.9 501.4 L1158.3 503.4 L1158.8 505.3 L1159.2 507.3 L1159.7 509.2 L1160.1 511.2 L1160.6 513.1 L1161 515.1 L1161.5 517 L1161.9 519 L1162.3 520.9 L1162.6 522.9 L1163 524.9 L1163.3 526.9 L1163.6 528.8 L1163.8 530.8 L1164.1 532.8 L1164.2 534.8 L1164.4 536.8 L1164.5 538.8 L1164.6 540.8 L1164.8 542.8 L1164.9 544.8 L1165 546.8 L1165.2 548.8 L1165.5 550.7 L1165.7 552.7 L1165.9 554.7 L1166.2 556.7 L1166.5 558.7 L1166.7 560.7 L1167 562.6 L1167.3 564.6 L1167.6 566.6 L1167.9 568.6 L1168.2 570.6 L1168.4 572.5 L1168.7 574.5 L1168.9 576.5 L1169.1 578.5 L1169.3 580.5"/>
<path d="M414.3 592 L416 591 L417.7 590 L419.5 589 L421.2 587.9 L422.9 586.9 L424.6 585.9 L426.4 584.9 L428.1 583.9 L429.8 582.9 L431.5 581.8 L433.3 580.8 L435 579.8 L436.7 578.8 L438.4 577.8 L440.2 576.8 L441.9 575.7 L443.6 574.7 L445.3 573.7 L447.1 572.7 L448.8 571.7 L450.5 570.7 L452.2 569.6 L454 568.6 L455.7 567.6 L457.4 566.6 L459.1 565.6 L460.9 564.6 L462.6 563.5 L464.3 562.5 L466 561.5 L467.8 560.5 L469.5 559.5 L471.2 558.5 L472.9 557.5 L474.7 556.4 L476.4 555.4 L478.1 554.4 L479.9 553.4 L481.6 552.4 L483.3 551.4 L485 550.4 L486.8 549.4 L488.5 548.4 L490.2 547.4 L492 546.3 L493.7 545.3 L495.4 544.3 L497.1 543.3 L498.9 542.3 L500.6 541.3 L502.3 540.3 L504.1 539.3 L505.8 538.3 L507.5 537.3 L509.2 536.2 L511 535.2 L512.7 534.2 L514.4 533.2 L516.1 532.2 L517.9 531.2 L519.6 530.2 L521.3 529.2 L523.1 528.2 L524.8 527.2 L526.5 526.2 L528.3 525.2 L530 524.2 L531.7 523.2 L533.5 522.2 L535.2 521.2 L537 520.2 L538.7 519.2 L540.5 518.3 L542.2 517.3 L543.9 516.3 L545.7 515.3 L547.4 514.4 L549.2 513.4 L551 512.4 L552.7 511.5 L554.5 510.5 L556.2 509.6 L558 508.6 L559.8 507.7 L561.5 506.8 L563.3 505.8 L565.1 504.9 L566.9 504 L568.7 503.1 L570.4 502.2 L572.2 501.3 L574 500.4 L575.8 499.5 L577.6 498.6 L579.4 497.7 L581.2 496.8 L583 496 L584.8 495.1 L586.6 494.2 L588.4 493.4 L590.2 492.5 L592.1 491.7 L593.9 490.9 L595.7 490 L597.5 489.2 L599.3 488.4 L601.2 487.6 L603 486.8 L604.8 486 L606.7 485.2 L608.5 484.4 L610.4 483.6 L612.2 482.8 L614 482 L615.9 481.2 L617.7 480.4 L619.6 479.7 L621.4 478.9 L623.3 478.1 L625.1 477.3 L627 476.6 L628.8 475.8 L630.7 475.1 L632.5 474.3 L634.4 473.5 L636.2 472.8 L638.1 472 L639.9 471.3 L641.8 470.5 L643.6 469.7 L645.5 469 L647.3 468.2 L649.2 467.5 L651 466.7 L652.9 465.9 L654.7 465.2 L656.6 464.4 L658.4 463.6 L660.3 462.9 L662.1 462.1 L664 461.4 L665.8 460.6 L667.7 459.8 L669.5 459.1 L671.4 458.3 L673.3 457.6 L675.1 456.9 L677 456.1 L678.8 455.4 L680.7 454.6 L682.6 453.9 L684.4 453.2 L686.3 452.5 L688.2 451.8 L690 451.1 L691.9 450.4 L693.8 449.7 L695.7 449 L697.6 448.3 L699.5 447.7 L701.3 447 L703.2 446.3 L705.1 445.7 L707 445.1 L708.9 444.4 L710.8 443.8 L712.7 443.2 L714.7 442.6 L716.6 442 L718.5 441.4 L720.4 440.8 L722.3 440.2 L724.2 439.6 L726.1 439 L728 438.4 L729.9 437.9 L731.9 437.3 L733.8 436.7 L735.7 436.1 L737.6 435.5 L739.5 434.9 L741.4 434.3 L743.3 433.7 L745.2 433.1 L747.1 432.5 L749 431.9 L751 431.2 L752.9 430.6 L754.7 430 L756.6 429.3 L758.5 428.7 L760.4 428 L762.3 427.3 L764.2 426.6 L766.1 425.9 L767.9 425.2 L769.8 424.5 L771.6 423.7 L773.5 423 L775.4 422.2 L777.2 421.5 L779.1 420.7 L780.9 419.9 L782.7 419.1 L784.6 418.4 L786.4 417.6 L788.3 416.8 L790.1 416 L792 415.2 L793.8 414.4 L795.6 413.7 L797.5 412.9 L799.3 412.1 L801.2 411.3 L803 410.6 L804.9 409.8 L806.7 409 L808.6 408.3 L810.4 407.6 L812.3 406.8 L814.2 406.1 L816.1 405.4 L817.9 404.7 L819.8 404.1 L821.7 403.4 L823.6 402.8 L825.5 402.1 L827.4 401.5 L829.3 400.9 L831.2 400.3 L833.2 399.8 L835.1 399.2 L837 398.7 L838.9 398.1 L840.9 397.6 L842.8 397.1 L844.7 396.6 L846.7 396 L848.6 395.6 L850.6 395.1 L852.5 394.6 L854.4 394.1 L856.4 393.6 L858.3 393.2 L860.3 392.7 L862.2 392.3 L864.2 391.8 L866.1 391.3 L868.1 390.9 L870 390.5 L872 390 L873.9 389.6 L875.9 389.1 L877.8 388.7 L879.8 388.2 L881.7 387.8 L883.7 387.3 L885.6 386.9 L887.6 386.4 L889.5 386 L891.5 385.5 L893.4 385 L895.4 384.6 L897.3 384.1 L899.3 383.6 L901.2 383.1 L903.1 382.6 L905.1 382.1 L907 381.5 L908.9 381 L910.8 380.4 L912.8 379.9 L914.7 379.3 L916.6 378.7 L918.5 378.1 L920.4 377.6 L922.3 377 L924.3 376.4 L926.2 375.8 L928.1 375.2 L930 374.6 L931.9 374.1 L933.8 373.5 L935.8 372.9 L937.7 372.4 L939.6 371.8 L941.5 371.2 L943.5 370.7 L945.4 370.2 L947.3 369.7 L949.3 369.2 L951.2 368.7 L953.2 368.2 L955.1 367.8 L957.1 367.4 L959 367 L961 366.6 L963 366.2 L964.9 365.9 L966.9 365.5 L968.9 365.2 L970.9 364.9 L972.8 364.6 L974.8 364.4 L976.8 364.1 L978.8 363.8 L980.8 363.5 L982.8 363.2 L984.7 363 L986.7 362.7 L988.7 362.5 L990.7 362.3 L992.7 362 L994.7 361.8 L996.7 361.6 L998.7 361.5 L1000.7 361.3 L1002.7 361.1 L1004.7 360.9 L1006.6 360.8 L1008.6 360.7 L1010.6 360.6 L1012.6 360.4 L1014.6 360.3 L1016.6 360.2 L1018.6 360.1 L1020.6 359.9 L1022.6 359.8 L1024.6 359.7 L1026.6 359.6 L1028.6 359.6 L1030.7 359.5 L1032.6 359.4 L1034.6 359.5 L1036.6 359.7 L1038.5 360.1 L1040.4 360.5 L1042.4 361.1 L1044.3 361.7 L1046.2 362.4 L1048.1 363 L1050.1 363.7 L1052 364.4 L1053.9 365 L1055.9 365.5 L1057.8 366 L1059.8 366.3 L1061.8 366.6 L1063.8 366.9 L1065.7 367.1 L1067.7 367.3 L1069.7 367.6 L1071.7 368 L1073.6 368.4 L1075.6 368.8 L1077.5 369.3 L1079.5 369.9 L1081.4 370.4 L1083.3 371 L1085.2 371.5 L1087.2 372.1 L1089.1 372.6 L1091 373.2 L1092.9 373.9 L1094.8 374.5 L1096.6 375.3 L1098.5 376.1 L1100.3 376.9 L1102.1 377.8 L1103.9 378.7 L1105.6 379.7 L1107.4 380.6 L1109.2 381.5 L1110.9 382.5 L1112.7 383.5 L1114.4 384.6 L1116.1 385.6 L1117.7 386.7 L1119.4 387.9 L1121 389 L1122.6 390.2 L1124.2 391.5 L1125.7 392.8 L1127.2 394.1 L1128.7 395.4 L1130.2 396.8 L1131.6 398.2 L1133 399.6 L1134.4 401.1 L1135.7 402.6 L1136.9 404.2 L1138.1 405.8 L1139.3 407.4 L1140.4 409.1 L1141.5 410.7 L1142.6 412.4 L1143.7 414.1 L1144.7 415.8 L1145.7 417.6 L1146.7 419.3 L1147.6 421.1 L1148.5 422.9 L1149.4 424.7 L1150.3 426.5 L1151.1 428.3 L1152 430.1 L1152.8 432 L1153.5 433.8 L1154.3 435.7 L1155 437.5 L1155.7 439.4 L1156.4 441.3 L1157.1 443.1 L1157.8 445 L1158.4 446.9 L1159 448.8 L1159.6 450.7 L1160.2 452.7 L1160.8 454.6 L1161.3 456.5 L1161.8 458.5 L1162.3 460.4 L1162.7 462.3 L1163.2 464.3 L1163.6 466.3 L1164 468.2 L1164.4 470.2 L1164.8 472.1 L1165.2 474.1 L1165.6 476.1 L1166 478 L1166.5 480 L1166.8 481.9 L1167.2 483.9 L1167.6 485.9 L1167.9 487.8 L1168.2 489.8 L1168.6 491.8 L1168.9 493.8 L1169.2 495.7 L1169.6 497.7 L1169.9 499.7 L1170.3 501.7 L1170.7 503.6 L1171 505.6 L1171.4 507.6 L1171.7 509.5 L1172.1 511.5 L1172.4 513.5 L1172.7 515.5 L1173.1 517.4 L1173.4 519.4 L1173.7 521.4 L1174.1 523.3 L1174.4 525.3 L1174.8 527.3 L1175.1 529.3 L1175.5 531.2 L1175.8 533.2 L1176.1 535.2 L1176.5 537.2 L1176.9 539.1 L1177.2 541.1 L1177.5 543.1 L1177.8 545.1 L1178 547 L1178.3 549 L1178.5 551 L1178.7 553 L1178.9 555"/>
<path d="M414.3 602.3 L416 601.3 L417.7 600.2 L419.5 599.2 L421.2 598.2 L422.9 597.1 L424.6 596.1 L426.3 595.1 L428 594.1 L429.8 593 L431.5 592 L433.2 591 L434.9 589.9 L436.6 588.9 L438.4 587.9 L440.1 586.8 L441.8 585.8 L443.5 584.8 L445.2 583.7 L446.9 582.7 L448.7 581.7 L450.4 580.7 L452.1 579.6 L453.8 578.6 L455.5 577.6 L457.2 576.5 L459 575.5 L460.7 574.5 L462.4 573.4 L464.1 572.4 L465.8 571.4 L467.6 570.3 L469.3 569.3 L471 568.3 L472.7 567.3 L474.4 566.2 L476.1 565.2 L477.9 564.2 L479.6 563.1 L481.3 562.1 L483 561.1 L484.7 560 L486.5 559 L488.2 558 L489.9 557 L491.6 555.9 L493.3 554.9 L495 553.9 L496.8 552.8 L498.5 551.8 L500.2 550.8 L501.9 549.7 L503.6 548.7 L505.4 547.7 L507.1 546.7 L508.8 545.6 L510.5 544.6 L512.2 543.6 L514 542.5 L515.7 541.5 L517.4 540.5 L519.1 539.4 L520.8 538.4 L522.5 537.4 L524.3 536.4 L526 535.3 L527.7 534.3 L529.4 533.3 L531.1 532.2 L532.9 531.2 L534.6 530.2 L536.3 529.2 L538 528.1 L539.7 527.1 L541.5 526.1 L543.2 525 L544.9 524 L546.6 523 L548.3 522 L550.1 520.9 L551.8 519.9 L553.5 518.9 L555.2 517.9 L557 516.9 L558.7 515.8 L560.4 514.8 L562.1 513.8 L563.9 512.8 L565.6 511.8 L567.3 510.7 L569 509.7 L570.8 508.7 L572.5 507.7 L574.2 506.7 L576 505.7 L577.7 504.7 L579.4 503.7 L581.2 502.7 L582.9 501.7 L584.6 500.7 L586.4 499.7 L588.1 498.7 L589.8 497.7 L591.6 496.7 L593.3 495.7 L595.1 494.7 L596.8 493.8 L598.6 492.8 L600.3 491.8 L602.1 490.9 L603.9 489.9 L605.6 489 L607.4 488 L609.1 487.1 L610.9 486.1 L612.7 485.2 L614.5 484.3 L616.3 483.4 L618 482.4 L619.8 481.5 L621.6 480.6 L623.4 479.7 L625.2 478.9 L627 478 L628.8 477.1 L630.6 476.2 L632.4 475.4 L634.2 474.5 L636.1 473.7 L637.9 472.8 L639.7 472 L641.5 471.2 L643.3 470.3 L645.2 469.5 L647 468.7 L648.8 467.9 L650.6 467.1 L652.5 466.2 L654.3 465.4 L656.1 464.6 L658 463.8 L659.8 463 L661.7 462.2 L663.5 461.4 L665.3 460.6 L667.2 459.9 L669 459.1 L670.9 458.3 L672.7 457.5 L674.6 456.8 L676.4 456 L678.3 455.3 L680.1 454.5 L682 453.8 L683.9 453 L685.7 452.3 L687.6 451.6 L689.5 450.8 L691.3 450.1 L693.2 449.4 L695.1 448.7 L697 448.1 L698.9 447.4 L700.7 446.7 L702.6 446 L704.5 445.4 L706.4 444.8 L708.3 444.1 L710.2 443.5 L712.1 442.9 L714.1 442.3 L716 441.7 L717.9 441.1 L719.8 440.5 L721.7 439.9 L723.6 439.3 L725.5 438.7 L727.4 438.1 L729.4 437.5 L731.3 436.9 L733.2 436.3 L735.1 435.7 L737 435.1 L738.9 434.5 L740.8 433.9 L742.7 433.3 L744.7 432.7 L746.6 432.1 L748.5 431.5 L750.4 430.9 L752.3 430.3 L754.2 429.6 L756.1 429 L758 428.3 L759.9 427.6 L761.7 427 L763.6 426.3 L765.5 425.6 L767.4 424.9 L769.2 424.1 L771.1 423.4 L773 422.7 L774.8 421.9 L776.7 421.1 L778.5 420.4 L780.4 419.6 L782.2 418.8 L784.1 418 L785.9 417.3 L787.7 416.5 L789.6 415.7 L791.4 414.9 L793.3 414.1 L795.1 413.3 L797 412.5 L798.8 411.8 L800.7 411 L802.5 410.2 L804.4 409.5 L806.2 408.7 L808.1 408 L809.9 407.2 L811.8 406.5 L813.7 405.8 L815.5 405.1 L817.4 404.4 L819.3 403.7 L821.2 403 L823.1 402.4 L825 401.7 L826.9 401.1 L828.8 400.5 L830.7 399.9 L832.7 399.4 L834.6 398.8 L836.5 398.2 L838.4 397.7 L840.4 397.2 L842.3 396.6 L844.2 396.1 L846.2 395.6 L848.1 395.1 L850 394.6 L852 394.1 L853.9 393.6 L855.9 393.1 L857.8 392.7 L859.8 392.2 L861.7 391.7 L863.7 391.2 L865.6 390.8 L867.6 390.3 L869.5 389.9 L871.5 389.4 L873.4 389 L875.4 388.5 L877.3 388 L879.3 387.6 L881.2 387.1 L883.2 386.7 L885.1 386.2 L887.1 385.7 L889 385.3 L890.9 384.8 L892.9 384.3 L894.8 383.8 L896.8 383.3 L898.7 382.8 L900.7 382.3 L902.6 381.8 L904.5 381.2 L906.4 380.7 L908.4 380.1 L910.3 379.6 L912.2 379 L914.1 378.4 L916 377.8 L918 377.3 L919.9 376.7 L921.8 376.1 L923.7 375.5 L925.6 374.9 L927.5 374.3 L929.4 373.7 L931.3 373.1 L933.3 372.5 L935.2 371.9 L937.1 371.3 L939 370.8 L940.9 370.2 L942.9 369.6 L944.8 369.1 L946.7 368.6 L948.7 368.1 L950.6 367.6 L952.6 367.1 L954.5 366.6 L956.5 366.2 L958.4 365.8 L960.4 365.4 L962.3 365 L964.3 364.6 L966.3 364.3 L968.3 363.9 L970.2 363.6 L972.2 363.3 L974.2 363 L976.2 362.7 L978.2 362.4 L980.2 362.1 L982.1 361.9 L984.1 361.6 L986.1 361.3 L988.1 361.1 L990.1 360.8 L992.1 360.6 L994.1 360.4 L996.1 360.2 L998.1 360 L1000 359.8 L1002 359.6 L1004 359.5 L1006 359.3 L1008 359.2 L1010 359.1 L1012 358.9 L1014 358.8 L1016 358.7 L1018 358.6 L1020 358.4 L1022 358.3 L1024 358.2 L1026 358.2 L1028 358.1 L1030 358 L1032 357.9 L1034 357.9 L1036.1 357.9 L1038.1 358 L1040.1 358 L1042.1 358.1 L1044.1 358.2 L1046.1 358.2 L1048.1 358.3 L1050.1 358.5 L1052.1 358.6 L1054.1 358.8 L1056.1 358.9 L1058.1 359.1 L1060.1 359.4 L1062.1 359.6 L1064.1 359.8 L1066.1 360.1 L1068 360.4 L1070 360.6 L1072 361 L1073.9 361.4 L1075.8 362 L1077.7 362.6 L1079.7 363.2 L1081.6 363.9 L1083.5 364.5 L1085.4 365.2 L1087.2 365.9 L1089.1 366.6 L1091 367.3 L1092.9 368 L1094.8 368.6 L1096.7 369.3 L1098.6 369.9 L1100.5 370.5 L1102.4 371.1 L1104.3 371.7 L1106.2 372.4 L1108.1 373.1 L1110 373.7 L1111.8 374.4 L1113.7 375.2 L1115.6 375.9 L1117.4 376.7 L1119.2 377.6 L1121 378.5 L1122.7 379.5 L1124.4 380.5 L1126.2 381.6 L1127.8 382.7 L1129.5 383.8 L1131.1 385 L1132.6 386.3 L1134.2 387.5 L1135.7 388.9 L1137.2 390.2 L1138.7 391.5 L1140.1 392.9 L1141.5 394.4 L1142.9 395.8 L1144.2 397.3 L1145.6 398.9 L1146.8 400.4 L1148.1 401.9 L1149.3 403.5 L1150.5 405.2 L1151.7 406.8 L1152.8 408.5 L1153.9 410.1 L1154.9 411.9 L1155.9 413.6 L1156.8 415.4 L1157.7 417.2 L1158.6 418.9 L1159.6 420.7 L1160.5 422.5 L1161.4 424.3 L1162.3 426.1 L1163.2 427.8 L1164.1 429.6 L1165 431.4 L1165.8 433.3 L1166.7 435.1 L1167.5 436.9 L1168.3 438.8 L1169.1 440.6 L1169.8 442.5 L1170.4 444.4 L1170.9 446.3 L1171.4 448.3 L1171.8 450.2 L1172.2 452.2 L1172.6 454.2 L1173.1 456.1 L1173.5 458.1 L1173.9 460 L1174.2 462 L1174.6 464 L1175 465.9 L1175.5 467.9 L1176 469.8 L1176.6 471.7 L1177.2 473.6 L1177.9 475.5 L1178.5 477.4 L1179.1 479.3 L1179.7 481.3 L1180.2 483.2 L1180.7 485.1 L1181.3 487.1 L1181.7 489 L1182.2 491 L1182.6 492.9 L1183 494.9 L1183.3 496.9 L1183.7 498.8 L1184 500.8 L1184.3 502.8 L1184.6 504.8 L1184.9 506.8 L1185.1 508.8 L1185.4 510.7 L1185.7 512.7 L1185.9 514.7 L1186.2 516.7 L1186.6 518.7 L1186.9 520.6 L1187.3 522.6 L1187.7 524.6 L1188.1 526.5 L1188.5 528.5"/>
<path d="M414.3 614.8 L416 613.8 L417.7 612.7 L419.4 611.7 L421.2 610.7 L422.9 609.7 L424.6 608.6 L426.3 607.6 L428 606.6 L429.7 605.5 L431.5 604.5 L433.2 603.5 L434.9 602.4 L436.6 601.4 L438.3 600.4 L440 599.4 L441.8 598.3 L443.5 597.3 L445.2 596.3 L446.9 595.2 L448.6 594.2 L450.3 593.2 L452 592.2 L453.8 591.1 L455.5 590.1 L457.2 589.1 L458.9 588 L460.6 587 L462.3 586 L464.1 584.9 L465.8 583.9 L467.5 582.9 L469.2 581.9 L470.9 580.8 L472.6 579.8 L474.4 578.8 L476.1 577.7 L477.8 576.7 L479.5 575.7 L481.2 574.7 L482.9 573.6 L484.6 572.6 L486.4 571.6 L488.1 570.5 L489.8 569.5 L491.5 568.5 L493.2 567.4 L494.9 566.4 L496.7 565.4 L498.4 564.4 L500.1 563.3 L501.8 562.3 L503.5 561.3 L505.2 560.2 L507 559.2 L508.7 558.2 L510.4 557.1 L512.1 556.1 L513.8 555.1 L515.5 554.1 L517.2 553 L519 552 L520.7 551 L522.4 549.9 L524.1 548.9 L525.8 547.9 L527.5 546.9 L529.3 545.8 L531 544.8 L532.7 543.8 L534.4 542.7 L536.1 541.7 L537.8 540.7 L539.6 539.6 L541.3 538.6 L543 537.6 L544.7 536.6 L546.4 535.5 L548.1 534.5 L549.9 533.5 L551.6 532.4 L553.3 531.4 L555 530.4 L556.7 529.4 L558.4 528.3 L560.1 527.3 L561.9 526.3 L563.6 525.2 L565.3 524.2 L567 523.2 L568.7 522.2 L570.4 521.1 L572.2 520.1 L573.9 519.1 L575.6 518 L577.3 517 L579 516 L580.7 515 L582.5 513.9 L584.2 512.9 L585.9 511.9 L587.6 510.8 L589.3 509.8 L591 508.8 L592.8 507.8 L594.5 506.7 L596.2 505.7 L597.9 504.7 L599.6 503.7 L601.3 502.6 L603.1 501.6 L604.8 500.6 L606.5 499.5 L608.2 498.5 L609.9 497.5 L611.7 496.5 L613.4 495.5 L615.1 494.4 L616.8 493.4 L618.5 492.4 L620.3 491.4 L622 490.3 L623.7 489.3 L625.4 488.3 L627.1 487.3 L628.9 486.3 L630.6 485.3 L632.3 484.2 L634 483.2 L635.8 482.2 L637.5 481.2 L639.2 480.2 L641 479.2 L642.7 478.2 L644.4 477.2 L646.1 476.2 L647.9 475.2 L649.6 474.2 L651.3 473.2 L653.1 472.2 L654.8 471.2 L656.6 470.2 L658.3 469.2 L660 468.2 L661.8 467.3 L663.5 466.3 L665.3 465.3 L667 464.4 L668.8 463.4 L670.6 462.4 L672.3 461.5 L674.1 460.5 L675.9 459.6 L677.6 458.7 L679.4 457.7 L681.2 456.8 L683 455.9 L684.7 455 L686.5 454.1 L688.3 453.3 L690.1 452.4 L691.9 451.5 L693.8 450.7 L695.6 449.9 L697.4 449 L699.2 448.2 L701.1 447.4 L702.9 446.7 L704.8 445.9 L706.6 445.2 L708.5 444.4 L710.4 443.7 L712.2 443 L714.1 442.3 L716 441.7 L717.9 441 L719.8 440.4 L721.7 439.7 L723.6 439.1 L725.5 438.4 L727.4 437.8 L729.3 437.2 L731.2 436.6 L733.1 436 L735 435.4 L736.9 434.8 L738.8 434.1 L740.7 433.5 L742.6 432.9 L744.5 432.3 L746.4 431.7 L748.3 431.1 L750.2 430.4 L752.1 429.8 L754 429.2 L755.9 428.5 L757.8 427.9 L759.7 427.2 L761.6 426.5 L763.5 425.8 L765.3 425.1 L767.2 424.4 L769.1 423.7 L770.9 422.9 L772.8 422.2 L774.6 421.4 L776.5 420.7 L778.3 419.9 L780.2 419.1 L782 418.4 L783.9 417.6 L785.7 416.8 L787.5 416 L789.4 415.2 L791.2 414.4 L793.1 413.7 L794.9 412.9 L796.7 412.1 L798.6 411.3 L800.4 410.5 L802.3 409.8 L804.1 409 L806 408.3 L807.8 407.5 L809.7 406.8 L811.6 406 L813.4 405.3 L815.3 404.6 L817.2 403.9 L819.1 403.2 L820.9 402.6 L822.8 401.9 L824.7 401.3 L826.6 400.7 L828.6 400.1 L830.5 399.5 L832.4 398.9 L834.3 398.3 L836.2 397.8 L838.1 397.2 L840.1 396.7 L842 396.2 L843.9 395.6 L845.9 395.1 L847.8 394.6 L849.7 394.1 L851.7 393.6 L853.6 393.1 L855.6 392.6 L857.5 392.2 L859.4 391.7 L861.4 391.2 L863.3 390.7 L865.3 390.3 L867.2 389.8 L869.2 389.3 L871.1 388.9 L873.1 388.4 L875 387.9 L877 387.5 L878.9 387 L880.8 386.5 L882.8 386.1 L884.7 385.6 L886.7 385.1 L888.6 384.6 L890.6 384.1 L892.5 383.6 L894.4 383.1 L896.4 382.6 L898.3 382.1 L900.2 381.6 L902.2 381.1 L904.1 380.5 L906 380 L907.9 379.4 L909.9 378.9 L911.8 378.3 L913.7 377.7 L915.6 377.1 L917.5 376.5 L919.4 375.9 L921.3 375.3 L923.2 374.7 L925.1 374 L927 373.4 L928.9 372.8 L930.8 372.2 L932.8 371.6 L934.7 371 L936.6 370.4 L938.5 369.8 L940.4 369.3 L942.3 368.7 L944.2 368.2 L946.2 367.6 L948.1 367.1 L950 366.6 L952 366.1 L953.9 365.6 L955.9 365.1 L957.8 364.7 L959.8 364.3 L961.7 363.9 L963.7 363.5 L965.7 363.1 L967.6 362.8 L969.6 362.4 L971.6 362.1 L973.6 361.8 L975.5 361.5 L977.5 361.2 L979.5 360.9 L981.5 360.6 L983.5 360.3 L985.4 360.1 L987.4 359.8 L989.4 359.5 L991.4 359.3 L993.4 359.1 L995.4 358.8 L997.4 358.6 L999.4 358.4 L1001.3 358.2 L1003.3 358.1 L1005.3 357.9 L1007.3 357.8 L1009.3 357.6 L1011.3 357.5 L1013.3 357.4 L1015.3 357.2 L1017.3 357.1 L1019.3 357 L1021.3 356.9 L1023.3 356.8 L1025.3 356.7 L1027.3 356.6 L1029.3 356.5 L1031.3 356.4 L1033.3 356.4 L1035.3 356.4 L1037.3 356.4 L1039.3 356.5 L1041.3 356.6 L1043.3 356.7 L1045.3 356.8 L1047.3 357 L1049.3 357.2 L1051.3 357.5 L1053.3 357.6 L1055.3 357.8 L1057.3 357.9 L1059.3 358 L1061.3 358 L1063.3 358.1 L1065.3 358.2 L1067.3 358.2 L1069.3 358.3 L1071.3 358.4 L1073.3 358.5 L1075.3 358.6 L1077.3 358.7 L1079.2 358.9 L1081.2 359.2 L1083.2 359.6 L1085.1 360 L1087.1 360.6 L1089 361.1 L1090.9 361.7 L1092.8 362.2 L1094.8 362.8 L1096.7 363.4 L1098.6 364 L1100.5 364.7 L1102.4 365.3 L1104.3 365.9 L1106.2 366.6 L1108.1 367.2 L1110 367.8 L1111.9 368.5 L1113.7 369.2 L1115.6 370 L1117.4 370.8 L1119.2 371.7 L1120.9 372.6 L1122.7 373.6 L1124.5 374.5 L1126.3 375.4 L1128.1 376.3 L1129.9 377.1 L1131.7 378 L1133.5 378.9 L1135.3 379.8 L1137 380.8 L1138.8 381.8 L1140.5 382.8 L1142.2 383.9 L1143.9 385 L1145.5 386.1 L1147.1 387.3 L1148.6 388.6 L1150.2 389.8 L1151.7 391.2 L1153.2 392.6 L1154.6 394 L1155.9 395.5 L1157.2 397 L1158.4 398.5 L1159.6 400.1 L1160.8 401.8 L1161.9 403.5 L1163 405.2 L1164 406.9 L1165 408.6 L1165.9 410.4 L1166.9 412.1 L1167.8 413.9 L1168.7 415.7 L1169.6 417.5 L1170.6 419.3 L1171.6 421 L1172.5 422.8 L1173.5 424.5 L1174.4 426.3 L1175.2 428.1 L1175.9 430 L1176.5 431.9 L1177.2 433.8 L1177.8 435.7 L1178.4 437.6 L1179 439.5 L1179.6 441.4 L1180.1 443.4 L1180.7 445.3 L1181.3 447.2 L1181.9 449.1 L1182.5 451 L1183.1 452.9 L1183.8 454.8 L1184.6 456.6 L1185.3 458.5 L1186 460.4 L1186.6 462.3 L1187.2 464.2 L1187.8 466.1 L1188.3 468 L1188.8 470 L1189.3 471.9 L1189.8 473.9 L1190.2 475.8 L1190.6 477.8 L1190.9 479.8 L1191.3 481.7 L1191.6 483.7 L1192 485.7 L1192.3 487.6 L1192.6 489.6 L1193 491.6 L1193.3 493.6 L1193.6 495.5 L1194 497.5 L1194.3 499.5 L1194.7 501.4 L1195 503.4 L1195.3 505.4 L1195.7 507.4 L1196 509.3 L1196.4 511.3"/>
</g>
<path d="M411 642.6 L413.7 642.8 L415 641.2 L415.3 638.3 L416.3 636.3 L418.7 636.2 L421.5 636.6 L423.2 635.5 L423.7 632.8 L424.4 630.3 L426.5 629.8 L429.3 630.3 L431.4 629.8 L432.1 627.3 L432.5 624.6 L434.3 623.5 L437.1 624 L439.5 623.9 L440.4 621.8 L440.8 618.9 L442.2 617.4 L444.9 617.7 L447.5 617.9 L448.8 616.3 L449.2 613.4 L450.2 611.4 L452.7 611.4 L455.5 611.8 L457.1 610.7 L457.6 607.9 L458.4 605.6 L460.5 605.1 L463.4 605.7 L465.4 605.1 L466.1 602.5 L466.6 599.9 L468.4 598.9 L471.3 599.5 L473.6 599.3 L474.5 597.1 L474.9 594.3 L476.4 592.8 L479.1 593.2 L481.7 593.4 L482.9 591.7 L483.3 588.8 L484.4 586.9 L486.9 586.9 L489.7 587.4 L491.3 586.2 L491.8 583.4 L492.6 581.1 L494.8 580.7 L497.7 581.3 L499.6 580.7 L500.3 578.1 L501 575.5 L502.8 574.7 L505.7 575.3 L508 575.2 L508.9 573 L509.5 570.2 L511.1 568.9 L513.8 569.4 L516.3 569.8 L517.7 568.1 L518.3 565.2 L519.6 563.5 L522.1 563.8 L524.8 564.4 L526.5 563.3 L527.1 560.5 L528.1 558.3 L530.4 558.2 L533.2 558.9 L535.2 558.2 L535.8 555.6 L536.5 553 L538.4 552.3 L541.3 552.9 L543.5 552.6 L544.4 550.4 L544.9 547.6 L546.5 546.3 L549.2 546.7 L551.7 546.9 L552.9 545.1 L553.4 542.2 L554.6 540.4 L557.2 540.6 L559.9 541.1 L561.4 539.8 L561.9 537 L562.9 534.8 L565.2 534.6 L568 535.3 L569.9 534.5 L570.6 531.9 L571.4 529.4 L573.4 528.8 L576.2 529.5 L578.4 529.2 L579.3 527 L579.9 524.2 L581.6 523.1 L584.3 523.6 L586.8 523.8 L588 522 L588.6 519.1 L589.9 517.5 L592.5 517.8 L595.2 518.3 L596.7 516.9 L597.3 514.1 L598.3 512 L600.6 511.9 L603.4 512.6 L605.3 511.8 L606 509.1 L606.8 506.6 L608.8 506.1 L611.6 506.8 L613.8 506.5 L614.7 504.1 L615.3 501.4 L617 500.3 L619.8 500.9 L622.2 501 L623.4 499.1 L623.9 496.3 L625.3 494.7 L627.9 495.1 L630.6 495.5 L632 494.1 L632.6 491.2 L633.6 489.2 L636 489.2 L638.8 489.8 L640.6 488.9 L641.3 486.2 L642.1 483.8 L644.1 483.3 L647 484 L649.1 483.6 L649.9 481.2 L650.5 478.5 L652.3 477.5 L655.1 478.1 L657.5 478.1 L658.6 476.1 L659.1 473.2 L660.4 471.7 L663.1 472 L665.8 472.4 L667.1 470.9 L667.6 468 L668.7 466 L671.1 466 L673.9 466.5 L675.6 465.5 L676.2 462.8 L677 460.4 L679.1 460 L682 460.7 L684.1 460.2 L684.9 457.8 L685.6 455.1 L687.4 454.2 L690.2 455 L692.6 455.1 L693.7 453.1 L694.4 450.2 L696 448.9 L698.6 449.5 L701.2 450.1 L702.7 448.7 L703.5 445.9 L704.9 444.2 L707.4 444.6 L710 445.6 L711.8 444.9 L712.9 442.3 L714.2 440.1 L716.4 440.2 L719.1 441.5 L721.2 441.4 L722.5 439.2 L723.8 436.8 L725.8 436.4 L728.3 437.7 L730.6 438.3 L732.1 436.5 L733.4 433.9 L735.2 433 L737.7 434.1 L740.1 435.1 L741.8 433.9 L743 431.2 L744.7 429.7 L747 430.5 L749.6 431.8 L751.5 431.1 L752.7 428.6 L754.1 426.6 L756.4 426.8 L758.9 428.2 L761 428.1 L762.3 425.8 L763.6 423.4 L765.6 423 L768.2 424.3 L770.5 424.6 L771.9 422.7 L773 420 L774.7 419 L777.3 420 L779.8 420.7 L781.3 419.3 L782.4 416.5 L783.9 415 L786.3 415.6 L788.9 416.6 L790.7 415.7 L791.8 413.1 L793.1 411 L795.3 411.2 L798 412.4 L800 412.1 L801.2 409.7 L802.4 407.3 L804.4 406.9 L807.1 408.2 L809.3 408.4 L810.7 406.4 L811.8 403.8 L813.6 402.9 L816.2 404 L818.6 404.8 L820.2 403.4 L821.4 400.7 L823.1 399.3 L825.5 400.2 L828 401.5 L829.8 400.6 L831.1 398.1 L832.7 396.3 L834.9 396.8 L837.4 398.3 L839.5 398.1 L840.9 395.8 L842.4 393.6 L844.5 393.7 L847 395.2 L849.1 395.7 L850.7 393.8 L852.2 391.3 L854.1 390.8 L856.5 392.2 L858.8 393.2 L860.6 391.9 L862 389.3 L863.8 388.2 L866.1 389.3 L868.5 390.7 L870.4 389.9 L871.8 387.4 L873.5 385.8 L875.7 386.5 L878.2 388 L880.2 387.8 L881.7 385.6 L883.2 383.5 L885.3 383.6 L887.8 385.2 L890 385.6 L891.6 383.7 L893 381.2 L894.9 380.8 L897.4 382.2 L899.7 383 L901.4 381.6 L902.7 379 L904.5 377.9 L906.9 378.9 L909.3 380.1 L911.1 379.1 L912.4 376.5 L914 374.8 L916.3 375.4 L918.8 376.8 L920.8 376.4 L922.1 374 L923.5 371.8 L925.6 371.9 L928.2 373.3 L930.4 373.5 L931.8 371.4 L933.1 368.9 L935.1 368.4 L937.6 369.8 L939.9 370.5 L941.5 368.9 L942.8 366.3 L944.6 365.2 L947 366.4 L949.4 367.6 L951.2 366.6 L952.6 364 L954.3 362.5 L956.6 363.3 L959 364.9 L961 364.6 L962.5 362.3 L964.2 360.4 L966.3 360.8 L968.7 362.6 L970.8 363 L972.5 361.1 L974.2 358.9 L976.2 358.7 L978.5 360.5 L980.7 361.4 L982.5 360 L984.1 357.6 L986.1 357 L988.3 358.5 L990.5 359.9 L992.4 359.1 L994.2 356.8 L996 355.6 L998.2 356.7 L1000.4 358.5 L1002.4 358.4 L1004.2 356.3 L1006.1 354.6 L1008.1 355.4 L1010.3 357.3 L1012.3 357.9 L1014.2 356.1 L1016.1 354.1 L1018.1 354.2 L1020.2 356.2 L1022.3 357.3 L1024.3 356 L1026.1 353.8 L1028.1 353.3 L1030.2 355.1 L1032.2 356.8 L1034.2 356.2 L1036.2 354 L1038.2 353.1 L1040.2 354.6 L1042.2 356.6 L1044.1 356.7 L1046.3 354.9 L1048.4 353.7 L1050.3 354.9 L1052.1 357.2 L1054 358 L1056.2 356.6 L1058.4 355.1 L1060.3 355.7 L1062.1 358 L1064.1 359.2 L1066.1 357.9" fill="none" stroke="#000" stroke-width="3.6" stroke-linecap="round" stroke-linejoin="round"/>
<path d="M1066.1 357.3 L1068.1 357.2 L1070.1 357.2 L1072.2 357.1 L1074.2 357.1 L1076.2 357 L1078.2 357 L1080.2 357 L1082.2 356.9 L1084.2 356.9 L1086.2 356.9 L1088.2 357 L1090.1 357.3 L1092.1 357.6 L1094.1 358 L1096.1 358.4 L1098 358.8 L1100 359.2 L1102 359.6 L1103.9 360 L1105.9 360.5 L1107.8 361 L1109.8 361.5 L1111.7 362.1 L1113.6 362.7 L1115.5 363.3 L1117.4 364 L1119.2 364.8 L1121.1 365.5 L1122.9 366.3 L1124.8 367.1 L1126.6 367.9 L1128.4 368.7 L1130.2 369.6 L1132 370.5 L1133.8 371.4 L1135.6 372.3 L1137.3 373.3 L1139.1 374.3 L1140.8 375.3 L1142.6 376.3 L1144.3 377.4 L1146 378.4 L1147.7 379.5 L1149.3 380.6 L1151 381.7 L1152.6 382.9 L1154.3 384 L1155.9 385.2 L1157.4 386.5 L1159 387.7 L1160.6 389 L1162.1 390.3 L1163.5 391.7 L1164.9 393.1 L1166.2 394.6 L1167.5 396.1 L1168.8 397.7 L1170 399.3 L1171.2 400.9 L1172.3 402.6 L1173.4 404.3 L1174.4 406 L1175.4 407.7 L1176.4 409.5 L1177.4 411.3 L1178.3 413 L1179.3 414.8 L1180.2 416.6 L1181.1 418.3 L1182.1 420.1 L1183 421.9 L1183.8 423.7 L1184.7 425.5 L1185.6 427.3 L1186.5 429.1 L1187.4 430.9 L1188.2 432.7 L1189 434.6 L1189.7 436.4 L1190.4 438.3 L1191.1 440.2 L1191.7 442.1 L1192.3 444 L1192.9 445.9 L1193.4 447.9 L1193.8 449.8 L1194.3 451.8 L1194.7 453.7 L1195.1 455.7 L1195.5 457.6 L1196 459.6 L1196.4 461.6 L1196.9 463.5 L1197.4 465.5 L1197.8 467.4 L1198.3 469.3 L1198.8 471.3 L1199.3 473.2 L1199.8 475.2 L1200.3 477.1 L1200.8 479 L1201.3 481 L1201.7 482.9 L1202.1 484.9 L1202.5 486.9 L1202.8 488.8 L1203.1 490.8 L1203.4 492.8 L1203.7 494.8" fill="none" stroke="#000" stroke-width="3.6" stroke-linecap="round" stroke-dasharray="1.9 10.5"/>
<g fill="none" stroke="#000" stroke-width="4.4" stroke-linejoin="round" stroke-linecap="round">
<path d="M165.9 822.2 V20.7 H1246.9 V822.2 Z"/>
</g>
<g fill="none" stroke="#000" stroke-width="4" stroke-linecap="round">
<path d="M339.7 822 V810.5"/>
<path d="M514.1 822 V810.5"/>
<path d="M688.5 822 V810.5"/>
<path d="M862.9 822 V810.5"/>
<path d="M1037.3 822 V810.5"/>
<path d="M1211.7 822 V810.5"/>
<path d="M166 734.9 H176.5"/>
<path d="M166 650 H176.5"/>
<path d="M166 565.1 H176.5"/>
<path d="M166 480.2 H176.5"/>
<path d="M166 395.3 H176.5"/>
<path d="M166 310.4 H176.5"/>
<path d="M166 225.5 H176.5"/>
<path d="M166 140.6 H176.5"/>
<path d="M166 55.7 H176.5"/>
<path d="M1247 720.4 H1234.5"/>
<path d="M1247 620.4 H1234.5"/>
<path d="M1247 520.4 H1234.5"/>
<path d="M1247 420.4 H1234.5"/>
<path d="M1247 320.4 H1234.5"/>
<path d="M1247 220.4 H1234.5"/>
<path d="M1247 120.4 H1234.5"/>
</g>
<g font-family="'Liberation Sans', Arial, Helvetica, sans-serif" fill="#000" stroke="#000" stroke-width="0.8" stroke-linejoin="round">
<g font-size="50.5" text-anchor="end">
<text x="146.6" y="833.9">15</text>
<text x="146.6" y="748.9">16</text>
<text x="146.6" y="663.9">17</text>
<text x="146.6" y="578.9">18</text>
<text x="146.6" y="493.9">19</text>
<text x="146.6" y="408.9">20</text>
<text x="146.6" y="323.9">21</text>
<text x="146.6" y="238.9">22</text>
<text x="146.6" y="153.9">23</text>
<text x="146.6" y="68.9">24</text>
</g>
<g font-size="50.5" text-anchor="middle">
<text x="175.6" y="883">25</text>
<text x="349.9" y="883">30</text>
<text x="524.3" y="883">35</text>
<text x="698.6" y="883">40</text>
<text x="873" y="883">45</text>
<text x="1047.3" y="883">50</text>
<text x="1221.7" y="883">55</text>
</g>
<g font-size="50.5" text-anchor="middle">
<text x="1290.6" y="830.2">0</text>
<text x="1290.6" y="731.1">10</text>
<text x="1290.6" y="632.2">20</text>
<text x="1290.6" y="533">30</text>
<text x="1290.6" y="434.9">40</text>
<text x="1290.6" y="334.9">50</text>
<text x="1290.6" y="234.5">60</text>
<text x="1290.6" y="134.7">70</text>
<text x="1290.6" y="39.2">80</text>
</g>
<text font-size="57.6" x="544.5" y="971">Pout (dBm)</text>
<text font-size="57.6" transform="translate(45.5 551.3) rotate(-90)">gain (dB)</text>
<text font-size="57.6" transform="translate(1353.3 333.2) rotate(90)">DE([%)</text>
<text font-size="58.5" x="254" y="114.2">DE</text>
<text font-size="58.5" x="226" y="190.8">gain</text>
<text font-size="50.5" x="567.6" y="334.8">20 V</text>
<text font-size="50.5" x="690.6" y="746.6">20 V</text>
</g>
<path d="M364.5 90.8 H631.8" stroke="#000" stroke-width="5.6" stroke-linecap="round" fill="none"/>
<g fill="#000">
<rect x="379.2" y="157.1" width="12.2" height="6.4" rx="2.2"/>
<rect x="405.6" y="157.1" width="12.2" height="6.4" rx="2.2"/>
<rect x="432.1" y="157.1" width="12.2" height="6.4" rx="2.2"/>
<rect x="458.5" y="157.1" width="12.2" height="6.4" rx="2.2"/>
<rect x="485" y="157.1" width="12.2" height="6.4" rx="2.2"/>
<rect x="511.4" y="157.1" width="12.2" height="6.4" rx="2.2"/>
<rect x="537.9" y="157.1" width="12.2" height="6.4" rx="2.2"/>
<rect x="564.4" y="157.1" width="12.2" height="6.4" rx="2.2"/>
<rect x="590.8" y="157.1" width="12.2" height="6.4" rx="2.2"/>
<rect x="617.2" y="157.1" width="12.2" height="6.4" rx="2.2"/>
<rect x="643.7" y="157.1" width="12.2" height="6.4" rx="2.2"/>
</g>
<g stroke="#000" stroke-width="3.6" stroke-linecap="round" fill="none">
<path d="M686.3 316.3 H750"/><path d="M809.7 727.6 H873"/>
</g>
<path d="M747.4 305.6 L769.2 316.3 L747.4 327.2 Z" fill="#000" stroke="#000" stroke-width="1.2" stroke-linejoin="round"/>
<path d="M870.2 716.8 L892.4 727.6 L870.2 738.6 Z" fill="#000" stroke="#000" stroke-width="1.2" stroke-linejoin="round"/>
</svg>
</body></html>
